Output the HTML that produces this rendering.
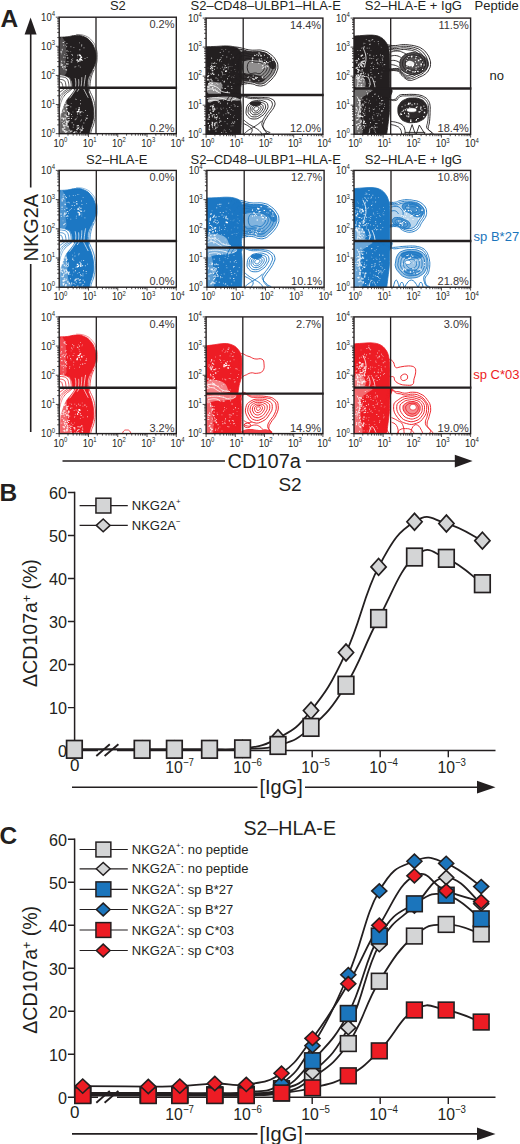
<!DOCTYPE html>
<html><head><meta charset="utf-8"><title>Figure</title>
<style>
html,body{margin:0;padding:0;background:#fff;}
svg{display:block;}
text{font-family:"Liberation Sans", Arial, Helvetica, sans-serif;}
</style></head><body>
<svg width="520" height="1144" viewBox="0 0 520 1144">
<rect width="520" height="1144" fill="#fff"/>
<g fill="#231f20">
<g id="panelA">
<clipPath id="cp00"><rect x="59.2" y="17.2" width="117.1" height="116.46"/></clipPath>
<clipPath id="cp01"><rect x="206.1" y="18.1" width="116.8" height="116.1"/></clipPath>
<clipPath id="cp02"><rect x="354" y="18.1" width="116.6" height="116.1"/></clipPath>
<clipPath id="cp10"><rect x="59.2" y="170.4" width="117.1" height="116.8"/></clipPath>
<clipPath id="cp11"><rect x="206.9" y="170.4" width="117.2" height="116.8"/></clipPath>
<clipPath id="cp12"><rect x="354" y="170.4" width="116.6" height="116.8"/></clipPath>
<clipPath id="cp20"><rect x="59.2" y="316.9" width="117.1" height="116.7"/></clipPath>
<clipPath id="cp21"><rect x="206.1" y="316.9" width="116.8" height="116.7"/></clipPath>
<clipPath id="cp22"><rect x="354" y="316.9" width="116.6" height="116.7"/></clipPath>
<g clip-path="url(#cp00)">
<path d="M59.2,37.2C61.2,37.1 62.95,37.25 67.2,36.8C71.45,36.35 71.95,35.4 76.2,35.4C80.45,35.4 80.58,35.23 84.2,36.8C87.83,38.38 88.05,38.6 90.7,41.7C93.35,44.8 93.45,45.33 94.8,49.2C96.15,53.08 96.1,53.33 96.1,57.2C96.1,61.08 95.83,61.33 94.8,64.7C93.78,68.08 93.4,67.83 92,70.7C90.6,73.58 90.25,73.58 89.2,76.2C88.15,78.83 88.25,78.33 87.8,81.2C87.35,84.08 87.5,86.08 87.4,87.7L72.8,87.7L71.8,81.2L69.7,77.4L64.2,75.4L59.2,74.6Z" fill="#231f20" stroke="#231f20" stroke-width="0.8" stroke-linejoin="round"/>
<path d="M59.7,76.8C60.83,76.9 62.33,76.6 64.2,77.2C66.08,77.8 66.1,77.7 67.2,79.2C68.3,80.7 68.15,81.08 68.6,83.2C69.05,85.33 68.9,86.58 69,87.7" fill="none" stroke="#231f20" stroke-width="0.75"/><path d="M59.7,79.4C60.58,79.55 61.78,79.25 63.2,80C64.62,80.75 64.7,80.48 65.4,82.4C66.1,84.33 65.85,86.38 66,87.7" fill="none" stroke="#231f20" stroke-width="0.75"/><path d="M59.7,82.2C60.23,82.35 60.98,81.42 61.8,82.8C62.62,84.17 62.7,86.47 63,87.7" fill="none" stroke="#231f20" stroke-width="0.75"/><path d="M67.2,76.6C67.85,77.15 68.85,77.15 69.8,78.8C70.75,80.45 70.65,80.98 71,83.2C71.35,85.42 71.15,86.58 71.2,87.7" fill="none" stroke="#231f20" stroke-width="0.75"/><path d="M92.6,70.4C91.95,72.1 90.95,74 90,77.2C89.05,80.4 89.15,80.58 88.8,83.2C88.45,85.83 88.65,86.58 88.6,87.7" fill="none" stroke="#231f20" stroke-width="0.75"/><path d="M93.8,70.2C93.1,72.2 92,73.83 91,78.2C90,82.58 90.1,85.33 89.8,87.7" fill="none" stroke="#231f20" stroke-width="0.75"/>
<path d="M75.2,78.2C75.35,79.2 75.7,80.03 75.8,82.2C75.9,84.38 75.65,85.73 75.6,86.9" fill="none" stroke="#fff" stroke-width="0.7"/><path d="M78.6,79.2C78.65,80.2 78.85,81.28 78.8,83.2C78.75,85.12 78.5,85.98 78.4,86.9" fill="none" stroke="#fff" stroke-width="0.7"/><path d="M81.8,77.2C81.75,78.45 81.8,79.78 81.6,82.2C81.4,84.62 81.15,85.73 81,86.9" fill="none" stroke="#fff" stroke-width="0.7"/><path d="M85.6,75.2C85.35,76.7 85,78.28 84.6,81.2C84.2,84.12 84.15,85.48 84,86.9" fill="none" stroke="#fff" stroke-width="0.7"/>
<path d="M60.4,134.66C60.48,131.67 60.32,124.69 60.8,119.7C61.28,114.71 61.72,113.38 62.8,109.7C63.88,106.02 64.6,104.18 66.2,101.3C67.8,98.42 69.2,97.42 70.8,95.3C72.4,93.18 73.32,92.22 74.2,90.7C75.08,89.18 72.6,88.3 75.2,87.7C77.8,87.1 84.48,86.7 87.2,87.7C89.92,88.7 88,90.5 88.8,92.7C89.6,94.9 90.32,95.9 91.2,98.7C92.08,101.5 92.7,103.3 93.2,106.7C93.7,110.1 93.9,112.3 93.7,115.7C93.5,119.1 92.9,120.9 92.2,123.7C91.5,126.5 90.76,127.51 90.2,129.7C89.64,131.89 89.56,133.67 89.4,134.66Z" fill="#231f20" stroke="#231f20" stroke-width="0.8" stroke-linejoin="round"/>
<path d="M59.7,101.7C60.33,100.2 60.58,98.2 62.2,95.7C63.83,93.2 64.2,93.3 66.2,91.7C68.2,90.1 68.55,90.3 70.2,89.3C71.85,88.3 72.15,88.1 72.8,87.7" fill="none" stroke="#231f20" stroke-width="0.75"/><path d="M59.7,96.7C60.45,95.7 61.08,94.4 62.7,92.7C64.33,91 64.47,91.15 66.2,89.9C67.93,88.65 68.75,88.25 69.6,87.7" fill="none" stroke="#231f20" stroke-width="0.75"/><path d="M59.7,92.3C60.45,91.75 61.23,91.25 62.7,90.1C64.18,88.95 64.88,88.3 65.6,87.7" fill="none" stroke="#231f20" stroke-width="0.75"/><path d="M59.7,107.7C60.23,105.83 60.43,103.45 61.8,100.2C63.18,96.95 63.35,96.93 65.2,94.7C67.05,92.47 67.45,92.75 69.2,91.3C70.95,89.85 71.45,89.5 72.2,88.9" fill="none" stroke="#231f20" stroke-width="0.75"/><path d="M88.6,87.7C89.1,88.95 89.45,89.95 90.6,92.7C91.75,95.45 92.15,95.45 93.2,98.7C94.25,101.95 94.3,101.7 94.8,105.7C95.3,109.7 95.45,110.2 95.2,114.7C94.95,119.2 94.7,119.95 93.8,123.7C92.9,127.45 92.35,127.21 91.6,129.7C90.85,132.19 91,132.67 90.8,133.66" fill="none" stroke="#231f20" stroke-width="0.75"/><path d="M59.8,113.7C59.88,116.2 60.1,118.71 60.1,123.7C60.1,128.69 59.88,131.17 59.8,133.66" fill="none" stroke="#231f20" stroke-width="0.75"/>
<path d="M76.2,88.7C75.45,89.85 74.85,90.9 73.2,93.3C71.55,95.7 70.5,97.05 69.6,98.3" fill="none" stroke="#fff" stroke-width="0.7"/><path d="M79.2,88.7C78.7,89.45 77.7,90.95 77.2,91.7" fill="none" stroke="#fff" stroke-width="0.7"/><path d="M83.6,88.7C84.1,89.7 84.45,90.45 85.6,92.7C86.75,94.95 87.55,96.45 88.2,97.7" fill="none" stroke="#fff" stroke-width="0.7"/>
<path d="M76.2,34.4C78.45,34.75 81.2,34.15 85.2,35.8C89.2,37.45 89.45,37.8 92.2,41C94.95,44.2 94.9,44.55 96.2,48.6C97.5,52.65 97.45,52.95 97.4,57.2C97.35,61.45 97.05,62.1 96,65.6C94.95,69.1 93.9,69.8 93.2,71.2" fill="none" stroke="#231f20" stroke-width="0.5"/>
<path d="M60.1,96.7C60.72,89.27 61.88,94.7 63.2,95.7C64.52,96.7 65.9,98.1 66.7,101.7C67.5,105.3 66.9,108.9 67.2,113.7C67.5,118.5 67.4,121.87 68.2,125.7C69,129.53 72.82,131.43 71.2,132.86C69.58,134.29 62.32,140.09 60.1,132.86C57.88,125.63 59.48,104.13 60.1,96.7Z" fill="#fff" fill-opacity="0.32"/>
<path d="M60.1,40.2C60.92,33.6 62.98,38 64.2,40.2C65.42,42.4 65.92,46.6 66.2,51.2C66.48,55.8 65.6,58.8 65.6,63.2C65.6,67.6 67.3,71.2 66.2,73.2C65.1,75.2 61.32,79.8 60.1,73.2C58.88,66.6 59.28,46.8 60.1,40.2Z" fill="#fff" fill-opacity="0.22"/>
<path d="M71.94,60.41h0.89v0.54h-0.89zM66.54,53.17h0.53v0.8h-0.53zM82.52,57.51h0.54v0.55h-0.54zM63.68,61.43h0.57v0.63h-0.57zM65.39,44.72h0.85v0.74h-0.85zM76.97,54.72h1.02v0.67h-1.02zM76.95,59.25h0.69v0.99h-0.69zM78.38,65.57h0.88v0.72h-0.88zM71.09,54.09h0.54v0.62h-0.54zM70.6,46.31h0.69v0.85h-0.69zM67.39,57.58h0.98v0.92h-0.98zM74.57,66.56h0.82v1.03h-0.82zM73.3,47.22h1.09v0.57h-1.09zM64.35,61.62h0.59v0.79h-0.59zM84.51,58.19h0.96v0.84h-0.96zM79.36,49.28h0.92v0.86h-0.92zM66.5,50.32h1v1.07h-1zM63.75,57.18h0.54v0.92h-0.54zM66.4,43.27h0.99v0.67h-0.99zM66.19,63.27h0.51v0.78h-0.51zM76.39,59.67h0.54v0.96h-0.54zM78.65,60.62h0.73v1.02h-0.73zM81.82,60.08h0.83v1.03h-0.83zM79.3,42.56h0.67v0.75h-0.67zM66.48,66.14h1.07v0.59h-1.07zM77,61.66h0.64v0.79h-0.64zM68.55,51.12h0.5v0.75h-0.5zM67.54,63.47h1.07v0.91h-1.07zM64.03,54.05h0.91v0.53h-0.91zM83.47,47.38h1.02v0.98h-1.02zM67.8,61.13h0.56v0.88h-0.56zM77.32,56.68h0.63v0.6h-0.63zM72.6,58.1h0.5v0.59h-0.5zM80.5,60.58h0.52v1.02h-0.52zM70.42,51.4h0.65v0.71h-0.65zM71.2,59.16h1.01v1.1h-1.01zM65.36,57.41h0.55v0.56h-0.55zM70.52,61.65h1v0.6h-1zM86.74,57.32h0.82v0.59h-0.82zM72.14,54.54h0.82v1.09h-0.82zM81.29,45.73h0.66v0.72h-0.66zM79.89,66.63h0.82v0.97h-0.82zM71.25,61.42h0.99v1.09h-0.99zM81.22,44.44h0.99v0.94h-0.99zM75.56,65.88h0.71v0.52h-0.71zM80.97,56.58h0.66v0.92h-0.66z" fill="#fff" fill-opacity="0.85"/>
<path d="M80.37,56.44h1.65v1.69h-1.65zM80.21,56.49h1.08v1.08h-1.08zM79.09,58.99h1.4v1.62h-1.4zM79.67,54.75h1.42v1.54h-1.42zM80.52,58.93h1.63v1.53h-1.63zM78.7,54.3h1.04v1.53h-1.04zM77.55,60.46h1.68v1.22h-1.68zM76.64,59.57h1.48v1.04h-1.48zM79.41,58.37h1.62v1.55h-1.62z" fill="#fff" fill-opacity="1"/>
<path d="M65.69,69.48h1.38v1.13h-1.38zM62.13,67.37h0.7v0.61h-0.7zM66.55,54.71h1.02v1.35h-1.02zM60.63,63.61h1.26v0.77h-1.26zM63.68,66.4h0.79v1.07h-0.79zM63.56,68.19h0.7v1.33h-0.7zM62.22,66.35h1.07v1.32h-1.07zM60.67,64.99h1v1.03h-1zM63.21,56.86h0.95v0.75h-0.95zM66.92,57.58h0.74v0.98h-0.74zM63.28,44.67h0.86v1.01h-0.86zM60.7,52.06h0.68v1.05h-0.68zM63.72,66.15h1.22v1.01h-1.22zM60.79,51.59h1.33v0.95h-1.33zM61.75,49.35h1.01v1.15h-1.01zM61.19,60.86h0.98v1.35h-0.98zM62.64,42.09h1.35v0.81h-1.35zM60.45,51.17h1.27v0.71h-1.27zM65.43,65.02h0.66v0.79h-0.66zM66.34,63.37h1.23v1.32h-1.23zM65.42,69.07h1.13v0.71h-1.13zM66.32,45.97h0.78v1.36h-0.78zM61.68,64.28h1.39v1.27h-1.39zM64.95,66.68h1.01v0.87h-1.01zM64.38,66.24h1.18v0.62h-1.18zM61.45,53.44h0.61v0.87h-0.61zM61.87,48.65h0.65v1.39h-0.65zM64.55,40.93h0.68v0.81h-0.68zM66.78,60.89h0.82v0.7h-0.82zM60.67,64.82h1.26v0.81h-1.26z" fill="#fff" fill-opacity="0.8"/>
<path d="M83.43,122.53h0.84v0.92h-0.84zM79.43,113.49h0.91v0.76h-0.91zM86.77,117.66h0.88v0.98h-0.88zM86,118.21h0.54v1.02h-0.54zM71.06,114.03h0.83v1.06h-0.83zM76.76,116.7h0.82v0.64h-0.82zM80.62,115.27h0.53v0.62h-0.53zM74.89,118.85h0.96v0.67h-0.96zM72.56,111.7h0.71v0.51h-0.71zM77.2,113.43h0.94v0.83h-0.94zM80.01,120.66h1.06v0.56h-1.06zM80.23,103.35h0.8v1h-0.8zM71.07,117.9h0.91v1.09h-0.91zM71.68,122.37h0.92v0.88h-0.92zM71.84,116.35h0.53v0.58h-0.53zM85.75,116.88h0.65v0.6h-0.65zM85.9,118.2h1.02v0.9h-1.02zM76.12,118.45h0.68v0.78h-0.68zM81.23,119.51h0.66v1.08h-0.66zM85.22,109.93h0.65v1.08h-0.65zM74.8,119.48h0.5v0.73h-0.5zM69.5,113.27h0.62v0.8h-0.62zM82.85,111.92h0.55v0.74h-0.55zM78.79,112.24h0.68v0.64h-0.68zM70.33,106.48h0.95v0.89h-0.95zM75.01,98.87h0.73v0.7h-0.73zM81.43,111.18h0.93v0.89h-0.93zM86.88,115.18h1.04v0.88h-1.04zM76.2,99.15h0.58v0.81h-0.58zM67.15,111.35h0.98v1h-0.98zM68.22,105.03h0.91v0.92h-0.91zM77.44,114.15h0.58v0.72h-0.58zM85.15,119.54h0.84v0.88h-0.84zM70.83,103.47h0.79v0.5h-0.79zM80.01,100.13h0.8v0.82h-0.8zM75.67,108.67h0.94v0.65h-0.94z" fill="#fff" fill-opacity="0.85"/>
<path d="M79.8,111.54h1.41v1.04h-1.41zM78.55,107.15h1.25v1.17h-1.25zM76.73,111.09h1.44v1.33h-1.44zM78.28,109.92h1v1.08h-1zM78.64,108.72h1.3v0.91h-1.3zM79.85,111.39h1.37v1.38h-1.37zM78.12,108.97h1.26v1.23h-1.26zM77.89,110.96h1.53v1.04h-1.53z" fill="#fff" fill-opacity="1"/>
<path d="M68.73,115.71h0.72v1.11h-0.72zM66.46,104.34h1.1v0.94h-1.1zM65.72,131.82h0.89v1.22h-0.89zM66.61,126.14h1.56v0.82h-1.56zM65.98,108.03h1.5v1.33h-1.5zM65.16,131.81h1.14v0.72h-1.14zM67.64,117.94h1.11v0.97h-1.11zM66.26,124.5h0.98v1.46h-0.98zM68.34,117.84h1.46v0.81h-1.46zM67.87,112.05h1.51v0.96h-1.51zM62.87,124.46h1.6v1.23h-1.6zM62.94,125.23h0.95v0.74h-0.95zM67.78,125.87h0.96v1.54h-0.96zM64.71,125.43h1.16v0.87h-1.16zM61.83,128.18h1.5v1.43h-1.5zM61.97,107.19h1.55v1.19h-1.55zM64.52,114.42h1.36v1.11h-1.36zM64.76,105.66h0.96v0.74h-0.96zM66.04,115.32h1.12v1.01h-1.12zM63.63,130.02h1.58v0.93h-1.58zM63.42,110.87h1.2v1.05h-1.2zM65.54,122.94h0.89v1.52h-0.89zM62.73,117.83h1.52v1.6h-1.52zM63.21,119.43h0.87v0.78h-0.87zM64.01,121.49h0.92v0.93h-0.92zM61.12,111.71h1.37v1.07h-1.37zM62.09,123.29h1.04v1h-1.04zM66.75,120.7h1.57v0.81h-1.57zM61.37,117.45h1.48v0.89h-1.48zM64.42,125.11h1.06v1.1h-1.06zM68.41,113.76h1.49v0.72h-1.49zM68.17,120.24h1.51v1.13h-1.51zM64.65,117.6h1.05v1.53h-1.05zM66.48,105.36h1.58v0.92h-1.58zM65.98,121.43h1.17v1.31h-1.17zM68.03,113.12h1.28v1.39h-1.28zM61.69,120.65h0.74v1.4h-0.74zM65.14,132h1.28v0.97h-1.28zM66.16,123.12h1.27v1.33h-1.27zM65.55,120.28h1.17v1.22h-1.17zM63.19,122.29h1.24v0.71h-1.24zM63.79,127.35h1.56v1.28h-1.56zM66.86,110.8h0.91v0.92h-0.91zM68.12,114.62h0.98v0.72h-0.98zM61.25,117.83h1.08v0.93h-1.08zM62.7,105.17h0.9v0.73h-0.9zM63.27,125.98h1.31v0.88h-1.31zM65.75,105.36h1.15v0.88h-1.15zM67,116.12h1.44v0.91h-1.44zM65.35,130.57h0.97v1.56h-0.97zM62.88,117.87h0.9v1.08h-0.9zM62.62,105.11h0.83v1.05h-0.83zM65.66,132.11h0.83v0.75h-0.83zM67.15,121.17h1.51v1.5h-1.51zM64.25,102.81h1.54v1h-1.54zM66.3,131.04h1.37v0.73h-1.37zM63.38,109.77h1.04v1h-1.04zM64.81,118.4h0.95v1.02h-0.95zM66.12,116.24h1.57v0.89h-1.57zM62.34,128.36h1.44v1.09h-1.44z" fill="#fff" fill-opacity="0.85"/>
<path d="M81.06,129.6h0.9v1.34h-0.9zM75.74,131.2h1.32v0.62h-1.32zM64.04,130.82h1.21v0.63h-1.21zM76.13,128.9h1.34v0.81h-1.34zM73.01,124.39h0.87v0.82h-0.87zM82.29,127.73h0.81v1.17h-0.81zM70.64,130.82h0.6v1.2h-0.6zM81.47,126.86h1.35v0.62h-1.35zM74.04,131.75h1.37v1.36h-1.37zM68.65,130.13h0.94v0.99h-0.94zM77.82,127.82h1.24v1.19h-1.24zM77.86,125.11h1.09v0.86h-1.09zM70.15,131.11h1.23v0.66h-1.23zM76.58,132.35h0.8v0.65h-0.8zM81.92,129.37h0.86v1.38h-0.86zM82.07,125.67h0.81v0.67h-0.81zM80.16,130.47h1.17v0.96h-1.17zM73.97,131.55h1.1v1.14h-1.1zM73.06,124.52h1.13v0.7h-1.13zM76.72,126.61h1.05v0.9h-1.05zM72.8,126.66h0.8v0.8h-0.8zM79.64,132.13h1.06v0.86h-1.06zM63.7,131.38h1.01v0.79h-1.01zM76.68,125.27h1.39v0.68h-1.39zM62.48,129.3h1.27v1.33h-1.27zM79.5,129.27h0.7v0.75h-0.7zM82.23,128.08h1.34v0.9h-1.34zM78.56,126.41h0.81v1.22h-0.81zM76.88,128.17h1.08v1.1h-1.08zM74.67,131.34h0.71v0.76h-0.71zM72.91,132.14h1.12v0.76h-1.12zM80.05,128.84h1.14v0.75h-1.14zM71.14,130.54h1.24v1.04h-1.24zM76.72,129.21h0.92v1.04h-0.92z" fill="#fff" fill-opacity="0.85"/>
</g>
<g clip-path="url(#cp10)">
<path d="M59.2,190.4C61.2,190.3 62.95,190.45 67.2,190C71.45,189.55 71.95,188.6 76.2,188.6C80.45,188.6 80.58,188.43 84.2,190C87.83,191.57 88.05,191.8 90.7,194.9C93.35,198 93.45,198.53 94.8,202.4C96.15,206.28 96.1,206.53 96.1,210.4C96.1,214.28 95.83,214.53 94.8,217.9C93.78,221.28 93.4,221.03 92,223.9C90.6,226.78 90.25,226.78 89.2,229.4C88.15,232.03 88.25,231.5 87.8,234.4C87.35,237.3 87.5,239.35 87.4,241L72.8,241L71.8,234.4L69.7,230.6L64.2,228.6L59.2,227.8Z" fill="#1c77c3" stroke="#1c77c3" stroke-width="0.8" stroke-linejoin="round"/>
<path d="M59.7,230C60.83,230.1 62.33,229.8 64.2,230.4C66.08,231 66.1,230.9 67.2,232.4C68.3,233.9 68.15,234.25 68.6,236.4C69.05,238.55 68.9,239.85 69,241" fill="none" stroke="#1c77c3" stroke-width="0.75"/><path d="M59.7,232.6C60.58,232.75 61.78,232.45 63.2,233.2C64.62,233.95 64.7,233.65 65.4,235.6C66.1,237.55 65.85,239.65 66,241" fill="none" stroke="#1c77c3" stroke-width="0.75"/><path d="M59.7,235.4C60.23,235.55 60.98,234.6 61.8,236C62.62,237.4 62.7,239.75 63,241" fill="none" stroke="#1c77c3" stroke-width="0.75"/><path d="M67.2,229.8C67.85,230.35 68.85,230.35 69.8,232C70.75,233.65 70.65,234.15 71,236.4C71.35,238.65 71.15,239.85 71.2,241" fill="none" stroke="#1c77c3" stroke-width="0.75"/><path d="M92.6,223.6C91.95,225.3 90.95,227.2 90,230.4C89.05,233.6 89.15,233.75 88.8,236.4C88.45,239.05 88.65,239.85 88.6,241" fill="none" stroke="#1c77c3" stroke-width="0.75"/><path d="M93.8,223.4C93.1,225.4 92,227 91,231.4C90,235.8 90.1,238.6 89.8,241" fill="none" stroke="#1c77c3" stroke-width="0.75"/>
<path d="M75.2,231.4C75.35,232.4 75.7,233.2 75.8,235.4C75.9,237.6 75.65,239 75.6,240.2" fill="none" stroke="#fff" stroke-width="0.7"/><path d="M78.6,232.4C78.65,233.4 78.85,234.45 78.8,236.4C78.75,238.35 78.5,239.25 78.4,240.2" fill="none" stroke="#fff" stroke-width="0.7"/><path d="M81.8,230.4C81.75,231.65 81.8,232.95 81.6,235.4C81.4,237.85 81.15,239 81,240.2" fill="none" stroke="#fff" stroke-width="0.7"/><path d="M85.6,228.4C85.35,229.9 85,231.45 84.6,234.4C84.2,237.35 84.15,238.75 84,240.2" fill="none" stroke="#fff" stroke-width="0.7"/>
<path d="M60.4,288.2C60.48,285.16 60.32,278.04 60.8,273C61.28,267.96 61.72,266.68 62.8,263C63.88,259.32 64.6,257.48 66.2,254.6C67.8,251.72 69.2,250.72 70.8,248.6C72.4,246.48 73.32,245.52 74.2,244C75.08,242.48 72.6,241.6 75.2,241C77.8,240.4 84.48,240 87.2,241C89.92,242 88,243.8 88.8,246C89.6,248.2 90.32,249.2 91.2,252C92.08,254.8 92.7,256.6 93.2,260C93.7,263.4 93.9,265.6 93.7,269C93.5,272.4 92.9,274.2 92.2,277C91.5,279.8 90.76,280.76 90.2,283C89.64,285.24 89.56,287.16 89.4,288.2Z" fill="#1c77c3" stroke="#1c77c3" stroke-width="0.8" stroke-linejoin="round"/>
<path d="M59.7,255C60.33,253.5 60.58,251.5 62.2,249C63.83,246.5 64.2,246.6 66.2,245C68.2,243.4 68.55,243.6 70.2,242.6C71.85,241.6 72.15,241.4 72.8,241" fill="none" stroke="#1c77c3" stroke-width="0.75"/><path d="M59.7,250C60.45,249 61.08,247.7 62.7,246C64.33,244.3 64.47,244.45 66.2,243.2C67.93,241.95 68.75,241.55 69.6,241" fill="none" stroke="#1c77c3" stroke-width="0.75"/><path d="M59.7,245.6C60.45,245.05 61.23,244.55 62.7,243.4C64.18,242.25 64.88,241.6 65.6,241" fill="none" stroke="#1c77c3" stroke-width="0.75"/><path d="M59.7,261C60.23,259.12 60.43,256.75 61.8,253.5C63.18,250.25 63.35,250.22 65.2,248C67.05,245.78 67.45,246.05 69.2,244.6C70.95,243.15 71.45,242.8 72.2,242.2" fill="none" stroke="#1c77c3" stroke-width="0.75"/><path d="M88.6,241C89.1,242.25 89.45,243.25 90.6,246C91.75,248.75 92.15,248.75 93.2,252C94.25,255.25 94.3,255 94.8,259C95.3,263 95.45,263.5 95.2,268C94.95,272.5 94.7,273.25 93.8,277C92.9,280.75 92.35,280.45 91.6,283C90.85,285.55 91,286.15 90.8,287.2" fill="none" stroke="#1c77c3" stroke-width="0.75"/><path d="M59.8,267C59.88,269.5 60.1,271.95 60.1,277C60.1,282.05 59.88,284.65 59.8,287.2" fill="none" stroke="#1c77c3" stroke-width="0.75"/>
<path d="M76.2,242C75.45,243.15 74.85,244.2 73.2,246.6C71.55,249 70.5,250.35 69.6,251.6" fill="none" stroke="#fff" stroke-width="0.7"/><path d="M79.2,242C78.7,242.75 77.7,244.25 77.2,245" fill="none" stroke="#fff" stroke-width="0.7"/><path d="M83.6,242C84.1,243 84.45,243.75 85.6,246C86.75,248.25 87.55,249.75 88.2,251" fill="none" stroke="#fff" stroke-width="0.7"/>
<path d="M76.2,187.6C78.45,187.95 81.2,187.35 85.2,189C89.2,190.65 89.45,191 92.2,194.2C94.95,197.4 94.9,197.75 96.2,201.8C97.5,205.85 97.45,206.15 97.4,210.4C97.35,214.65 97.05,215.3 96,218.8C94.95,222.3 93.9,223 93.2,224.4" fill="none" stroke="#1c77c3" stroke-width="0.5"/>
<path d="M60.1,250C60.72,242.52 61.88,248 63.2,249C64.52,250 65.9,251.4 66.7,255C67.5,258.6 66.9,262.2 67.2,267C67.5,271.8 67.4,275.12 68.2,279C69,282.88 72.82,284.92 71.2,286.4C69.58,287.88 62.32,293.68 60.1,286.4C57.88,279.12 59.48,257.48 60.1,250Z" fill="#fff" fill-opacity="0.32"/>
<path d="M60.1,193.4C60.92,186.8 62.98,191.2 64.2,193.4C65.42,195.6 65.92,199.8 66.2,204.4C66.48,209 65.6,212 65.6,216.4C65.6,220.8 67.3,224.4 66.2,226.4C65.1,228.4 61.32,233 60.1,226.4C58.88,219.8 59.28,200 60.1,193.4Z" fill="#fff" fill-opacity="0.22"/>
<path d="M71.68,204.93h0.6v0.92h-0.6zM68.36,212.69h0.68v1.07h-0.68zM70.46,218.83h0.71v0.75h-0.71zM82.74,197.12h0.72v0.62h-0.72zM73.39,201.69h0.5v1.04h-0.5zM63.75,214.66h0.74v1.03h-0.74zM69.12,209.87h0.51v0.83h-0.51zM66.34,197.34h0.55v0.87h-0.55zM67.84,216.13h0.59v0.67h-0.59zM61.8,206.49h0.57v0.79h-0.57zM78.52,194.52h0.62v0.58h-0.62zM86.23,203.21h0.79v0.53h-0.79zM81.44,204.22h1.04v0.87h-1.04zM76.55,203.04h0.97v0.63h-0.97zM64.33,216.19h1v0.61h-1zM75.83,217.69h0.81v0.73h-0.81zM78.82,213.61h0.93v1.04h-0.93zM83.63,211.27h0.95v0.52h-0.95zM76.55,204.02h0.86v0.83h-0.86zM69.18,202.46h0.75v0.85h-0.75zM64.78,213.88h0.77v0.76h-0.77zM84.32,210.13h0.79v0.64h-0.79zM75.18,195.2h0.77v0.61h-0.77zM70.01,209.22h0.58v0.76h-0.58zM81.45,213.83h0.81v0.52h-0.81zM71.76,205.15h0.94v0.97h-0.94zM71.18,208.15h0.8v0.73h-0.8zM78.77,206.72h1.01v1.1h-1.01zM72.88,194.94h0.62v1.09h-0.62zM61.5,209.15h1.05v0.6h-1.05zM77.2,194.35h0.54v0.71h-0.54zM74.4,202.43h1.04v0.66h-1.04zM76.17,203.19h0.8v1.05h-0.8zM75.93,215.83h0.8v0.69h-0.8zM79.6,209.87h0.6v1.06h-0.6zM68.94,195.57h0.6v0.97h-0.6zM81.3,215.63h0.88v0.72h-0.88zM80.96,200.4h0.85v1.03h-0.85zM84.46,217.53h0.88v0.74h-0.88zM76.17,201.03h1.09v0.85h-1.09zM66.94,218.49h0.77v0.61h-0.77zM74.09,205.11h0.99v0.65h-0.99zM65.93,196.98h0.85v0.9h-0.85zM73.99,208.99h0.52v0.59h-0.52zM67.83,201.83h0.81v1.04h-0.81zM78.38,213.67h0.89v0.51h-0.89z" fill="#fff" fill-opacity="0.85"/>
<path d="M80.25,210.44h0.99v1.19h-0.99zM79.02,213.57h1.37v1.06h-1.37zM77.42,208.37h1.01v1.65h-1.01zM78.74,212.02h0.98v1.41h-0.98zM80.29,207.71h1.22v1.11h-1.22zM80.78,210.64h1.35v1.18h-1.35zM77.64,208.18h1.65v1.49h-1.65zM78.72,214.39h0.94v1.33h-0.94zM77.65,211.54h0.95v1.52h-0.95z" fill="#fff" fill-opacity="1"/>
<path d="M66.36,211.38h1.35v0.71h-1.35zM64.58,223h1.01v1.11h-1.01zM64.28,203.85h0.85v0.84h-0.85zM66.94,215.21h1.23v1.17h-1.23zM67.01,211.02h1.2v0.97h-1.2zM63.57,198.98h0.78v0.68h-0.78zM63.78,213.73h0.87v1.2h-0.87zM62.58,195.69h1.17v0.81h-1.17zM61.46,206.68h1.23v1.02h-1.23zM63.42,223.96h1.37v0.77h-1.37zM64.02,208.96h0.81v0.79h-0.81zM63.57,193.89h1.2v0.86h-1.2zM65.21,203.74h0.79v1.33h-0.79zM61.66,200.04h1.13v1.38h-1.13zM60.46,213.37h1.16v1.29h-1.16zM60.87,215.96h1.06v0.85h-1.06zM64.37,223.43h0.66v1.33h-0.66zM64.06,212.6h0.69v1.34h-0.69zM62.94,215.7h0.62v0.63h-0.62zM62.69,197.74h1.16v1.19h-1.16zM66.23,215.65h0.89v1.25h-0.89zM65.14,195.86h0.65v1.29h-0.65zM66.7,201.94h0.69v0.76h-0.69zM64.21,212.44h1.28v1.25h-1.28zM61.52,198.87h1.11v0.83h-1.11zM64.61,213.52h1.21v0.76h-1.21zM62.71,220.44h0.62v0.81h-0.62zM63.08,224.48h0.89v0.86h-0.89zM66.19,207.69h1.28v1.09h-1.28zM65.97,212.51h0.95v1.22h-0.95z" fill="#fff" fill-opacity="0.8"/>
<path d="M71.92,274.65h0.82v0.63h-0.82zM79.35,261.79h0.99v0.6h-0.99zM82.14,265.05h0.96v1.09h-0.96zM84.9,265.27h0.79v0.98h-0.79zM80.29,274.02h0.71v1h-0.71zM76.49,278.57h0.67v0.63h-0.67zM74.78,255.61h0.57v0.88h-0.57zM85.73,271.05h0.92v0.97h-0.92zM72.65,258.99h0.74v0.74h-0.74zM79.69,262.39h1.03v0.52h-1.03zM78.74,271.91h1.04v0.8h-1.04zM69.69,274.05h0.64v0.78h-0.64zM67.83,262.61h0.95v0.89h-0.95zM73.55,271.52h0.59v1.01h-0.59zM72.23,254.73h0.6v0.76h-0.6zM78.43,254.46h0.58v0.78h-0.58zM81.23,260.49h0.61v0.68h-0.61zM74.27,252.69h0.59v0.59h-0.59zM77.3,273h0.81v0.6h-0.81zM74.95,270.37h1.09v0.94h-1.09zM85.86,273.2h0.56v0.73h-0.56zM86.96,263.73h0.94v0.76h-0.94zM80.11,275.55h0.56v0.62h-0.56zM75.65,266.66h0.74v0.97h-0.74zM74.49,255.71h0.88v0.78h-0.88zM82.57,273.46h0.74v0.94h-0.74zM83.24,259.98h0.84v0.95h-0.84zM72.57,268.18h0.93v1.03h-0.93zM78.59,253.42h1.01v0.91h-1.01zM72.53,257.67h0.69v0.88h-0.69zM83.02,270.23h0.97v0.93h-0.97zM73.42,259.91h0.75v0.77h-0.75zM72.12,258.8h0.91v1.06h-0.91zM80.83,275.34h0.97v0.73h-0.97zM66.36,265.88h0.52v0.83h-0.52zM82.37,275.49h1.06v0.81h-1.06z" fill="#fff" fill-opacity="0.85"/>
<path d="M80.16,265.62h1.28v1.4h-1.28zM76.79,263.78h1.48v1.27h-1.48zM76.72,265.87h1.05v1.38h-1.05zM77.06,265.97h0.99v1.59h-0.99zM78.35,264.68h1.09v1.18h-1.09zM80.25,264.19h1.19v1.39h-1.19zM77.96,265.49h1.06v1.42h-1.06zM80.32,263.04h1.05v1.46h-1.05z" fill="#fff" fill-opacity="1"/>
<path d="M63.19,275.34h0.82v1.4h-0.82zM65.92,259.88h1.12v1.21h-1.12zM65.32,285.56h1.02v1.27h-1.02zM66.29,258.69h1.12v0.96h-1.12zM63.28,269.42h1.45v1.02h-1.45zM65.98,264.74h1.04v0.93h-1.04zM63.08,273.9h0.7v1.35h-0.7zM64.29,278.28h0.97v1.13h-0.97zM61.68,276.2h1.29v1.03h-1.29zM68.2,265h0.75v1.45h-0.75zM67.79,263.59h0.83v1.45h-0.83zM64.36,269.64h0.71v1.56h-0.71zM63.53,264.77h0.79v0.83h-0.79zM65.08,284.15h1.01v0.84h-1.01zM67.78,263.44h0.85v1.5h-0.85zM61.82,262.65h1.3v1.5h-1.3zM65.61,257.65h0.88v1.32h-0.88zM61.15,268.52h1.09v1.49h-1.09zM62.67,268.38h0.91v0.83h-0.91zM63.69,271.16h1.12v0.83h-1.12zM61.74,271.57h1.19v1.48h-1.19zM68.55,271.57h1.12v1.21h-1.12zM62.75,259.15h1.04v1.08h-1.04zM65.82,269.99h1.27v1.27h-1.27zM67.93,273.09h1.31v1.54h-1.31zM62.68,284h1.16v1.14h-1.16zM65.32,269.34h1.35v1.26h-1.35zM62.64,282.82h1.03v1.13h-1.03zM61.06,268.9h0.89v1.09h-0.89zM61.94,276.23h1.44v0.96h-1.44zM65.95,262.58h1.15v0.94h-1.15zM60.56,270.4h1.29v1.41h-1.29zM63.55,278.38h0.97v1.23h-0.97zM62.24,261.05h0.74v1.35h-0.74zM67.03,263.71h0.74v0.97h-0.74zM66.53,271.26h1.53v1.25h-1.53zM62.66,259.84h1.52v1.25h-1.52zM62.23,263.05h1.33v1.24h-1.33zM63.89,264.73h1.3v1.11h-1.3zM64.81,266.24h0.86v0.73h-0.86zM65.32,256.83h1.29v1.03h-1.29zM66.34,259.06h1.21v0.93h-1.21zM63.82,280.23h0.99v1.09h-0.99zM62.15,259.73h0.75v1.21h-0.75zM66.1,272.27h1.43v1.22h-1.43zM67.15,266.1h0.71v1.05h-0.71zM61.29,263.07h1.58v1.13h-1.58zM63.56,273.51h1.28v0.89h-1.28zM65,272.52h0.7v1.32h-0.7zM67.68,281.21h0.78v1.48h-0.78zM65.09,272.45h1.35v0.92h-1.35zM64.51,264.54h0.75v1.4h-0.75zM63.82,257.49h1.36v0.78h-1.36zM62.26,261.87h1.11v1.54h-1.11zM64.6,285.73h1.35v0.71h-1.35zM68.07,272.12h1.44v0.77h-1.44zM63.36,282.88h0.85v1.47h-0.85zM63.68,271.31h1.03v1.22h-1.03zM61.5,275.63h0.83v1.42h-0.83zM62.5,280.12h1.27v1.08h-1.27z" fill="#fff" fill-opacity="0.85"/>
<path d="M65.19,284.82h1.36v1.23h-1.36zM67.27,281.21h0.65v1.38h-0.65zM70.04,278.28h0.87v1.08h-0.87zM84.03,281.62h1.08v0.85h-1.08zM63.01,284.04h0.9v1.15h-0.9zM64.09,279.66h1.25v0.83h-1.25zM79.35,282.22h0.94v1.07h-0.94zM77.75,278.32h0.63v1.27h-0.63zM77.43,278.32h1.06v0.82h-1.06zM79.6,278.95h1.15v1.33h-1.15zM71.2,283.28h1.04v1.24h-1.04zM76.39,285.91h1.35v0.79h-1.35zM65.47,279.89h0.97v0.77h-0.97zM72.89,286.1h1.23v0.97h-1.23zM82.38,284.32h1.22v0.79h-1.22zM63.23,280.16h1.31v1.02h-1.31zM64.09,282.71h0.75v0.75h-0.75zM77.44,285.62h0.89v1.05h-0.89zM66.14,284.06h0.72v0.64h-0.72zM80.54,282.15h0.68v1.11h-0.68zM74.3,280.47h1.08v0.88h-1.08zM71.49,282.12h0.63v1.39h-0.63zM78.78,279.86h1.05v0.81h-1.05zM74.63,279.31h1.36v1.21h-1.36zM78.14,278.19h0.8v0.63h-0.8zM74.75,284.02h0.67v0.64h-0.67zM62.72,280.72h0.97v1.36h-0.97zM75.77,281.59h1.08v0.92h-1.08zM81.77,285.22h0.81v1.05h-0.81zM65.76,278.8h1.14v0.91h-1.14zM68.65,282.77h1.37v1.39h-1.37zM73.62,283.07h0.8v0.88h-0.8zM82.55,279.74h1.27v0.64h-1.27zM75.49,278.51h1.12v1.39h-1.12z" fill="#fff" fill-opacity="0.85"/>
</g>
<g clip-path="url(#cp20)">
<path d="M59.2,336.9C61.2,336.8 62.95,336.95 67.2,336.5C71.45,336.05 71.95,335.1 76.2,335.1C80.45,335.1 80.58,334.93 84.2,336.5C87.83,338.07 88.05,338.3 90.7,341.4C93.35,344.5 93.45,345.02 94.8,348.9C96.15,352.77 96.1,353.02 96.1,356.9C96.1,360.77 95.83,361.02 94.8,364.4C93.78,367.77 93.4,367.52 92,370.4C90.6,373.27 90.25,373.27 89.2,375.9C88.15,378.52 88.25,377.95 87.8,380.9C87.35,383.85 87.5,386 87.4,387.7L72.8,387.7L71.8,380.9L69.7,377.1L64.2,375.1L59.2,374.3Z" fill="#ed1c24" stroke="#ed1c24" stroke-width="0.8" stroke-linejoin="round"/>
<path d="M59.7,376.5C60.83,376.6 62.33,376.3 64.2,376.9C66.08,377.5 66.1,377.4 67.2,378.9C68.3,380.4 68.15,380.7 68.6,382.9C69.05,385.1 68.9,386.5 69,387.7" fill="none" stroke="#ed1c24" stroke-width="0.75"/><path d="M59.7,379.1C60.58,379.25 61.78,378.95 63.2,379.7C64.62,380.45 64.7,380.1 65.4,382.1C66.1,384.1 65.85,386.3 66,387.7" fill="none" stroke="#ed1c24" stroke-width="0.75"/><path d="M59.7,381.9C60.23,382.05 60.98,381.05 61.8,382.5C62.62,383.95 62.7,386.4 63,387.7" fill="none" stroke="#ed1c24" stroke-width="0.75"/><path d="M67.2,376.3C67.85,376.85 68.85,376.85 69.8,378.5C70.75,380.15 70.65,380.6 71,382.9C71.35,385.2 71.15,386.5 71.2,387.7" fill="none" stroke="#ed1c24" stroke-width="0.75"/><path d="M92.6,370.1C91.95,371.8 90.95,373.7 90,376.9C89.05,380.1 89.15,380.2 88.8,382.9C88.45,385.6 88.65,386.5 88.6,387.7" fill="none" stroke="#ed1c24" stroke-width="0.75"/><path d="M93.8,369.9C93.1,371.9 92,373.45 91,377.9C90,382.35 90.1,385.25 89.8,387.7" fill="none" stroke="#ed1c24" stroke-width="0.75"/>
<path d="M75.2,377.9C75.35,378.9 75.7,379.65 75.8,381.9C75.9,384.15 75.65,385.65 75.6,386.9" fill="none" stroke="#fff" stroke-width="0.7"/><path d="M78.6,378.9C78.65,379.9 78.85,380.9 78.8,382.9C78.75,384.9 78.5,385.9 78.4,386.9" fill="none" stroke="#fff" stroke-width="0.7"/><path d="M81.8,376.9C81.75,378.15 81.8,379.4 81.6,381.9C81.4,384.4 81.15,385.65 81,386.9" fill="none" stroke="#fff" stroke-width="0.7"/><path d="M85.6,374.9C85.35,376.4 85,377.9 84.6,380.9C84.2,383.9 84.15,385.4 84,386.9" fill="none" stroke="#fff" stroke-width="0.7"/>
<path d="M60.4,434.6C60.48,431.62 60.32,424.68 60.8,419.7C61.28,414.72 61.72,413.38 62.8,409.7C63.88,406.02 64.6,404.18 66.2,401.3C67.8,398.42 69.2,397.42 70.8,395.3C72.4,393.18 73.32,392.22 74.2,390.7C75.08,389.18 72.6,388.3 75.2,387.7C77.8,387.1 84.48,386.7 87.2,387.7C89.92,388.7 88,390.5 88.8,392.7C89.6,394.9 90.32,395.9 91.2,398.7C92.08,401.5 92.7,403.3 93.2,406.7C93.7,410.1 93.9,412.3 93.7,415.7C93.5,419.1 92.9,420.9 92.2,423.7C91.5,426.5 90.76,427.52 90.2,429.7C89.64,431.88 89.56,433.62 89.4,434.6Z" fill="#ed1c24" stroke="#ed1c24" stroke-width="0.8" stroke-linejoin="round"/>
<path d="M59.7,401.7C60.33,400.2 60.58,398.2 62.2,395.7C63.83,393.2 64.2,393.3 66.2,391.7C68.2,390.1 68.55,390.3 70.2,389.3C71.85,388.3 72.15,388.1 72.8,387.7" fill="none" stroke="#ed1c24" stroke-width="0.75"/><path d="M59.7,396.7C60.45,395.7 61.08,394.4 62.7,392.7C64.33,391 64.47,391.15 66.2,389.9C67.93,388.65 68.75,388.25 69.6,387.7" fill="none" stroke="#ed1c24" stroke-width="0.75"/><path d="M59.7,392.3C60.45,391.75 61.23,391.25 62.7,390.1C64.18,388.95 64.88,388.3 65.6,387.7" fill="none" stroke="#ed1c24" stroke-width="0.75"/><path d="M59.7,407.7C60.23,405.82 60.43,403.45 61.8,400.2C63.18,396.95 63.35,396.93 65.2,394.7C67.05,392.47 67.45,392.75 69.2,391.3C70.95,389.85 71.45,389.5 72.2,388.9" fill="none" stroke="#ed1c24" stroke-width="0.75"/><path d="M88.6,387.7C89.1,388.95 89.45,389.95 90.6,392.7C91.75,395.45 92.15,395.45 93.2,398.7C94.25,401.95 94.3,401.7 94.8,405.7C95.3,409.7 95.45,410.2 95.2,414.7C94.95,419.2 94.7,419.95 93.8,423.7C92.9,427.45 92.35,427.22 91.6,429.7C90.85,432.18 91,432.62 90.8,433.6" fill="none" stroke="#ed1c24" stroke-width="0.75"/><path d="M59.8,413.7C59.88,416.2 60.1,418.72 60.1,423.7C60.1,428.68 59.88,431.12 59.8,433.6" fill="none" stroke="#ed1c24" stroke-width="0.75"/>
<path d="M76.2,388.7C75.45,389.85 74.85,390.9 73.2,393.3C71.55,395.7 70.5,397.05 69.6,398.3" fill="none" stroke="#fff" stroke-width="0.7"/><path d="M79.2,388.7C78.7,389.45 77.7,390.95 77.2,391.7" fill="none" stroke="#fff" stroke-width="0.7"/><path d="M83.6,388.7C84.1,389.7 84.45,390.45 85.6,392.7C86.75,394.95 87.55,396.45 88.2,397.7" fill="none" stroke="#fff" stroke-width="0.7"/>
<path d="M76.2,334.1C78.45,334.45 81.2,333.85 85.2,335.5C89.2,337.15 89.45,337.5 92.2,340.7C94.95,343.9 94.9,344.25 96.2,348.3C97.5,352.35 97.45,352.65 97.4,356.9C97.35,361.15 97.05,361.8 96,365.3C94.95,368.8 93.9,369.5 93.2,370.9" fill="none" stroke="#ed1c24" stroke-width="0.5"/>
<path d="M60.1,396.7C60.72,389.28 61.88,394.7 63.2,395.7C64.52,396.7 65.9,398.1 66.7,401.7C67.5,405.3 66.9,408.9 67.2,413.7C67.5,418.5 67.4,421.88 68.2,425.7C69,429.52 72.82,431.38 71.2,432.8C69.58,434.22 62.32,440.02 60.1,432.8C57.88,425.58 59.48,404.12 60.1,396.7Z" fill="#fff" fill-opacity="0.32"/>
<path d="M60.1,339.9C60.92,333.3 62.98,337.7 64.2,339.9C65.42,342.1 65.92,346.3 66.2,350.9C66.48,355.5 65.6,358.5 65.6,362.9C65.6,367.3 67.3,370.9 66.2,372.9C65.1,374.9 61.32,379.5 60.1,372.9C58.88,366.3 59.28,346.5 60.1,339.9Z" fill="#fff" fill-opacity="0.22"/>
<path d="M78.85,356.86h0.95v1.06h-0.95zM71.05,347.55h0.85v0.95h-0.85zM80.03,360.15h0.65v0.57h-0.65zM68.9,355.62h0.64v0.59h-0.64zM73.56,353.39h0.93v0.62h-0.93zM86.4,358.14h0.63v1.06h-0.63zM82.41,344.4h0.58v0.77h-0.58zM84.47,363.17h1.01v0.88h-1.01zM66.96,357.48h0.99v0.79h-0.99zM70.8,350.81h0.63v0.53h-0.63zM72.01,344.03h0.59v1.02h-0.59zM73.34,364.47h0.59v0.66h-0.59zM78.21,347.56h0.6v0.79h-0.6zM69.08,367.87h0.57v1.09h-0.57zM85.72,359.86h0.9v0.63h-0.9zM67.31,356.03h0.65v0.62h-0.65zM65.69,366.15h1.1v1.06h-1.1zM79.92,359.54h1.04v0.53h-1.04zM73.16,346.86h1.09v0.51h-1.09zM76.86,346.7h0.58v0.5h-0.58zM78.86,345.44h0.61v0.76h-0.61zM79.37,351.22h0.84v0.58h-0.84zM79.05,366.82h0.93v0.62h-0.93zM77.58,357.02h0.87v0.8h-0.87zM73.32,361.63h0.87v0.92h-0.87zM77.95,344.29h0.62v0.54h-0.62zM73.3,345.37h0.93v0.53h-0.93zM77,346.84h1.01v1.02h-1.01zM72.59,354.98h1.05v0.79h-1.05zM78.85,349.33h0.61v1h-0.61zM70.67,359.4h0.72v0.86h-0.72zM83.57,355.22h0.77v0.81h-0.77zM82.17,363.62h0.99v1.02h-0.99zM69.47,366.31h0.73v0.95h-0.73zM85.46,360.16h1.07v0.8h-1.07zM64.76,353.99h0.82v0.51h-0.82zM80.22,353.46h0.61v0.56h-0.61zM74.17,368.46h0.52v0.56h-0.52zM72.39,348.61h0.51v0.86h-0.51zM65.86,349.89h0.92v0.56h-0.92zM81.71,345.61h0.53v0.57h-0.53zM65.01,355.33h0.67v0.57h-0.67zM70.21,358h0.86v1.02h-0.86zM80.12,363.97h0.95v0.6h-0.95zM79.99,342h0.73v0.75h-0.73zM79.24,345.71h0.74v1.06h-0.74z" fill="#fff" fill-opacity="0.85"/>
<path d="M78.95,354.49h1.09v1.17h-1.09zM76.33,358.54h1.54v1.63h-1.54zM79.65,353.35h0.94v1.31h-0.94zM81.13,355.84h1.1v1.24h-1.1zM77.65,355.02h1.32v0.96h-1.32zM77.01,358.12h0.92v1.01h-0.92zM80.95,356.2h1.65v1.41h-1.65zM79.59,353.22h1.61v0.93h-1.61zM77.86,355.22h1.44v1.12h-1.44z" fill="#fff" fill-opacity="1"/>
<path d="M60.36,352.61h1.1v0.8h-1.1zM61.35,355.48h1.36v0.83h-1.36zM62.71,369.76h0.7v1.08h-0.7zM66.18,353.58h0.81v0.97h-0.81zM62.34,355.52h0.7v0.71h-0.7zM63.08,367.34h0.83v0.79h-0.83zM65.97,363.49h1.27v1.09h-1.27zM61.07,351.05h0.76v1.17h-0.76zM61.12,359.96h1.09v0.98h-1.09zM63.04,364.67h0.78v1.01h-0.78zM61.65,365.62h0.61v0.88h-0.61zM64.84,350.56h1.05v0.99h-1.05zM62.92,373.39h0.84v1.22h-0.84zM64.21,360.59h1.3v0.95h-1.3zM65.77,360.92h0.95v1.19h-0.95zM65.02,362.01h1.37v1.19h-1.37zM64.88,365.05h0.88v1.14h-0.88zM61.23,346.44h1.26v1.01h-1.26zM63.48,342.28h1.21v0.98h-1.21zM64.36,342.93h1.33v0.7h-1.33zM63.86,356.09h1.21v1.07h-1.21zM60.17,357.12h1.06v0.93h-1.06zM64.41,341.37h1.09v0.9h-1.09zM61.37,360.3h1.18v0.83h-1.18zM61.63,364.93h0.91v0.86h-0.91zM64.47,341.65h1v0.96h-1zM64.5,365.48h0.72v1.06h-0.72zM62.77,354.43h1.34v0.86h-1.34zM65.52,343.94h1.37v0.76h-1.37zM60.63,364.13h0.61v0.64h-0.61z" fill="#fff" fill-opacity="0.8"/>
<path d="M70.08,407.78h1.05v0.96h-1.05zM66.53,408.35h0.81v0.81h-0.81zM74.48,403.68h0.71v0.86h-0.71zM70.84,422.67h0.91v0.82h-0.91zM82.67,416.69h0.74v0.84h-0.74zM67.98,405.81h1.08v0.79h-1.08zM69.11,415.76h1.1v0.71h-1.1zM67.44,409.32h0.6v0.69h-0.6zM87.11,409.98h0.81v0.57h-0.81zM84.4,404.54h0.99v1.09h-0.99zM82.65,405.83h0.59v0.67h-0.59zM69.4,410.98h0.61v0.61h-0.61zM71.36,403.77h0.71v1.1h-0.71zM75.72,409.52h0.75v0.97h-0.75zM74.01,422.6h0.5v0.68h-0.5zM81.81,402.73h0.9v0.62h-0.9zM69.02,411.84h0.66v0.89h-0.66zM66.43,408.95h0.84v0.75h-0.84zM80.35,415.53h0.96v0.56h-0.96zM80.87,415.1h0.81v0.99h-0.81zM69.71,403.5h0.54v0.51h-0.54zM78.01,403.81h0.93v0.71h-0.93zM79.95,418.02h0.56v1.04h-0.56zM71.55,407.61h0.77v0.73h-0.77zM86.97,416.15h0.85v1.08h-0.85zM69.15,415.78h0.65v0.53h-0.65zM86.42,406.25h0.69v1.04h-0.69zM79.64,404.64h0.86v1.08h-0.86zM66.48,412.08h0.65v0.73h-0.65zM76.18,405.24h0.69v1.03h-0.69zM67.45,412.92h0.65v0.6h-0.65zM74.21,416.4h1.08v0.67h-1.08zM73.75,409.91h0.82v0.73h-0.82zM74.89,413.75h0.57v1h-0.57zM73.97,417.27h0.61v0.67h-0.61zM77.37,414.31h0.9v0.7h-0.9z" fill="#fff" fill-opacity="0.85"/>
<path d="M79.82,413.21h0.96v1.09h-0.96zM79.14,409.59h1.21v1.49h-1.21zM79.02,409.35h1.15v1.41h-1.15zM77.02,413.16h1.05v1.57h-1.05zM77.56,410.65h1.22v0.99h-1.22zM78.37,408.93h1.53v1.31h-1.53zM77.9,412.02h1.33v1.05h-1.33zM79.28,409.79h1.26v1.28h-1.26z" fill="#fff" fill-opacity="1"/>
<path d="M64.23,430.77h1.05v1.29h-1.05zM62.57,414.25h1.05v0.78h-1.05zM66.41,430.11h0.99v1.3h-0.99zM67.14,424.81h1.03v1.15h-1.03zM64.39,421.38h0.98v0.9h-0.98zM67.2,426.74h0.95v1.06h-0.95zM67.81,410.55h1.49v1.48h-1.49zM66.19,423.52h0.73v1.31h-0.73zM63.41,410.09h1.07v1.29h-1.07zM64.04,410.6h1.46v1.02h-1.46zM63.47,413.07h0.8v1.52h-0.8zM64.35,405.1h0.74v0.74h-0.74zM65.68,423.38h0.97v1.04h-0.97zM66.97,419.74h1.27v0.86h-1.27zM66.39,408.12h1.34v0.93h-1.34zM61.51,422.63h1.01v0.7h-1.01zM66.57,406.29h0.96v0.74h-0.96zM66.69,408.42h0.74v0.92h-0.74zM67.56,426.28h0.89v1.52h-0.89zM64.7,413.3h1.33v1.05h-1.33zM64.64,404.05h0.95v0.78h-0.95zM67.28,414.47h1.54v1.32h-1.54zM64.43,404.07h1.27v1.11h-1.27zM68.01,421.89h1.09v1.16h-1.09zM66.05,415.36h1.39v0.74h-1.39zM63.6,404.82h0.94v1.19h-0.94zM67.99,415.41h1.19v0.92h-1.19zM67.04,420.97h1.07v0.88h-1.07zM64.12,422.85h1.34v1.3h-1.34zM64.86,425.05h1.16v1.1h-1.16zM66.99,414.21h0.97v1.5h-0.97zM66.68,426.46h1v1.43h-1zM61.2,413.79h0.85v1.3h-0.85zM62.38,411.78h1.39v1.45h-1.39zM66.4,423.02h1.02v0.89h-1.02zM66.77,420.64h0.88v1.33h-0.88zM63.36,419.32h0.99v1.12h-0.99zM63.58,422.36h0.76v0.71h-0.76zM68.33,417.06h0.78v1.35h-0.78zM67.83,416.3h0.8v1.14h-0.8zM63.02,420.32h1.19v0.71h-1.19zM67.65,411.87h1.26v1.54h-1.26zM63.49,411.54h0.92v0.82h-0.92zM68.34,419.98h1.46v0.97h-1.46zM66.02,428.72h1.46v1.53h-1.46zM66.52,429.28h1.45v1.37h-1.45zM63.86,423.41h1.44v0.99h-1.44zM62.59,425.89h1.03v1.45h-1.03zM64.76,420.74h1.21v1.27h-1.21zM66.2,406.29h1.51v1.55h-1.51zM61.73,418.07h0.84v0.97h-0.84zM63.66,415.63h1.32v0.85h-1.32zM60.82,422.86h0.78v0.74h-0.78zM63,420.13h1.35v0.7h-1.35zM66.8,406.03h1.41v1.08h-1.41zM63.99,429.64h1.16v1.08h-1.16zM63.23,426.13h1.3v1.44h-1.3zM66.1,414.25h0.97v1.1h-0.97zM62.42,414.27h0.88v0.78h-0.88zM63.43,426.81h1.57v1.52h-1.57z" fill="#fff" fill-opacity="0.85"/>
<path d="M81.06,425.28h1.37v1.1h-1.37zM74.3,427.58h1.14v1.09h-1.14zM70.56,431.85h1.36v0.98h-1.36zM69.25,426.63h0.87v1.31h-0.87zM78.34,428.94h1.14v0.96h-1.14zM81.59,430.47h0.9v1.06h-0.9zM65.64,430.24h1.05v0.92h-1.05zM77.04,429.86h1.31v1.04h-1.31zM81.68,431.31h0.8v0.68h-0.8zM67.29,428.17h0.99v1.04h-0.99zM74.53,431.97h0.69v1.01h-0.69zM70.31,427.93h0.93v0.66h-0.93zM62.84,430.15h1.04v1.17h-1.04zM73.38,427.08h1.39v1.18h-1.39zM81.96,431.05h0.91v0.74h-0.91zM81.92,427.76h1.22v0.71h-1.22zM73.67,427.53h0.79v0.9h-0.79zM82.41,428.93h0.77v0.84h-0.77zM71.13,425.77h1.31v1.1h-1.31zM79.45,426.17h1.33v1.3h-1.33zM78.3,431.98h0.87v1.21h-0.87zM68.59,424.89h0.7v0.9h-0.7zM72.26,424.23h1.18v0.63h-1.18zM70.19,427.74h1.04v1.24h-1.04zM81.96,431.42h1.14v0.8h-1.14zM76,431.42h1.27v1.07h-1.27zM74.51,429.03h0.69v1.24h-0.69zM76.73,431.68h0.83v1.15h-0.83zM69.86,429.76h1.3v1.03h-1.3zM69.2,424.84h1.36v0.61h-1.36zM70.64,430.06h1v1.3h-1zM73.9,427.79h0.75v1.25h-0.75zM69.98,426.05h0.98v0.73h-0.98zM77.44,426.27h1.3v1.09h-1.3z" fill="#fff" fill-opacity="0.85"/>
<path d="M122.2,434.6C122.58,433.7 122.58,432.15 123.7,431C124.83,429.85 125.2,430 126.7,430C128.2,430 128.57,429.85 129.7,431C130.82,432.15 130.82,433.7 131.2,434.6" fill="none" stroke="#ed1c24" stroke-width="0.8"/>
</g>
<g clip-path="url(#cp01)">
<path d="M206.1,46.7C208.1,46.64 212.1,46.56 216.1,46.4C220.1,46.24 222.5,45.8 226.1,45.9C229.7,46 231.5,46.14 234.1,46.9C236.7,47.66 237.62,47.94 239.1,49.7C240.58,51.46 240.94,52.3 241.5,55.7C242.06,59.1 241.9,61.64 241.9,66.7C241.9,71.76 241.74,76.54 241.5,81C241.26,85.46 240.82,86.2 240.7,89C240.58,91.8 240.86,93.8 240.9,95L206.1,95Z" fill="#231f20" stroke="#231f20" stroke-width="0.8" stroke-linejoin="round"/>
<path d="M206.1,95C210.97,95 233.42,94.25 238.6,95C243.78,95.75 240.19,98.2 240.6,100C241,101.8 241.2,104.15 241.3,107C241.41,109.85 241.36,114.77 241.3,119C241.24,123.23 240.96,132.77 240.9,135.2L206.1,135.2Z" fill="#231f20" stroke="#231f20" stroke-width="0.8" stroke-linejoin="round"/>
<path d="M231.26,76.68h0.63v1.04h-0.63zM220.27,68.39h0.6v0.72h-0.6zM211.19,74.24h0.73v0.71h-0.73zM235.27,71.48h0.7v0.51h-0.7zM207.72,76.4h0.53v0.59h-0.53zM219.12,60.68h0.66v0.8h-0.66zM222.19,87.51h0.82v1.07h-0.82zM226.05,70.65h0.84v0.96h-0.84zM232.89,56.84h0.88v0.88h-0.88zM217.57,79.77h0.98v1.02h-0.98zM235.34,63.97h0.68v0.96h-0.68zM222.35,55.08h0.88v0.71h-0.88zM213.42,66.43h0.54v0.7h-0.54zM216.04,90.58h0.79v0.72h-0.79zM223.42,81.57h0.71v0.58h-0.71zM238.02,71.79h0.77v0.77h-0.77zM215.11,65.75h0.6v0.54h-0.6zM220.27,82.51h0.94v0.83h-0.94zM231.72,65.9h1.05v0.85h-1.05zM229.03,75.36h0.85v1.09h-0.85zM214.33,86.1h0.76v1.02h-0.76zM233.24,77.22h1.04v0.67h-1.04zM222.98,74.21h0.6v0.66h-0.6zM220.99,60.92h0.74v0.62h-0.74zM211.23,58.45h0.89v0.62h-0.89zM221.51,49.22h0.86v0.55h-0.86zM228.56,51.55h0.7v0.58h-0.7zM227.54,85.87h1.03v0.88h-1.03zM229.62,66.1h0.7v0.95h-0.7zM217.06,59.5h0.91v0.7h-0.91zM232.73,75.89h0.53v0.88h-0.53zM217.4,84.28h0.86v0.65h-0.86zM221.28,71.44h1.06v0.84h-1.06zM226.88,70.44h0.87v0.93h-0.87zM220.77,76.8h0.59v0.59h-0.59zM223.62,64.25h0.99v0.75h-0.99zM211.19,66.76h0.83v0.89h-0.83zM215.71,63.26h0.94v0.65h-0.94zM219.75,52.06h0.97v0.69h-0.97zM225.34,49.17h0.77v0.67h-0.77zM207.75,67.71h0.58v0.51h-0.58zM210.3,73.57h0.96v0.72h-0.96zM230.73,70.15h0.95v0.55h-0.95zM228.87,72.27h0.54v0.8h-0.54zM216.68,67.64h1.06v0.72h-1.06zM227.08,78.37h0.94v1.05h-0.94zM224.53,74.06h0.97v0.65h-0.97zM234.33,69.12h0.88v0.71h-0.88zM226.49,56.58h0.69v1.04h-0.69zM233.78,82.74h0.54v0.89h-0.54zM210.97,82.76h0.54v0.84h-0.54zM210.15,82.24h1.07v0.88h-1.07zM224.4,81.82h0.66v0.76h-0.66zM223.94,80.77h0.96v0.89h-0.96zM218.32,91.92h0.63v0.84h-0.63zM231.32,87.99h1.02v0.66h-1.02zM223.24,50.76h0.67v0.7h-0.67zM208.06,72.75h0.6v0.91h-0.6zM214.29,62.27h0.85v1.03h-0.85zM226.86,91.01h0.72v0.97h-0.72zM227.56,63.69h1.02v1.1h-1.02zM222.36,74.16h0.57v1.08h-0.57zM238.35,72.1h0.59v0.94h-0.59zM228.48,76.08h0.91v0.55h-0.91zM214.92,88.81h0.93v1.03h-0.93zM225.98,70.34h0.64v0.98h-0.64zM221.94,66.85h0.8v0.64h-0.8zM218.4,73.88h0.51v1.09h-0.51zM217.02,89.83h0.57v0.79h-0.57zM229.99,81.77h0.61v0.91h-0.61zM231.32,86.1h0.8v0.57h-0.8zM216.27,83.26h1.05v0.71h-1.05zM226.52,92.12h1.03v0.94h-1.03zM222.13,80.08h0.66v0.54h-0.66zM234.09,75.09h0.74v0.83h-0.74zM222.03,72.58h0.91v0.89h-0.91zM211.7,66.37h0.91v1.09h-0.91zM232.63,57.5h0.74v0.69h-0.74zM209.31,81.48h0.73v0.73h-0.73zM217.99,75.34h1.1v0.5h-1.1zM211.1,57.49h0.65v0.87h-0.65zM217.48,78.44h0.62v0.57h-0.62zM230.92,54.5h1.05v0.53h-1.05zM219.97,59h0.89v0.83h-0.89zM216.78,90.85h0.5v0.95h-0.5zM230.02,58.26h0.86v1.1h-0.86zM224.34,88.34h0.95v0.73h-0.95zM220.74,57.35h0.82v0.87h-0.82zM219.09,59.57h0.88v0.83h-0.88zM225.19,87.94h0.66v1.05h-0.66z" fill="#fff" fill-opacity="0.85"/>
<path d="M207.33,79.14h1.17v1.13h-1.17zM211.41,82.84h1.53v1.18h-1.53zM207.87,75.09h1.43v0.91h-1.43zM213.01,89.78h1.11v1.28h-1.11zM213.09,63.35h1.48v0.74h-1.48zM208.09,86.85h1.44v0.81h-1.44zM212.38,83.52h0.79v1.02h-0.79zM212.17,65.83h1.11v0.78h-1.11zM207.54,86.69h1.33v1.1h-1.33zM207.12,78.81h1.38v0.83h-1.38zM209.94,67.99h1.17v0.91h-1.17zM209.29,83.68h1.04v0.72h-1.04zM212.13,88.47h0.75v0.86h-0.75zM210.63,68.56h0.99v0.92h-0.99zM211.79,72.64h1.27v1.47h-1.27zM211.98,86.88h1.41v1.26h-1.41zM210.45,79.29h1.1v1.03h-1.1zM210.53,68.32h1.07v1.28h-1.07zM212.1,67.96h1.05v1.22h-1.05zM212.85,73.63h1.57v1.34h-1.57zM208.55,86.32h1v0.76h-1zM211.21,66.91h1.17v1.15h-1.17zM214.29,68.68h0.72v1.23h-0.72zM208.13,79.41h1.46v1.07h-1.46zM206.91,79.37h1.1v1.14h-1.1zM207.02,75.76h1.3v1.37h-1.3zM210.36,78.73h1.31v1.2h-1.31zM211.58,62.78h0.81v0.9h-0.81zM214.7,83.65h0.79v0.78h-0.79zM211.17,64.72h0.75v1.31h-0.75zM210.34,65.96h0.75v1.32h-0.75zM208.11,82.94h1.6v1.44h-1.6zM212.29,72.41h1v1.17h-1zM215.57,77.46h0.95v0.94h-0.95zM210.22,84.37h1.47v1.2h-1.47zM208.19,76.13h0.75v0.97h-0.75zM213.8,66.11h1.47v0.93h-1.47zM211.41,80.37h1.18v1.04h-1.18zM208.03,79.37h1.23v1.03h-1.23zM211.74,70h1.53v1.2h-1.53z" fill="#fff" fill-opacity="0.85"/>
<path d="M226.98,68.32h1.33v1.23h-1.33zM224.24,66.91h1.12v1.54h-1.12zM225.03,70.55h1.54v1.37h-1.54zM223.19,68.65h1.26v1.6h-1.26zM227.2,68.52h1.41v0.94h-1.41zM226.05,66.99h1.38v1.04h-1.38zM227.32,66.47h1.54v1.3h-1.54zM224.62,65.15h1.14v1.07h-1.14z" fill="#fff" fill-opacity="1"/>
<path d="M226.32,108.56h1.05v0.62h-1.05zM227.08,118h0.97v1.07h-0.97zM211.93,122.31h0.65v1.04h-0.65zM220.63,107.87h0.53v0.92h-0.53zM237.23,119.01h0.68v0.64h-0.68zM215.24,109.42h0.84v0.59h-0.84zM230.85,109.03h1v0.59h-1zM227.94,97.06h0.73v0.52h-0.73zM213.76,124.79h0.63v0.83h-0.63zM232.17,121.63h0.94v0.76h-0.94zM220.76,108.93h1v0.57h-1zM237.25,106h1.06v0.82h-1.06zM220.71,125.21h0.95v0.8h-0.95zM227.51,112.18h0.79v1.02h-0.79zM213.49,106.72h0.55v0.58h-0.55zM221.09,132.02h1.01v0.64h-1.01zM225.66,113.07h0.86v1.08h-0.86zM214.42,129.59h0.89v0.53h-0.89zM217.75,125.41h0.65v0.95h-0.65zM229.24,129.49h0.68v0.54h-0.68zM218.49,112.51h0.83v0.97h-0.83zM214.13,107.46h0.52v0.81h-0.52zM233.64,123.18h0.58v0.85h-0.58zM217.2,123.69h0.9v0.6h-0.9zM230.61,130.4h0.7v1.01h-0.7zM230.86,105.4h0.59v0.56h-0.59zM227.07,110.22h0.8v0.82h-0.8zM231.19,123.17h0.6v0.82h-0.6zM213.42,114.12h0.62v0.74h-0.62zM224.74,120.95h0.64v1.02h-0.64zM208,114.4h0.51v1.07h-0.51zM208.91,115.8h0.84v0.91h-0.84zM224.9,130.57h0.59v0.66h-0.59zM232.95,116.85h0.81v0.68h-0.81zM226.69,111.17h0.85v0.64h-0.85zM211.4,105.32h0.93v0.54h-0.93zM223.43,128.99h1.09v0.52h-1.09zM213.3,104.13h0.99v0.71h-0.99zM227.14,102.86h1.05v0.51h-1.05zM232.66,110.23h0.74v0.55h-0.74zM223.54,130.52h0.91v0.59h-0.91zM219.75,120.38h0.62v0.63h-0.62zM215.39,130.64h1.1v0.97h-1.1zM211.91,116.27h0.97v1.04h-0.97zM223.22,99.76h0.62v0.88h-0.62zM231.13,101h0.56v0.93h-0.56zM219.34,120.68h1.08v0.9h-1.08zM222.94,107.77h1v1.06h-1zM234.51,105.56h1v0.98h-1zM214.2,108h1v0.97h-1zM229.12,107.22h1.08v0.82h-1.08zM228.23,112.49h1.08v0.97h-1.08zM222.92,131.63h0.64v0.62h-0.64zM215.59,116.97h0.8v1.04h-0.8zM217.77,100.2h0.74v0.97h-0.74zM226.68,99.8h1.07v1h-1.07zM219.17,117.65h0.89v1h-0.89zM216.51,126.73h1v0.98h-1zM234.28,114.97h0.51v0.57h-0.51zM227.06,103.48h0.86v0.77h-0.86zM219.32,121.99h0.71v1.01h-0.71zM216.77,107.75h0.55v0.66h-0.55zM219.89,102.81h0.9v0.98h-0.9zM232.7,125.17h0.52v0.99h-0.52zM226.45,123.47h1.07v0.72h-1.07zM225.54,131.92h0.87v1.04h-0.87zM214.19,122.7h1.07v0.8h-1.07zM230.05,114.02h1v0.6h-1zM222.8,114.54h0.61v1.07h-0.61zM209.29,119.31h0.65v0.71h-0.65zM232.68,122.79h1.02v0.81h-1.02zM212.08,127.14h1.04v0.9h-1.04zM234.33,121.34h0.77v1.07h-0.77zM214.69,126.14h0.88v0.73h-0.88zM210.07,112.47h1.04v0.8h-1.04zM212.74,128.48h0.53v1h-0.53zM218.26,101.91h0.77v0.95h-0.77zM233.69,104.56h0.95v0.52h-0.95zM220.4,120.73h1.07v1.03h-1.07zM230.65,125.84h0.85v0.53h-0.85z" fill="#fff" fill-opacity="0.85"/>
<path d="M208.73,126.51h1.28v0.95h-1.28zM212.31,110.75h1.19v1.08h-1.19zM216.09,116.99h1.42v1.31h-1.42zM208.51,128.38h1.34v1.32h-1.34zM211.75,124.39h1.22v1.44h-1.22zM212.9,110.32h0.83v1.16h-0.83zM213.54,114.51h1.36v0.85h-1.36zM211.66,121.72h0.97v1.04h-0.97zM216.9,115.65h0.87v0.98h-0.87zM214.18,116.35h0.99v1.09h-0.99zM214.08,123.29h1.05v1.05h-1.05zM214.62,116.89h0.88v1.52h-0.88zM207.75,122.71h1.27v1.4h-1.27zM211.33,123.83h1.38v1.12h-1.38zM208.28,114.29h1.38v0.95h-1.38zM208.98,129.22h1.18v0.96h-1.18zM210.36,113.17h1.39v0.74h-1.39zM213.84,108.86h1.02v1.55h-1.02zM211.86,125.77h0.76v1.19h-0.76zM212.2,106.58h1.07v1.43h-1.07zM214.22,123.81h1.28v1.57h-1.28zM209.33,109.54h1.4v1.06h-1.4zM216.11,113.99h1.01v1.05h-1.01zM213.11,110.49h0.87v1.48h-0.87zM208.56,116.51h1.3v1.51h-1.3zM214.04,124.92h0.76v1.07h-0.76zM207.49,118.42h1.3v1.22h-1.3zM208.99,124.89h0.95v1.46h-0.95zM213.2,105.62h0.84v1.3h-0.84zM212.19,108.27h1.51v1.51h-1.51zM211.9,105.38h1.28v1.49h-1.28zM214.95,127.6h1.33v1.25h-1.33zM211.9,122.34h1.24v1.44h-1.24zM211.77,125.27h0.9v0.78h-0.9zM209.89,105.71h1.42v1.02h-1.42zM211.68,114.87h1.45v0.99h-1.45zM216.07,118.85h0.82v0.95h-0.82zM215.21,122.14h1.2v1.43h-1.2zM216.51,121.87h0.8v0.9h-0.8zM210.1,112.41h1v1.21h-1z" fill="#fff" fill-opacity="0.85"/>
<path d="M208.3,83.5C209.66,81.14 212.34,81.9 215.1,82C217.86,82.1 220.9,82.4 222.1,84C223.3,85.6 221.62,88.04 221.1,90C220.58,91.96 222.06,93.04 219.5,93.8C216.94,94.56 210.54,95.86 208.3,93.8C206.06,91.74 206.94,85.86 208.3,83.5Z" fill="#fff" fill-opacity="0.5"/>
<path d="M208.5,99.2C209.9,98.12 212.58,97.72 216.1,97.2C219.62,96.68 222.3,96.52 226.1,96.6C229.9,96.68 232.2,96.92 235.1,97.6C238,98.28 240.6,99.4 240.6,100C240.6,100.6 238,100.68 235.1,100.6C232.2,100.52 229.9,99.64 226.1,99.6C222.3,99.56 219.5,99.8 216.1,100.4C212.7,101 210.62,102.84 209.1,102.6C207.58,102.36 207.1,100.28 208.5,99.2Z" fill="#fff" fill-opacity="0.6"/>
<path d="M206.7,87C208.05,86.62 209.25,85.25 212.1,85.5C214.95,85.75 215.6,86.5 218.1,88C220.6,89.5 219.1,90.25 222.1,91.5C225.1,92.75 228.1,92.62 230.1,93" fill="none" stroke="#fff" stroke-width="0.8"/><path d="M206.7,90C208.05,89.75 209.5,88.62 212.1,89C214.7,89.38 214.85,90.3 217.1,91.5C219.35,92.7 220.1,93.23 221.1,93.8" fill="none" stroke="#fff" stroke-width="0.8"/><path d="M206.7,98.5C208.55,98.28 210.25,97.62 214.1,97.6C217.95,97.57 218.1,97.68 222.1,98.4C226.1,99.12 226.6,100.6 230.1,100.5C233.6,100.4 234.6,98.62 236.1,98" fill="none" stroke="#fff" stroke-width="0.8"/><path d="M208.1,101C209.85,100.8 212.1,99.95 215.1,100.2C218.1,100.45 218.85,101.55 220.1,102" fill="none" stroke="#fff" stroke-width="0.8"/>
<path d="M228.2,50.6C234.2,42.75 243.57,50.23 252.2,50.2C260.83,50.17 258.2,49.55 262.7,50.5C267.2,51.45 266.92,51.62 270.2,54C273.48,56.38 273.87,57 275.8,60C277.73,63 277.7,63 277.9,66C278.1,69 277.78,69.12 276.6,72C275.42,74.88 275.18,75 273.2,77.5C271.22,80 271.08,80.02 268.7,82C266.32,83.98 266.58,84.5 263.7,85.4C260.82,86.3 260.58,86.05 257.2,85.6C253.82,85.15 257.45,84.6 250.2,83.6C242.95,82.6 233.7,89.85 228.2,81.6C222.7,73.35 222.2,58.45 228.2,50.6Z" fill="none" stroke="#231f20" stroke-width="0.95"/>
<path d="M231.1,52.24C236.5,45.17 244.94,51.9 252.7,51.88C260.46,51.86 258.1,51.29 262.15,52.15C266.2,53.01 265.95,53.16 268.9,55.3C271.85,57.44 272.21,58 273.94,60.7C275.67,63.4 275.65,63.4 275.83,66.1C276.01,68.8 275.72,68.91 274.66,71.5C273.6,74.09 273.38,74.2 271.6,76.45C269.82,78.7 269.69,78.72 267.55,80.5C265.41,82.28 265.64,82.75 263.05,83.56C260.46,84.37 260.24,84.15 257.2,83.74C254.16,83.33 257.43,82.84 250.9,81.94C244.37,81.04 236.05,87.57 231.1,80.14C226.15,72.71 225.7,59.31 231.1,52.24Z" fill="#231f20" fill-opacity="0.5"/>
<path d="M231.1,52.24C236.5,45.17 244.94,51.9 252.7,51.88C260.46,51.86 258.1,51.29 262.15,52.15C266.2,53.01 265.95,53.16 268.9,55.3C271.85,57.44 272.21,58 273.94,60.7C275.67,63.4 275.65,63.4 275.83,66.1C276.01,68.8 275.72,68.91 274.66,71.5C273.6,74.09 273.38,74.2 271.6,76.45C269.82,78.7 269.69,78.72 267.55,80.5C265.41,82.28 265.64,82.75 263.05,83.56C260.46,84.37 260.24,84.15 257.2,83.74C254.16,83.33 257.43,82.84 250.9,81.94C244.37,81.04 236.05,87.57 231.1,80.14C226.15,72.71 225.7,59.31 231.1,52.24Z" fill="none" stroke="#231f20" stroke-width="0.95"/>
<path d="M241.2,52C243.95,49.75 246.95,51.6 252.2,51.6C257.45,51.6 257.95,51.05 262.2,52C266.45,52.95 266.3,53.3 269.2,55.4C272.1,57.5 272.15,57.75 273.8,60.4C275.45,63.05 276.2,63.85 275.8,66C275.4,68.15 274.6,69.63 272.2,69C269.8,68.37 269.7,65.65 266.2,63.5C262.7,61.35 262.2,61.28 258.2,60.4C254.2,59.52 254.45,59.95 250.2,60C245.95,60.05 243.45,62.6 241.2,60.6C238.95,58.6 238.45,54.25 241.2,52Z" fill="#231f20" fill-opacity="0.9"/>
<path d="M241.2,73.6C243.45,72.2 245.95,73.5 250.2,74C254.45,74.5 254.7,74.7 258.2,75.6C261.7,76.5 263.07,76.1 264.2,77.6C265.33,79.1 264.7,80.35 262.7,81.6C260.7,82.85 259.58,82.75 256.2,82.6C252.82,82.45 252.95,81.75 249.2,81C245.45,80.25 243.2,81.45 241.2,79.6C239.2,77.75 238.95,75 241.2,73.6Z" fill="#231f20" fill-opacity="0.85"/>
<path d="M236,55.12C240.44,49.31 247.38,54.85 253.76,54.83C260.14,54.81 258.2,54.35 261.53,55.05C264.86,55.75 264.66,55.88 267.08,57.64C269.5,59.4 269.8,59.86 271.22,62.08C272.65,64.3 272.63,64.3 272.78,66.52C272.93,68.74 272.69,68.83 271.82,70.96C270.95,73.09 270.76,73.18 269.3,75.03C267.84,76.88 267.73,76.9 265.97,78.36C264.21,79.82 264.4,80.21 262.27,80.88C260.14,81.54 259.96,81.36 257.46,81.02C254.96,80.69 257.65,80.28 252.28,79.54C246.91,78.8 240.07,84.17 236,78.06C231.93,71.96 231.56,60.93 236,55.12Z" fill="none" stroke="#231f20" stroke-width="0.9"/>
<path d="M240.2,57.56C243.8,52.85 249.42,57.34 254.6,57.32C259.78,57.3 258.2,56.93 260.9,57.5C263.6,58.07 263.43,58.17 265.4,59.6C267.37,61.03 267.6,61.4 268.76,63.2C269.92,65 269.9,65 270.02,66.8C270.14,68.6 269.95,68.67 269.24,70.4C268.53,72.13 268.39,72.2 267.2,73.7C266.01,75.2 265.93,75.21 264.5,76.4C263.07,77.59 263.23,77.9 261.5,78.44C259.77,78.98 259.63,78.83 257.6,78.56C255.57,78.29 257.75,77.96 253.4,77.36C249.05,76.76 243.5,81.11 240.2,76.16C236.9,71.21 236.6,62.27 240.2,57.56Z" fill="none" stroke="#231f20" stroke-width="0.9"/>
<path d="M244.4,60C247.16,56.38 251.47,59.82 255.44,59.81C259.41,59.8 258.2,59.51 260.27,59.95C262.34,60.39 262.21,60.47 263.72,61.56C265.23,62.65 265.41,62.94 266.3,64.32C267.18,65.7 267.17,65.7 267.26,67.08C267.35,68.46 267.2,68.52 266.66,69.84C266.12,71.16 266.01,71.22 265.1,72.37C264.19,73.52 264.12,73.53 263.03,74.44C261.94,75.35 262.05,75.59 260.73,76C259.41,76.42 259.29,76.3 257.74,76.1C256.19,75.89 257.86,75.64 254.52,75.18C251.18,74.72 246.93,78.05 244.4,74.26C241.87,70.46 241.64,63.61 244.4,60Z" fill="none" stroke="#231f20" stroke-width="0.9"/>
<path d="M248.6,62.43C250.52,59.92 253.52,62.31 256.28,62.3C259.04,62.3 258.2,62.1 259.64,62.4C261.08,62.7 260.99,62.76 262.04,63.52C263.09,64.28 263.22,64.48 263.83,65.44C264.45,66.4 264.44,66.4 264.5,67.36C264.57,68.32 264.46,68.36 264.09,69.28C263.71,70.2 263.63,70.24 263,71.04C262.37,71.84 262.32,71.85 261.56,72.48C260.8,73.11 260.88,73.28 259.96,73.57C259.04,73.86 258.96,73.78 257.88,73.63C256.8,73.49 257.96,73.31 255.64,72.99C253.32,72.67 250.36,74.99 248.6,72.35C246.84,69.71 246.68,64.94 248.6,62.43Z" fill="none" stroke="#231f20" stroke-width="0.9"/>
<path d="M263.34,66.98h0.79v1.36h-0.79zM264.37,54.53h0.63v1.3h-0.63zM269.59,61.01h0.98v0.66h-0.98zM254.21,55.04h1.13v0.96h-1.13zM252.02,59.53h0.8v1.38h-0.8zM271.96,59.81h1.47v0.9h-1.47zM264.39,59.82h1.03v0.72h-1.03zM251.7,61.89h1.24v1.01h-1.24zM258.35,62.92h0.96v0.85h-0.96zM264.74,66.45h1.06v0.99h-1.06zM264.45,66.35h0.78v0.84h-0.78zM251.86,57.52h1.48v1.27h-1.48zM272.11,57.55h1.25v1.25h-1.25zM266.22,61.39h0.61v1.38h-0.61zM259.53,53.75h0.84v0.92h-0.84zM266.13,65.45h1.49v0.88h-1.49zM266.03,60.92h0.92v1.41h-0.92zM263.92,54.92h0.69v0.7h-0.69zM267.21,65.81h1.02v1.49h-1.02zM270.29,56.24h1.03v1.34h-1.03zM263.94,61.9h1.11v1.06h-1.11zM262.72,63.88h0.62v1.42h-0.62zM258.31,52.46h1.48v0.99h-1.48zM260.38,55.07h1.33v1.36h-1.33zM262.11,60.68h0.79v1.13h-0.79zM260.37,60.53h1.35v1.31h-1.35zM258.77,60.38h1.4v1.08h-1.4zM267.36,61.96h1.16v1.4h-1.16zM251.65,60.62h0.79v0.82h-0.79zM267.36,57.24h0.69v1.13h-0.69zM264.96,62.55h1.01v1.13h-1.01zM254.59,54.92h1v0.66h-1zM260.76,58.17h1.02v0.96h-1.02zM256.48,54.02h0.82v1.18h-0.82zM258.26,54.87h0.73v1.42h-0.73zM258.76,58.83h0.81v1.49h-0.81zM262.2,64.97h1.31v1.34h-1.31zM254.31,54.86h0.63v0.68h-0.63zM271.83,58.93h0.63v0.64h-0.63zM261.89,67.7h0.8v1.2h-0.8z" fill="#fff" fill-opacity="1"/>
<path d="M261.71,76.85h1.24v0.78h-1.24zM255.89,78.38h1.13v0.67h-1.13zM262.68,77.52h0.73v1.16h-0.73zM258.55,80.08h0.67v1.15h-0.67zM261.83,75.92h0.6v1.2h-0.6zM247.54,76.94h0.95v1.03h-0.95zM248.53,76.3h0.65v0.64h-0.65zM250.54,77.48h0.88v0.61h-0.88zM255.16,77.47h1.18v1.17h-1.18zM252.16,78.31h1.06v0.74h-1.06zM252.5,78.49h1.28v0.98h-1.28zM253.54,78.83h1.11v1.19h-1.11zM256.86,77.12h0.86v0.81h-0.86zM255.47,76.7h1.02v1.28h-1.02zM255.29,77.72h0.65v0.68h-0.65zM252.74,75.54h0.96v0.92h-0.96zM249.32,79.46h1.05v1.24h-1.05z" fill="#fff" fill-opacity="1"/>
<path d="M228.2,97.8C234.2,87.9 243.2,97.45 252.2,97.4C261.2,97.35 259.45,97.25 264.2,97.6C268.95,97.95 268.55,97.6 271.2,98.8C273.85,100 274.15,100.22 274.8,102.4C275.45,104.58 274.85,105.1 273.8,107.5C272.75,109.9 272.35,109.52 270.6,112C268.85,114.48 268.5,114.65 266.8,117.4C265.1,120.15 264.65,120.35 263.8,123C262.95,125.65 262.7,125.5 263.4,128C264.1,130.5 265.4,130.75 266.6,133C267.8,135.25 277.8,136 268.2,137C258.6,138 238.2,146.8 228.2,137C218.2,127.2 222.2,107.7 228.2,97.8Z" fill="none" stroke="#231f20" stroke-width="0.95"/>
<path d="M231.2,99.02C236.48,90.31 244.4,98.72 252.32,98.67C260.24,98.63 258.7,98.54 262.88,98.85C267.06,99.16 266.71,98.85 269.04,99.9C271.37,100.96 271.64,101.16 272.21,103.07C272.78,104.99 272.25,105.45 271.33,107.56C270.4,109.67 270.05,109.34 268.51,111.52C266.97,113.7 266.66,113.85 265.17,116.27C263.67,118.69 263.28,118.87 262.53,121.2C261.78,123.53 261.56,123.4 262.18,125.6C262.79,127.8 263.94,128.02 264.99,130C266.05,131.98 274.85,132.64 266.4,133.52C257.95,134.4 240,142.14 231.2,133.52C222.4,124.9 225.92,107.74 231.2,99.02Z" fill="none" stroke="#231f20" stroke-width="0.9"/>
<path d="M246.2,110C246.55,106.8 246.7,105.95 249.2,103.6C251.7,101.25 252.55,101.2 256.2,100.6C259.85,100 260.9,100.1 263.8,101.2C266.7,102.3 267.2,102.55 267.8,105C268.4,107.45 267.85,108.15 266.2,111C264.55,113.85 264.2,114.4 261.2,116.4C258.2,118.4 257.55,119 254.2,119C250.85,119 249.8,118.65 247.8,116.4C245.8,114.15 245.85,113.2 246.2,110Z" fill="none" stroke="#231f20" stroke-width="0.9"/>
<path d="M248.2,109.72C248.48,107.16 248.6,106.48 250.6,104.6C252.6,102.72 253.28,102.68 256.2,102.2C259.12,101.72 259.96,101.8 262.28,102.68C264.6,103.56 265,103.76 265.48,105.72C265.96,107.68 265.52,108.24 264.2,110.52C262.88,112.8 262.6,113.24 260.2,114.84C257.8,116.44 257.28,116.92 254.6,116.92C251.92,116.92 251.08,116.64 249.48,114.84C247.88,113.04 247.92,112.28 248.2,109.72Z" fill="none" stroke="#231f20" stroke-width="0.9"/>
<path d="M250.2,109.44C250.41,107.52 250.5,107.01 252,105.6C253.5,104.19 254.01,104.16 256.2,103.8C258.39,103.44 259.02,103.5 260.76,104.16C262.5,104.82 262.8,104.97 263.16,106.44C263.52,107.91 263.19,108.33 262.2,110.04C261.21,111.75 261,112.08 259.2,113.28C257.4,114.48 257.01,114.84 255,114.84C252.99,114.84 252.36,114.63 251.16,113.28C249.96,111.93 249.99,111.36 250.2,109.44Z" fill="none" stroke="#231f20" stroke-width="0.9"/>
<path d="M252,109.19C252.15,107.84 252.21,107.49 253.26,106.5C254.31,105.51 254.67,105.49 256.2,105.24C257.73,104.99 258.17,105.03 259.39,105.49C260.61,105.95 260.82,106.06 261.07,107.09C261.32,108.12 261.09,108.41 260.4,109.61C259.71,110.81 259.56,111.04 258.3,111.88C257.04,112.72 256.77,112.97 255.36,112.97C253.95,112.97 253.51,112.82 252.67,111.88C251.83,110.93 251.85,110.53 252,109.19Z" fill="none" stroke="#231f20" stroke-width="0.9"/>
<path d="M253.8,108.94C253.88,108.17 253.92,107.96 254.52,107.4C255.12,106.84 255.32,106.82 256.2,106.68C257.08,106.54 257.33,106.56 258.02,106.82C258.72,107.09 258.84,107.15 258.98,107.74C259.13,108.32 259,108.49 258.6,109.18C258.2,109.86 258.12,109.99 257.4,110.47C256.68,110.95 256.52,111.1 255.72,111.1C254.92,111.1 254.66,111.01 254.18,110.47C253.7,109.93 253.72,109.7 253.8,108.94Z" fill="none" stroke="#231f20" stroke-width="0.9"/>
<path d="M250.2,102.6C251.2,101.5 253.45,101.25 256.2,101.2C258.95,101.15 260.7,101.3 261.2,102.4C261.7,103.5 260.45,104.8 258.2,105.6C255.95,106.4 254.2,106.35 252.2,105.6C250.2,104.85 249.2,103.7 250.2,102.6Z" fill="#231f20" fill-opacity="0.95"/>
<path d="M243.8,120C244.9,120.9 245.7,121.85 248.2,123.6C250.7,125.35 251.05,125.25 253.8,127C256.55,128.75 257.1,128.7 259.2,130.6C261.3,132.5 261.45,133.6 262.2,134.6" fill="none" stroke="#231f20" stroke-width="0.9"/><path d="M243.8,134C244.9,133.1 245.7,132.15 248.2,130.4C250.7,128.65 251.15,128.7 253.8,127C256.45,125.3 256.7,125.2 258.8,123.6C260.9,122 261.35,121.35 262.2,120.6" fill="none" stroke="#231f20" stroke-width="0.9"/><path d="M243.8,123.6C245.15,124.35 247.1,125 249.2,126.6C251.3,128.2 252.05,128 252.2,130C252.35,132 250.4,133.45 249.8,134.6" fill="none" stroke="#231f20" stroke-width="0.9"/>
</g>
<g clip-path="url(#cp02)">
<path d="M354,36.1C355.6,35.98 358.4,35.7 362,35.5C365.6,35.3 368.4,34.82 372,35.1C375.6,35.38 377.32,35.62 380,36.9C382.68,38.18 383.68,39.18 385.4,41.5C387.12,43.82 387.72,44.9 388.6,48.5C389.48,52.1 389.56,53.9 389.8,59.5C390.04,65.1 389.8,70.7 389.8,76.5C389.8,82.3 389.8,86.1 389.8,88.5L354,88.5Z" fill="#231f20" stroke="#231f20" stroke-width="0.8" stroke-linejoin="round"/>
<path d="M354,88.5C359.37,88.5 384.43,87 389.8,88.5C395.17,90 389.86,94.9 389.8,98.5C389.74,102.1 389.67,108.6 389.4,112.5C389.13,116.4 388.42,121.09 388,124.5C387.58,127.91 386.81,133.6 386.6,135.2L354,135.2Z" fill="#231f20" stroke="#231f20" stroke-width="0.8" stroke-linejoin="round"/>
<path d="M368.55,40.26h1.05v1h-1.05zM369.45,57.81h0.91v1.01h-0.91zM357.25,71.67h0.61v1.07h-0.61zM358.23,69.37h0.65v0.68h-0.65zM365.04,73.37h0.56v0.77h-0.56zM382.04,59.62h1.06v0.96h-1.06zM377.76,41.12h0.95v0.66h-0.95zM370.02,77.73h0.51v0.64h-0.51zM380.87,46.59h0.7v0.96h-0.7zM372.21,39.17h0.98v0.82h-0.98zM380.78,75.63h0.69v0.88h-0.69zM362.62,75.31h1.08v0.6h-1.08zM358.13,58.19h0.82v1.06h-0.82zM358.02,74.86h0.91v1.08h-0.91zM375.84,68.03h0.67v1.04h-0.67zM377.62,63.07h0.93v1.09h-0.93zM374.44,76.51h0.91v0.91h-0.91zM369.67,40.74h0.65v0.65h-0.65zM382.28,65.52h0.63v0.66h-0.63zM381.73,57.63h0.85v0.89h-0.85zM359.79,50.22h0.68v0.54h-0.68zM371.65,63.21h0.72v0.59h-0.72zM378,73.21h1.08v0.91h-1.08zM368.07,83.26h0.61v0.56h-0.61zM366.86,76.8h0.91v0.77h-0.91zM369.37,54.52h1.06v0.71h-1.06zM371.3,58.27h1v0.64h-1zM378.24,44.65h0.9v0.67h-0.9zM376.53,62.66h1.04v0.59h-1.04zM363.8,46.2h0.9v0.61h-0.9zM372.9,67.99h1.09v0.73h-1.09zM363.47,46.89h0.63v0.54h-0.63zM383.79,64.1h0.58v1.08h-0.58zM361.65,77.74h0.58v0.97h-0.58zM369.91,76.83h0.81v0.57h-0.81zM370.14,83.86h0.67v0.73h-0.67zM370.66,50.45h0.62v0.63h-0.62zM363.23,71.85h0.88v0.78h-0.88zM372.3,57.98h0.9v1h-0.9zM370.25,66.18h0.76v0.57h-0.76zM357.75,67.15h0.56v0.57h-0.56zM363.8,63.31h0.64v0.76h-0.64zM372.88,66.32h0.72v0.78h-0.72zM380.3,54.92h0.54v0.63h-0.54zM369.59,43.63h1.02v1.08h-1.02zM373.12,55.67h1.07v0.81h-1.07zM370.4,72.1h1.02v0.63h-1.02zM376.7,68.29h1.05v0.78h-1.05zM369.52,55.36h0.77v0.69h-0.77zM373.38,81.17h0.72v0.57h-0.72zM380.36,60.31h0.61v0.51h-0.61zM363.84,47.59h0.51v0.78h-0.51zM369.34,44.08h0.64v0.8h-0.64zM360.43,49.89h0.59v0.98h-0.59zM382.16,54.93h1.01v0.72h-1.01zM375.24,56.01h0.64v0.86h-0.64zM373.5,57.93h0.63v0.52h-0.63zM364.79,65.43h0.61v0.95h-0.61zM357.41,50.13h0.74v0.91h-0.74zM384.56,63.89h0.64v0.79h-0.64zM355.43,60.25h0.8v1.1h-0.8zM364.95,54.14h1v0.62h-1zM380.14,61.96h0.64v1.08h-0.64zM365.83,76.07h0.71v0.9h-0.71zM379.08,64.15h0.6v1h-0.6zM381.69,62.02h0.65v0.77h-0.65zM358.29,54.17h0.58v0.64h-0.58zM380.68,78.49h0.59v0.58h-0.59zM358.67,59.4h1.03v0.53h-1.03zM370.6,71.98h0.85v0.77h-0.85zM358.11,74.5h0.9v1.02h-0.9zM377.5,58.6h1.07v0.74h-1.07zM383.6,69.46h0.56v0.51h-0.56zM368.01,74.76h1.08v1.02h-1.08zM360.43,70.58h1.01v0.98h-1.01zM363.87,47.59h0.57v0.65h-0.57zM363.73,46.28h0.98v1.04h-0.98zM376.4,59.48h0.55v1.04h-0.55zM364.22,57.54h0.92v0.65h-0.92zM370.77,76.77h0.81v0.91h-0.81zM381.56,71.39h0.87v0.78h-0.87zM363.69,42.66h0.51v0.79h-0.51zM364.47,43.45h0.89v0.61h-0.89zM382.85,56.4h0.64v0.76h-0.64zM376.59,59.08h0.75v1.08h-0.75zM375.85,55.06h0.94v0.72h-0.94zM363.2,43.65h0.58v0.63h-0.58zM371.69,74.33h0.52v0.58h-0.52zM361.91,70.84h0.55v0.85h-0.55zM380.66,55.41h0.71v0.92h-0.71zM364.2,65.94h0.79v0.51h-0.79zM367.3,53.22h0.72v1.08h-0.72zM371.44,39.73h0.89v0.88h-0.89zM365.88,38.88h0.62v0.96h-0.62zM367.62,73.76h0.99v0.86h-0.99zM378.22,43.43h0.85v0.62h-0.85zM380.92,63.69h0.94v0.66h-0.94zM370.94,62.72h0.6v0.92h-0.6zM377.19,62.29h0.66v0.93h-0.66zM372.08,61.73h0.57v1.06h-0.57zM375.68,60.23h0.7v0.81h-0.7zM365.87,76.32h0.79v0.66h-0.79zM374.09,64.4h0.6v0.55h-0.6zM361.09,47.63h0.66v0.98h-0.66zM368.83,47.81h0.8v0.61h-0.8zM380.13,54.08h0.53v0.59h-0.53zM366.72,47.77h0.93v0.64h-0.93zM373.92,41.02h0.56v0.85h-0.56zM374.55,81.23h0.98v0.97h-0.98zM370.54,69.43h0.9v0.84h-0.9z" fill="#fff" fill-opacity="0.85"/>
<path d="M361.42,75.53h1.28v0.81h-1.28zM358.37,63.96h0.96v1.12h-0.96zM355.84,67.1h0.73v1.42h-0.73zM360.49,78.75h1.34v1.39h-1.34zM356.43,59.66h0.9v1.01h-0.9zM358.67,62.82h0.86v0.93h-0.86zM360.61,55.13h1.42v1.66h-1.42zM360.77,61.17h1.02v1.42h-1.02zM363.67,74.41h0.79v0.75h-0.79zM358.06,69.45h1.63v1.58h-1.63zM357.84,71.75h0.82v1.21h-0.82zM357.02,68.67h1.42v1.23h-1.42zM360.26,64.69h0.77v1.09h-0.77zM357.5,70.86h1.37v0.92h-1.37zM358.56,80.36h1.41v1.47h-1.41zM357.69,77.96h1.63v1.63h-1.63zM358.81,66.37h1.16v1.34h-1.16zM359.83,73.14h1.68v1.61h-1.68zM362.35,78.16h1.32v1h-1.32zM363.94,75.97h1.47v1.14h-1.47zM362.69,75.31h0.79v1.66h-0.79zM362.55,72.8h1.47v0.84h-1.47zM361.04,72.72h0.86v1.23h-0.86zM361.03,64.12h0.87v1.46h-0.87zM357.4,74.31h0.82v0.94h-0.82zM361.68,69h0.96v1.44h-0.96zM363.7,60.13h1.17v1.66h-1.17zM357.87,64.61h1.17v1.42h-1.17zM359.82,64.09h0.89v1.66h-0.89zM363.53,79.27h1.04v0.95h-1.04zM359.89,81.3h1.69v0.85h-1.69zM361.73,62.59h0.87v1.44h-0.87zM358.82,75.99h1.12v1.52h-1.12zM362.47,60.52h0.71v1.46h-0.71zM356.28,60.29h1.65v1.03h-1.65zM362.62,57.84h0.97v1.07h-0.97zM357.9,76.95h1.08v0.81h-1.08zM360.68,85.57h1.11v1.34h-1.11zM363.3,60.67h0.94v1.62h-0.94zM361.66,54.52h1.43v1.45h-1.43zM360.97,62.34h1.36v1.08h-1.36zM360.98,64.9h1.24v1.04h-1.24zM361.26,61.24h1.54v1.55h-1.54zM361.35,65.76h1.64v1.44h-1.64zM358.21,58.05h0.75v1.57h-0.75zM356.78,66.71h1.04v1.48h-1.04zM360.94,54.93h0.91v1.04h-0.91zM360.01,75.23h1.03v0.73h-1.03zM360.69,62.47h0.77v0.77h-0.77zM359.88,62.66h1.16v1.1h-1.16zM361.58,54.75h1.01v1.33h-1.01zM362.71,63.05h1.6v1.43h-1.6zM358.24,84.29h1.27v0.81h-1.27zM356.12,62.15h1.22v1.18h-1.22zM355.94,77.76h1.37v0.91h-1.37zM358.04,77.57h1.66v1.4h-1.66zM363.38,81.15h0.73v1.29h-0.73zM356.14,75.76h1.13v0.79h-1.13zM355.52,67.78h1.49v1.06h-1.49zM360.75,84.03h1.5v0.92h-1.5z" fill="#fff" fill-opacity="0.85"/>
<path d="M381.09,96.76h0.76v0.73h-0.76zM366.39,90.95h0.62v0.68h-0.62zM363.88,127.79h0.61v0.83h-0.61zM357.74,111.32h0.59v1.07h-0.59zM381.24,111.35h0.98v0.61h-0.98zM379.41,102.67h0.96v1.02h-0.96zM360.69,127.39h0.62v0.51h-0.62zM355.78,111.04h1.04v1.07h-1.04zM355.55,109.92h0.84v0.59h-0.84zM360.86,96.98h0.75v0.86h-0.75zM369.55,122.81h0.75v0.81h-0.75zM365.53,112.66h0.5v0.7h-0.5zM367.32,92.86h0.64v0.65h-0.64zM363.75,110.39h0.86v1.04h-0.86zM373.41,127.31h0.93v0.95h-0.93zM367.02,93.45h0.66v1h-0.66zM373.06,109.08h1.07v0.77h-1.07zM373.39,114.33h0.98v0.91h-0.98zM376.38,122.89h0.88v1.1h-0.88zM363.24,127.75h0.65v0.62h-0.65zM375.08,123.22h0.87v0.68h-0.87zM373.69,120.04h0.55v0.62h-0.55zM365.72,125.56h0.61v0.79h-0.61zM356.25,119.31h0.79v1.07h-0.79zM363.43,113.09h0.86v0.59h-0.86zM371.97,116.52h0.92v1.08h-0.92zM362.67,118.77h0.76v0.71h-0.76zM366.58,98.61h0.59v1.02h-0.59zM368.92,110.58h1.01v0.94h-1.01zM362.73,125.09h1.05v0.74h-1.05zM362.53,116.26h0.83v0.9h-0.83zM368.63,90.15h0.59v0.72h-0.59zM377.95,95.74h0.85v0.91h-0.85zM362.18,129.28h0.83v0.74h-0.83zM372.1,118.11h1.04v0.98h-1.04zM378.41,113.43h0.79v0.8h-0.79zM360.72,126.99h0.71v0.82h-0.71zM380.83,103.85h0.79v0.7h-0.79zM361.12,122.46h0.97v0.66h-0.97zM363.59,121.24h0.72v1.05h-0.72zM362.36,108.57h0.7v0.99h-0.7zM376.66,126.69h0.51v0.62h-0.51zM382.53,118.51h0.59v0.64h-0.59zM377.21,115.32h0.94v0.93h-0.94zM382.34,99.99h0.83v1.05h-0.83zM382.2,122.57h0.76v0.62h-0.76zM369.83,91.11h0.73v0.56h-0.73zM379.09,97.76h0.86v1.09h-0.86zM373.45,112.58h0.57v0.51h-0.57zM366.91,94.6h0.57v0.6h-0.57zM374.92,126.82h0.9v1.08h-0.9zM360.49,127.95h0.76v0.73h-0.76zM369.85,121.89h1.08v1.1h-1.08zM368.28,102.56h0.61v0.59h-0.61zM362.36,126.46h0.54v0.82h-0.54zM368.84,107.72h0.76v0.97h-0.76zM361.04,104.63h1.03v0.86h-1.03zM365.09,123.1h1.07v1.02h-1.07zM379.66,103.01h0.59v0.61h-0.59zM360.74,123.5h0.5v0.98h-0.5zM372.41,96.07h0.5v0.98h-0.5zM359.47,120.54h0.84v0.94h-0.84zM357.65,122.96h1.07v1.06h-1.07zM363.68,103.21h0.73v0.66h-0.73zM380.98,100.3h0.97v0.99h-0.97zM382.42,110.3h0.69v0.95h-0.69zM369.1,128.38h0.6v1.01h-0.6zM362.15,112.16h1.05v0.55h-1.05zM381.82,103.28h0.59v0.96h-0.59zM357.2,102.1h0.85v0.76h-0.85zM374.05,108.73h0.97v0.56h-0.97zM369.16,118.61h1.02v0.77h-1.02zM368.88,100.4h0.94v0.89h-0.94zM378.62,120.19h0.93v0.63h-0.93zM365.53,101.85h0.72v1.05h-0.72zM384.04,103.71h0.76v0.84h-0.76zM374.69,93.59h0.77v1.02h-0.77zM358.1,123.73h0.78v0.57h-0.78zM369.97,103.03h0.91v0.53h-0.91zM381,110.17h0.94v0.58h-0.94zM363.99,101.19h0.65v0.99h-0.65zM380.14,114.48h0.55v1.01h-0.55zM372.18,108.83h0.78v0.78h-0.78zM367.5,93.05h0.71v1.06h-0.71zM372.19,118.77h0.99v0.57h-0.99zM374.16,125.57h0.7v0.6h-0.7zM379.34,104.94h0.97v0.65h-0.97zM376.02,105.99h1.04v0.87h-1.04zM382.96,107.88h0.88v0.82h-0.88zM376.11,99.84h0.56v1.05h-0.56zM374.24,94.4h0.95v0.64h-0.95zM356.75,115.88h1.08v1.05h-1.08zM376.61,126.64h0.83v0.74h-0.83zM372.74,118.38h0.78v0.8h-0.78zM368.98,124.52h0.83v0.96h-0.83zM364.89,106.66h1.03v0.72h-1.03zM384.39,105.94h0.58v0.85h-0.58zM379.11,108.54h0.83v0.69h-0.83zM376.67,113.12h0.57v0.67h-0.57zM362.27,99.44h1.07v0.91h-1.07z" fill="#fff" fill-opacity="0.85"/>
<path d="M356.84,128.59h1.33v1.24h-1.33zM362.66,104.24h1.06v1.3h-1.06zM358.47,132.05h0.94v1.67h-0.94zM360.46,116.05h1.25v0.91h-1.25zM358.28,115.06h1.54v1.37h-1.54zM358.07,99.61h1.69v1.38h-1.69zM359.95,114.62h0.75v1.13h-0.75zM362.74,113.42h1.27v0.71h-1.27zM355.9,123.91h1.29v1.52h-1.29zM362.24,116.01h0.88v1.53h-0.88zM363.88,125.62h0.97v1.58h-0.97zM357.17,114.36h1.67v1.11h-1.67zM359.58,110.97h1.53v1.68h-1.53zM363.32,125.22h0.97v0.85h-0.97zM357.32,126.29h1.65v1.69h-1.65zM363.94,114.78h1.35v0.86h-1.35zM359.44,102.25h1.06v1.6h-1.06zM359.94,122.07h0.86v0.85h-0.86zM356.2,106.92h0.86v1.2h-0.86zM356.66,109.33h1.11v1.24h-1.11zM361.2,115.76h1.12v0.94h-1.12zM360.11,106.58h1.52v0.94h-1.52zM362.89,122.13h1.09v1.04h-1.09zM360.22,106.97h1.37v1.53h-1.37zM356.61,119.06h1.62v1.3h-1.62zM360.55,119.62h0.78v1.03h-0.78zM363.42,122.97h1.12v1.01h-1.12zM355.18,114.03h0.94v0.85h-0.94zM359.03,124.91h1.61v1.41h-1.61zM358.16,118.49h0.75v0.82h-0.75zM362.31,103.59h0.86v1.33h-0.86zM363.32,119.91h1.04v0.8h-1.04zM359.8,100.25h1.21v0.87h-1.21zM358.41,105.07h1.36v0.79h-1.36zM360.24,114.74h0.92v1.1h-0.92zM360.47,120.36h1.39v1.69h-1.39zM358.69,123.28h1.37v0.92h-1.37zM356.63,124h1.13v0.86h-1.13zM363.33,120.98h1.69v1.62h-1.69zM362.87,122.78h1.19v0.89h-1.19zM358.3,104.34h1.51v0.99h-1.51zM364.13,108.85h1.17v0.84h-1.17zM358.23,116h1.39v1.4h-1.39zM355.64,107.03h0.75v1.42h-0.75zM360.53,109.66h1.02v0.75h-1.02zM356.31,107.79h1.05v1.4h-1.05zM357.18,126.54h0.98v1.68h-0.98zM359.72,115.76h0.79v1.43h-0.79zM362.63,104.65h0.86v1.57h-0.86zM359.65,109.42h1.08v1.37h-1.08z" fill="#fff" fill-opacity="0.85"/>
<path d="M355,76.5C356.2,74.06 358.92,74.1 361,75.1C363.08,76.1 364.8,79.06 365.4,81.5C366,83.94 366.08,86.14 364,87.3C361.92,88.46 356.8,89.46 355,87.3C353.2,85.14 353.8,78.94 355,76.5Z" fill="#fff" fill-opacity="0.4"/>
<path d="M355,89.7C358.4,81 369.7,88.74 372,89.7C374.3,90.66 368.62,92.34 366.5,94.5C364.38,96.66 362.58,95.7 361.4,100.5C360.22,105.3 360.4,111.96 360.6,118.5C360.8,125.04 363.52,130.26 362.4,133.2C361.28,136.14 356.48,141.9 355,133.2C353.52,124.5 351.6,98.4 355,89.7Z" fill="#fff" fill-opacity="0.35"/>
<path d="M356,74.5C356.5,76 357.75,77.25 358,80.5C358.25,83.75 357.25,85.75 357,87.5" fill="none" stroke="#fff" stroke-width="0.8"/><path d="M368,76.5C368.5,78 369.75,79.75 370,82.5C370.25,85.25 369.25,86.25 369,87.5" fill="none" stroke="#fff" stroke-width="0.8"/><path d="M372,77.5C372.5,78.75 373.25,80 374,82.5C374.75,85 374.75,86.25 375,87.5" fill="none" stroke="#fff" stroke-width="0.8"/><path d="M363,47.5C363.75,50 365.75,52.5 366,57.5C366.25,62.5 364.5,65 364,67.5" fill="none" stroke="#fff" stroke-width="0.8"/><path d="M369,133.2C369.75,131.7 370.25,127.2 372,127.2C373.75,127.2 375,131.7 376,133.2" fill="none" stroke="#fff" stroke-width="0.8"/><path d="M357,96.5C357.75,98.5 359.75,100 360,104.5C360.25,109 358.5,112 358,114.5" fill="none" stroke="#fff" stroke-width="0.8"/>
<path d="M376.3,47.2C381.05,41.45 388.95,46.23 395.3,45.6C401.65,44.97 398.2,44.85 401.7,44.7C405.2,44.55 405.55,44.57 409.3,45C413.05,45.43 413.45,45.4 416.7,46.4C419.95,47.4 419.8,47.25 422.3,49C424.8,50.75 424.85,50.9 426.7,53.4C428.55,55.9 428.75,56.2 429.7,59C430.65,61.8 430.7,61.95 430.5,64.6C430.3,67.25 430.2,67.25 428.9,69.6C427.6,71.95 427.7,72.1 425.3,74C422.9,75.9 422.15,75.8 419.3,77.2C416.45,78.6 416.4,78.8 413.9,79.6C411.4,80.4 411.55,80.75 409.3,80.4C407.05,80.05 407,79.7 404.9,78.2C402.8,76.7 403.05,76.25 400.9,74.4C398.75,72.55 402.45,72.25 396.3,70.8C390.15,69.35 381.3,74.5 376.3,68.6C371.3,62.7 371.55,52.95 376.3,47.2Z" fill="none" stroke="#231f20" stroke-width="0.95"/>
<path d="M378.68,48.59C383,43.35 390.19,47.7 395.97,47.13C401.74,46.56 398.6,46.45 401.79,46.31C404.98,46.17 405.29,46.2 408.71,46.58C412.12,46.97 412.48,46.95 415.44,47.86C418.4,48.77 418.26,48.63 420.54,50.22C422.81,51.82 422.86,51.95 424.54,54.23C426.22,56.5 426.41,56.78 427.27,59.32C428.13,61.87 428.18,62.01 428,64.42C427.82,66.83 427.73,66.83 426.54,68.97C425.36,71.11 425.45,71.24 423.27,72.97C421.08,74.7 420.4,74.61 417.81,75.89C415.21,77.16 415.17,77.34 412.89,78.07C410.62,78.8 410.75,79.12 408.71,78.8C406.66,78.48 406.61,78.16 404.7,76.8C402.79,75.43 403.02,75.02 401.06,73.34C399.11,71.65 402.47,71.38 396.88,70.06C391.28,68.74 383.23,73.43 378.68,68.06C374.13,62.69 374.35,53.82 378.68,48.59Z" fill="none" stroke="#231f20" stroke-width="0.95"/>
<path d="M381.05,49.97C384.95,45.26 391.42,49.17 396.63,48.66C401.84,48.15 399.01,48.05 401.88,47.92C404.75,47.8 405.04,47.82 408.11,48.17C411.19,48.52 411.51,48.5 414.18,49.32C416.85,50.14 416.72,50.01 418.77,51.45C420.82,52.88 420.86,53.01 422.38,55.06C423.9,57.11 424.06,57.35 424.84,59.65C425.62,61.94 425.66,62.07 425.5,64.24C425.33,66.41 425.25,66.41 424.18,68.34C423.12,70.27 423.2,70.39 421.23,71.95C419.26,73.51 418.65,73.42 416.31,74.57C413.97,75.72 413.93,75.88 411.88,76.54C409.83,77.2 409.96,77.48 408.11,77.2C406.27,76.91 406.23,76.62 404.5,75.39C402.78,74.16 402.99,73.79 401.22,72.28C399.46,70.76 402.5,70.51 397.45,69.32C392.41,68.13 385.15,72.36 381.05,67.52C376.95,62.68 377.16,54.69 381.05,49.97Z" fill="none" stroke="#231f20" stroke-width="0.95"/>
<path d="M383.43,51.36C386.9,47.16 392.66,50.65 397.3,50.19C401.93,49.73 399.41,49.64 401.97,49.53C404.53,49.42 404.78,49.44 407.52,49.75C410.26,50.06 410.55,50.04 412.92,50.77C415.29,51.5 415.18,51.39 417.01,52.67C418.83,53.95 418.87,54.06 420.22,55.88C421.57,57.71 421.72,57.93 422.41,59.97C423.1,62.02 423.14,62.13 422.99,64.06C422.85,65.99 422.78,65.99 421.83,67.71C420.88,69.43 420.95,69.53 419.2,70.92C417.45,72.31 416.9,72.24 414.82,73.26C412.74,74.28 412.7,74.43 410.88,75.01C409.05,75.59 409.16,75.85 407.52,75.59C405.88,75.34 405.84,75.08 404.31,73.99C402.77,72.89 402.96,72.56 401.39,71.21C399.82,69.86 402.52,69.64 398.03,68.59C393.54,67.53 387.08,71.29 383.43,66.98C379.78,62.67 379.96,55.56 383.43,51.36Z" fill="none" stroke="#231f20" stroke-width="0.95"/>
<path d="M399.9,63C400.15,60.1 400.2,59.4 402.3,57C404.4,54.6 404.8,54.4 408.3,53.4C411.8,52.4 412.55,52.35 416.3,53C420.05,53.65 420.45,53.85 423.3,56C426.15,58.15 426.7,58.7 427.7,61.6C428.7,64.5 428.65,65 427.3,67.6C425.95,70.2 425.55,70.3 422.3,72C419.05,73.7 418.3,74.15 414.3,74.4C410.3,74.65 409.55,74.45 406.3,73C403.05,71.55 402.9,71.1 401.3,68.6C399.7,66.1 399.65,65.9 399.9,63Z" fill="#231f20" fill-opacity="0.78"/>
<path d="M399.9,63C400.15,60.1 400.2,59.4 402.3,57C404.4,54.6 404.8,54.4 408.3,53.4C411.8,52.4 412.55,52.35 416.3,53C420.05,53.65 420.45,53.85 423.3,56C426.15,58.15 426.7,58.7 427.7,61.6C428.7,64.5 428.65,65 427.3,67.6C425.95,70.2 425.55,70.3 422.3,72C419.05,73.7 418.3,74.15 414.3,74.4C410.3,74.65 409.55,74.45 406.3,73C403.05,71.55 402.9,71.1 401.3,68.6C399.7,66.1 399.65,65.9 399.9,63Z" fill="none" stroke="#231f20" stroke-width="0.9"/>
<path d="M402.66,63.12C402.86,60.8 402.9,60.24 404.58,58.32C406.26,56.4 406.58,56.24 409.38,55.44C412.18,54.64 412.78,54.6 415.78,55.12C418.78,55.64 419.1,55.8 421.38,57.52C423.66,59.24 424.1,59.68 424.9,62C425.7,64.32 425.66,64.72 424.58,66.8C423.5,68.88 423.18,68.96 420.58,70.32C417.98,71.68 417.38,72.04 414.18,72.24C410.98,72.44 410.38,72.28 407.78,71.12C405.18,69.96 405.06,69.6 403.78,67.6C402.5,65.6 402.46,65.44 402.66,63.12Z" fill="none" stroke="#231f20" stroke-width="0.9"/>
<path d="M405.42,63.24C405.57,61.5 405.6,61.08 406.86,59.64C408.12,58.2 408.36,58.08 410.46,57.48C412.56,56.88 413.01,56.85 415.26,57.24C417.51,57.63 417.75,57.75 419.46,59.04C421.17,60.33 421.5,60.66 422.1,62.4C422.7,64.14 422.67,64.44 421.86,66C421.05,67.56 420.81,67.62 418.86,68.64C416.91,69.66 416.46,69.93 414.06,70.08C411.66,70.23 411.21,70.11 409.26,69.24C407.31,68.37 407.22,68.1 406.26,66.6C405.3,65.1 405.27,64.98 405.42,63.24Z" fill="none" stroke="#231f20" stroke-width="0.9"/>
<path d="M416.17,63.64h0.95v1.47h-0.95zM420.47,63.49h1.51v1.39h-1.51zM419.79,58.71h1.57v1.24h-1.57zM422.25,61.54h0.8v1.12h-0.8zM406.77,64.13h0.97v1.11h-0.97zM408.88,61.49h0.88v1.1h-0.88zM405.94,63.47h1.26v0.79h-1.26zM407.52,62.71h1.37v1.3h-1.37zM415.37,57.6h0.85v1.53h-0.85zM406.37,63.25h0.89v1h-0.89zM410.91,56.17h1.08v1.33h-1.08zM415.56,69.16h0.96v0.91h-0.96zM407.08,69.31h1.33v0.81h-1.33zM414.78,71.09h1.25v1.28h-1.25zM407.1,58.28h0.87v0.66h-0.87zM412.32,64.77h1.56v1.12h-1.56zM408.03,56.27h1.4v0.83h-1.4zM411.65,65.99h1.4v1.34h-1.4zM406.43,64h0.87v1.09h-0.87zM411.02,55.78h1.45v1.47h-1.45zM406.47,65.65h0.91v1.57h-0.91zM415.64,66.68h0.88v1.52h-0.88zM417.86,59.69h1.45v1.49h-1.45zM408.98,65.25h1.37v0.97h-1.37zM422.04,69.1h1.04v1h-1.04zM408.69,61.18h0.62v0.99h-0.62zM412.78,64.22h0.97v1.36h-0.97zM408.77,69.68h1.22v0.79h-1.22zM423.47,64.49h1.21v0.89h-1.21zM417.12,71.08h1.51v0.83h-1.51zM405.9,60.29h0.92v0.64h-0.92zM409.31,69.67h1.2v1.11h-1.2zM417.68,66.33h0.91v1.02h-0.91zM406.26,69.72h0.72v1.59h-0.72zM414.37,71.45h0.84v1.19h-0.84zM412.02,64.75h1.4v1.41h-1.4zM412.43,71.03h1.08v1.59h-1.08zM420.67,65.36h0.83v1.22h-0.83zM415.62,55.92h1.15v0.99h-1.15zM414.89,60.98h0.86v1.35h-0.86z" fill="#fff" fill-opacity="1"/>
<path d="M405.9,63.6C406.15,62.45 406.7,61.55 408.3,61C409.9,60.45 410.8,60.65 412.3,61.4C413.8,62.15 414.55,62.85 414.3,64C414.05,65.15 413.05,65.6 411.3,66C409.55,66.4 408.65,66.2 407.3,65.6C405.95,65 405.65,64.75 405.9,63.6Z" fill="#fff" fill-opacity="0.9"/>
<path d="M390.9,52C392.5,51.75 394.2,50.85 397.3,51C400.4,51.15 400.8,51.6 403.3,52.6C405.8,53.6 406.3,54.4 407.3,55" fill="none" stroke="#231f20" stroke-width="0.9"/><path d="M390.9,56C392.25,55.9 393.7,55.2 396.3,55.6C398.9,56 400.05,57.1 401.3,57.6" fill="none" stroke="#231f20" stroke-width="0.9"/><path d="M390.9,60.6C392,60.6 393.05,60.1 395.3,60.6C397.55,61.1 398.75,62.1 399.9,62.6" fill="none" stroke="#231f20" stroke-width="0.9"/><path d="M390.9,64.6C392,64.8 393.2,64.65 395.3,65.4C397.4,66.15 397.3,66.05 399.3,67.6C401.3,69.15 402.3,70.6 403.3,71.6" fill="none" stroke="#231f20" stroke-width="0.9"/>
<path d="M376.3,101C380.55,91.65 388.1,100.55 393.3,99.6C398.5,98.65 395.35,98.38 397.1,97.2C398.85,96.02 398,95.58 400.3,94.9C402.6,94.22 403.1,94.63 406.3,94.5C409.5,94.37 409.85,94.27 413.1,94.4C416.35,94.53 416.4,94.32 419.3,95C422.2,95.68 422.45,95.7 424.7,97.1C426.95,98.5 426.97,98.57 428.3,100.6C429.63,102.63 429.55,102.6 430,105.2C430.45,107.8 430.13,108.1 430.1,111C430.07,113.9 430.1,113.8 429.9,116.8C429.7,119.8 429.75,120.1 429.3,123C428.85,125.9 428.45,124.9 428.1,128.4C427.75,131.9 440.85,134.85 427.9,137C414.95,139.15 389.2,146 376.3,137C363.4,128 372.05,110.35 376.3,101Z" fill="none" stroke="#231f20" stroke-width="0.95"/>
<path d="M378.89,101.88C382.8,93.28 389.75,101.47 394.53,100.59C399.32,99.72 396.42,99.47 398.03,98.38C399.64,97.3 398.86,96.89 400.97,96.27C403.09,95.65 403.55,96.02 406.49,95.9C409.44,95.78 409.76,95.69 412.75,95.81C415.74,95.92 415.78,95.74 418.45,96.36C421.12,96.98 421.35,97 423.42,98.29C425.49,99.58 425.51,99.65 426.73,101.51C427.95,103.38 427.88,103.35 428.3,105.74C428.71,108.14 428.41,108.41 428.39,111.08C428.36,113.75 428.39,113.66 428.2,116.42C428.02,119.18 428.07,119.45 427.65,122.12C427.24,124.79 426.87,123.87 426.55,127.09C426.23,130.31 438.28,133.02 426.36,135C414.45,136.98 390.76,143.28 378.89,135C367.02,126.72 374.98,110.48 378.89,101.88Z" fill="none" stroke="#231f20" stroke-width="0.9"/>
<path d="M397.9,110C397.9,106.65 398.05,106.25 399.9,103.6C401.75,100.95 402.2,100.8 405.3,99.4C408.4,98 408.65,98.1 412.3,98C415.95,97.9 416.65,97.75 419.9,99C423.15,100.25 423.45,100.35 425.3,103C427.15,105.65 427.15,106.35 427.3,109.6C427.45,112.85 427.5,113.25 425.9,116C424.3,118.75 424.05,118.95 420.9,120.6C417.75,122.25 417.2,122.35 413.3,122.6C409.4,122.85 408.65,123 405.3,121.6C401.95,120.2 401.75,119.9 399.9,117C398.05,114.1 397.9,113.35 397.9,110Z" fill="#231f20" fill-opacity="0.95"/>
<path d="M397.9,110C397.9,106.65 398.05,106.25 399.9,103.6C401.75,100.95 402.2,100.8 405.3,99.4C408.4,98 408.65,98.1 412.3,98C415.95,97.9 416.65,97.75 419.9,99C423.15,100.25 423.45,100.35 425.3,103C427.15,105.65 427.15,106.35 427.3,109.6C427.45,112.85 427.5,113.25 425.9,116C424.3,118.75 424.05,118.95 420.9,120.6C417.75,122.25 417.2,122.35 413.3,122.6C409.4,122.85 408.65,123 405.3,121.6C401.95,120.2 401.75,119.9 399.9,117C398.05,114.1 397.9,113.35 397.9,110Z" fill="none" stroke="#231f20" stroke-width="0.9"/>
<path d="M400.06,110.03C400.06,107.18 400.19,106.84 401.76,104.59C403.33,102.34 403.71,102.21 406.35,101.02C408.99,99.83 409.2,99.92 412.3,99.83C415.4,99.74 416,99.62 418.76,100.68C421.52,101.74 421.78,101.83 423.35,104.08C424.92,106.33 424.92,106.93 425.05,109.69C425.18,112.45 425.22,112.79 423.86,115.13C422.5,117.47 422.29,117.64 419.61,119.04C416.93,120.44 416.47,120.53 413.15,120.74C409.83,120.95 409.2,121.08 406.35,119.89C403.5,118.7 403.33,118.45 401.76,115.98C400.19,113.51 400.06,112.88 400.06,110.03Z" fill="none" stroke="#231f20" stroke-width="0.9"/>
<path d="M402.22,110.06C402.22,107.71 402.32,107.44 403.62,105.58C404.92,103.72 405.23,103.62 407.4,102.64C409.57,101.66 409.74,101.73 412.3,101.66C414.86,101.59 415.34,101.48 417.62,102.36C419.9,103.24 420.1,103.3 421.4,105.16C422.7,107.02 422.69,107.5 422.8,109.78C422.91,112.06 422.94,112.33 421.82,114.26C420.7,116.19 420.53,116.32 418.32,117.48C416.11,118.64 415.73,118.7 413,118.88C410.27,119.06 409.75,119.16 407.4,118.18C405.05,117.2 404.92,116.99 403.62,114.96C402.32,112.93 402.22,112.41 402.22,110.06Z" fill="none" stroke="#231f20" stroke-width="0.9"/>
<path d="M399.78,114.21h0.69v1.06h-0.69zM412.45,110.7h0.69v0.69h-0.69zM406.27,115.51h1.11v0.89h-1.11zM409.42,102.65h1.58v0.77h-1.58zM402.84,109.69h0.97v1.46h-0.97zM415.48,120.17h0.96v0.94h-0.96zM404.69,104.75h0.88v0.68h-0.88zM420.18,108.34h0.71v1.26h-0.71zM404.73,108.94h0.93v1.45h-0.93zM407.69,116.23h1.56v0.96h-1.56zM407.86,112.76h1.26v1.26h-1.26zM404.18,112.52h0.83v1.39h-0.83zM400.43,112.86h0.97v1.33h-0.97zM418.52,111.13h1.56v1.28h-1.56zM408.02,103.27h1.07v0.8h-1.07zM417.34,118.02h1.29v0.86h-1.29zM409.24,107h1.21v0.77h-1.21zM404.75,109.83h1.15v0.73h-1.15zM401.76,111.1h0.73v0.91h-0.73zM407.97,102.87h1.22v1.38h-1.22zM406.57,107.95h1.04v1.43h-1.04zM401.6,106.32h0.96v1.05h-0.96zM424.32,108.32h1.25v0.71h-1.25zM410.42,108.9h1.53v1.57h-1.53zM411.34,104.56h1.45v0.78h-1.45zM416.88,103.19h0.62v1.49h-0.62zM400.86,113.89h1.29v1.13h-1.29zM416.25,106.43h1.5v0.94h-1.5zM420.03,111.24h0.67v0.67h-0.67zM408.96,107.51h0.76v0.89h-0.76zM409.97,120.58h1.51v1.47h-1.51zM421.24,109.73h1.4v0.88h-1.4zM423.18,105.79h1.33v0.83h-1.33zM423.2,115.95h1.15v1.21h-1.15zM415.61,107.02h1.3v1.06h-1.3zM414.35,102.96h0.8v1.56h-0.8zM410.03,119.51h1.43v0.85h-1.43zM409.42,103.69h0.82v0.82h-0.82zM420.15,108.3h1.11v1.1h-1.11zM423.86,111.79h1.35v1.48h-1.35zM408.45,114.14h0.95v1.33h-0.95zM407.6,104.33h1.12v0.75h-1.12zM420.38,106.5h1.11v1.39h-1.11zM415.99,119.05h0.95v1.41h-0.95z" fill="#fff" fill-opacity="1"/>
<ellipse cx="411.7" cy="110" rx="5.2" ry="2.3" fill="#fff" stroke="#231f20" stroke-width="0.6"/>
<path d="M391.1,121.4C392.65,121.7 394.5,121.7 397.3,122.6C400.1,123.5 400.45,123.4 402.3,125C404.15,126.6 404,126.75 404.7,129C405.4,131.25 405,132.75 405.1,134" fill="none" stroke="#231f20" stroke-width="0.9"/><path d="M391.1,124.6C392.4,124.95 394,124.9 396.3,126C398.6,127.1 398.95,127 400.3,129C401.65,131 401.35,132.75 401.7,134" fill="none" stroke="#231f20" stroke-width="0.9"/><path d="M408.9,134L412.1,124.6L415.3,134" fill="none" stroke="#231f20" stroke-width="0.9"/><path d="M416.3,134L419.3,125L424.9,134" fill="none" stroke="#231f20" stroke-width="0.9"/><path d="M404.9,132.4H425.3" fill="none" stroke="#231f20" stroke-width="0.9"/>
</g>
<g clip-path="url(#cp11)">
<path d="M206.9,198C208.9,197.94 212.9,197.86 216.9,197.7C220.9,197.54 223.3,197.1 226.9,197.2C230.5,197.3 232.3,197.44 234.9,198.2C237.5,198.96 238.42,199.24 239.9,201C241.38,202.76 241.74,203.6 242.3,207C242.86,210.4 242.7,212.68 242.7,218C242.7,223.32 242.54,228.88 242.3,233.6C242.06,238.32 241.62,238.8 241.5,241.6C241.38,244.4 241.66,246.4 241.7,247.6L206.9,247.6Z" fill="#1c77c3" stroke="#1c77c3" stroke-width="0.8" stroke-linejoin="round"/>
<path d="M206.9,247.6C211.78,247.6 234.22,246.85 239.4,247.6C244.58,248.35 241,250.8 241.4,252.6C241.81,254.4 242,256.75 242.1,259.6C242.21,262.45 242.16,267.31 242.1,271.6C242.04,275.89 241.76,285.71 241.7,288.2L206.9,288.2Z" fill="#1c77c3" stroke="#1c77c3" stroke-width="0.8" stroke-linejoin="round"/>
<path d="M230.87,229.49h0.88v0.79h-0.88zM215.19,234.92h0.63v0.76h-0.63zM238.2,223.04h0.65v1h-0.65zM212.15,217.11h0.88v0.58h-0.88zM225.37,210.66h1.02v0.97h-1.02zM217.6,204.28h0.76v0.9h-0.76zM230.55,219.9h0.56v0.75h-0.56zM217.73,222.27h0.63v1.02h-0.63zM219.19,228.49h0.61v0.85h-0.61zM227.96,237.41h0.82v0.76h-0.82zM209.27,222.31h0.51v1.06h-0.51zM224.88,227.04h0.96v0.84h-0.96zM216.65,220.29h0.97v0.68h-0.97zM222.8,212.02h0.84v0.89h-0.84zM216.23,234.2h0.54v0.89h-0.54zM221.64,214.47h0.83v0.94h-0.83zM235.7,235.19h1.02v0.53h-1.02zM223.95,229.41h0.65v0.55h-0.65zM215.91,223.56h0.68v0.78h-0.68zM214.07,237.42h0.93v0.57h-0.93zM224.14,224.84h0.7v0.56h-0.7zM219.29,203.76h1.1v0.63h-1.1zM237.45,227.33h0.75v1.06h-0.75zM216.92,230.77h0.54v1.07h-0.54zM213.31,221.65h0.76v0.96h-0.76zM229.27,209.05h0.61v0.74h-0.61zM231.83,213.61h0.9v0.84h-0.9zM212.13,226.96h0.65v0.83h-0.65zM226.88,217.96h0.72v1.03h-0.72zM225.73,222.44h0.88v0.88h-0.88zM229.96,209.77h0.58v0.68h-0.58zM220.73,203.87h0.62v0.89h-0.62zM216.72,207.39h0.51v0.76h-0.51zM218.29,238.5h0.7v0.58h-0.7zM219.79,212.08h0.97v0.68h-0.97zM210.11,216.98h0.57v0.94h-0.57zM237.98,231.96h0.52v0.93h-0.52zM219.3,229.9h0.74v0.8h-0.74zM219.08,226.86h0.81v0.68h-0.81zM233.59,219.92h0.76v0.64h-0.76zM232.8,220.28h0.89v1h-0.89zM213.01,235.12h0.67v0.57h-0.67zM234.25,226.8h1.02v0.62h-1.02zM210.89,230.07h0.67v0.59h-0.67zM213.54,221.01h1.06v1.04h-1.06zM224.8,239.83h0.75v0.52h-0.75zM209.52,230.27h0.68v0.85h-0.68zM222.91,217.25h1.05v0.57h-1.05zM219.59,241.09h0.51v0.73h-0.51zM231.6,234.01h0.51v0.59h-0.51zM224.69,229.21h0.55v0.62h-0.55zM218.02,221.87h0.99v0.75h-0.99zM223.81,233.99h1v0.53h-1zM223.65,215.69h1.07v0.74h-1.07zM211.74,210.6h0.56v0.54h-0.56zM219.64,206.41h0.93v0.67h-0.93zM216.99,222.99h0.76v0.67h-0.76zM216.39,216.41h0.66v0.89h-0.66zM236.2,233.25h0.8v0.64h-0.8zM232.46,233.55h0.8v0.93h-0.8zM216.69,233.22h1.04v0.66h-1.04zM238.91,220.24h1.09v1.07h-1.09zM223.25,243.35h0.87v0.62h-0.87zM236.77,222.51h0.99v0.83h-0.99zM236.95,232.95h0.61v0.66h-0.61zM218.65,216.1h0.78v0.93h-0.78zM234.61,233.31h0.56v0.79h-0.56zM216.07,207.55h0.53v0.61h-0.53zM233.59,219.27h0.75v0.72h-0.75zM219.33,204.29h0.89v0.74h-0.89zM213.49,215.87h0.61v1.07h-0.61zM237.67,218.4h1.1v0.78h-1.1zM228.07,213.32h0.95v0.93h-0.95zM237.43,214.97h1.03v0.66h-1.03zM226.47,207.51h0.69v0.72h-0.69zM228.34,202.85h1.01v0.9h-1.01zM226.93,230.69h0.84v0.63h-0.84zM221.25,229.05h0.59v0.93h-0.59zM226.33,243.51h0.7v1.01h-0.7zM221.21,233.95h0.74v0.51h-0.74zM214.84,228.34h0.51v1.02h-0.51z" fill="#fff" fill-opacity="0.85"/>
<path d="M211.83,229.05h1.56v0.91h-1.56zM211.89,231.42h0.79v1.34h-0.79zM209.12,222.92h0.92v0.96h-0.92zM214.6,226.88h1.59v1.5h-1.59zM214.84,239.71h0.72v1.34h-0.72zM213.27,215.76h1.19v1.43h-1.19zM213.77,238.98h0.94v1.06h-0.94zM213.27,241.99h1.22v1.4h-1.22zM209.49,219.42h1.53v1.43h-1.53zM209.55,224.89h1.54v1.03h-1.54zM213.98,234.6h1.34v1.54h-1.34zM209.67,217.96h1.54v1.4h-1.54zM209.02,232.64h1.38v0.99h-1.38zM214.63,237.22h1.43v0.92h-1.43zM210.18,214.29h0.81v0.82h-0.81zM209.3,229.23h1.55v1.6h-1.55zM208.12,233.81h1.27v0.86h-1.27zM213.75,227.56h0.77v1.11h-0.77zM215,230.1h1.07v1.56h-1.07zM208.35,236.8h1.4v1.23h-1.4zM212.09,238.05h1.14v1.06h-1.14zM209.95,219.34h0.99v1.25h-0.99zM213.92,228.64h1v0.71h-1zM212.78,231h1.08v1.45h-1.08zM210.47,213.17h1.45v1.23h-1.45zM211.46,227.89h1.05v0.94h-1.05zM211.06,225.84h1.19v1.04h-1.19zM209.04,229.34h0.79v1.36h-0.79zM212.98,216.45h0.8v1.24h-0.8zM214.98,216.71h1.38v0.74h-1.38zM214.55,219.33h0.95v1.53h-0.95zM213.86,214.69h0.92v1.22h-0.92zM210.13,235.1h1.39v1.25h-1.39zM210.27,239.58h1.54v1.21h-1.54zM214.8,222.26h1.59v0.73h-1.59zM208.66,231.91h1.35v1.57h-1.35z" fill="#fff" fill-opacity="0.85"/>
<path d="M225.12,217.31h1.41v1.33h-1.41zM225.69,215.73h0.91v1.16h-0.91zM226.85,218.4h1.53v0.92h-1.53zM225.01,216.49h1.09v1.2h-1.09zM226.72,221.91h1.32v1.38h-1.32zM225.49,221.38h1.66v1.52h-1.66zM227.63,218.48h1.31v1.21h-1.31zM225.08,221.58h1.04v1.35h-1.04z" fill="#fff" fill-opacity="1"/>
<path d="M226.23,249.42h0.51v0.66h-0.51zM208.43,268.19h0.6v1h-0.6zM214.44,275.78h1.06v0.54h-1.06zM220.87,273.91h0.58v0.68h-0.58zM220.19,253.76h0.57v0.98h-0.57zM217.85,267.07h0.99v0.99h-0.99zM227.11,285.23h0.99v0.64h-0.99zM238.8,267.51h1v0.56h-1zM225.35,250.96h0.88v1h-0.88zM233.02,266.37h1v1.05h-1zM218.76,281.72h0.91v1.01h-0.91zM216.23,263.37h0.65v0.83h-0.65zM233.69,280.5h1.03v0.65h-1.03zM219.63,252.81h0.57v0.97h-0.57zM224.81,257.05h0.56v0.67h-0.56zM225.38,254.67h0.99v0.6h-0.99zM231.31,274.29h1.03v0.6h-1.03zM236.33,274.66h0.55v0.9h-0.55zM230.78,272.08h0.9v1.02h-0.9zM214.87,274.21h0.52v0.7h-0.52zM224.61,284.08h0.93v0.97h-0.93zM210.78,264.29h0.58v0.73h-0.58zM221.63,277.03h0.94v0.63h-0.94zM220.02,276.29h1.02v0.88h-1.02zM214.11,268.81h1.05v1.06h-1.05zM212.45,271.8h1.02v0.65h-1.02zM223.62,273.43h0.8v0.96h-0.8zM229.73,277.69h1.09v0.79h-1.09zM213.06,279h1.04v0.73h-1.04zM233.01,277.91h0.94v1.05h-0.94zM219.15,258.59h0.81v0.67h-0.81zM213.58,271.68h1.05v1.04h-1.05zM233.8,261.6h1.08v0.58h-1.08zM235.16,260.24h1.02v0.75h-1.02zM226.43,267.23h1.01v0.99h-1.01zM213.65,279.56h0.63v0.95h-0.63zM213.84,269.77h0.62v0.98h-0.62zM223.33,261.83h1.09v0.63h-1.09zM216.6,275.95h0.85v1.03h-0.85zM235.88,262.35h0.72v0.56h-0.72zM234.36,273.07h0.85v0.77h-0.85zM234.13,266.07h0.71v0.75h-0.71zM231.22,283.46h0.85v0.83h-0.85zM216.75,271.62h0.69v0.8h-0.69zM208.96,273.56h0.84v0.62h-0.84zM229.92,269.88h0.71v0.97h-0.71zM229.87,261.54h0.97v0.76h-0.97zM212.54,264.2h0.53v0.54h-0.53zM217.32,253.84h0.73v1.05h-0.73zM227.64,258.05h0.54v0.83h-0.54zM219.61,260.06h0.53v0.79h-0.53zM237.32,270.84h0.88v0.67h-0.88zM216.62,270.44h0.61v0.61h-0.61zM228.22,255.8h0.93v0.71h-0.93zM228.22,253.8h0.89v0.74h-0.89zM217.43,264.29h1.08v0.9h-1.08zM211.38,264.36h0.56v0.7h-0.56zM225.68,284.54h0.51v0.77h-0.51zM233.5,255.18h0.93v0.68h-0.93zM225.39,283.08h0.68v0.93h-0.68zM215.7,280.67h0.84v0.99h-0.84zM233.7,266.36h1.09v0.51h-1.09zM225.88,265.14h0.83v0.73h-0.83zM225.02,256.93h0.62v0.97h-0.62zM210.68,262.32h0.79v0.52h-0.79zM224.89,258.7h0.78v0.5h-0.78zM223.16,282.71h0.96v0.88h-0.96zM211.07,273.02h0.9v0.62h-0.9zM211.83,264.22h0.94v0.62h-0.94zM220.41,277.62h0.56v0.71h-0.56zM222.34,253.23h0.6v0.94h-0.6zM234.2,278.31h0.59v0.56h-0.59z" fill="#fff" fill-opacity="0.85"/>
<path d="M212.86,282.02h0.94v1.5h-0.94zM215.36,268.42h1.37v1.33h-1.37zM210.56,268.6h1.55v1.56h-1.55zM215.76,272.1h0.99v0.88h-0.99zM208.61,277.35h0.72v1.45h-0.72zM212.69,273.01h1.51v0.95h-1.51zM213.3,276.31h1.03v0.81h-1.03zM213.97,278.09h1.22v1.1h-1.22zM211.67,281.5h1.4v1.35h-1.4zM210.24,283.2h1.41v1.21h-1.41zM210.06,272.7h0.82v1.5h-0.82zM211.68,268.47h1.53v1.5h-1.53zM216.99,274h0.91v1.18h-0.91zM214.39,263.84h1.15v1.3h-1.15zM214.3,282.35h1.08v1.58h-1.08zM214.51,282.93h0.74v0.95h-0.74zM214.33,275.25h1.18v0.86h-1.18zM213.33,266.99h1.26v1.47h-1.26zM214.53,276.33h1.39v1.12h-1.39zM215.55,267.84h1.06v1.56h-1.06zM210.17,283.49h1.5v0.88h-1.5zM208.25,267.33h0.81v1.46h-0.81zM213.56,258.74h1.24v0.79h-1.24zM214.45,270.18h1.41v1.35h-1.41zM211.2,282.56h1.07v1.38h-1.07zM217.55,275.25h1.05v1.42h-1.05zM208.47,273.77h0.97v1.19h-0.97zM216.35,273.03h0.77v1.47h-0.77zM211.46,262.74h1.58v1.55h-1.58zM214.28,270.26h1.33v1.35h-1.33zM212.41,270.25h1.53v1.09h-1.53zM209.17,263.89h0.95v0.73h-0.95zM215.21,267.84h0.74v0.82h-0.74zM217.2,270.99h0.89v0.83h-0.89zM216.16,264.17h1.22v0.82h-1.22zM208.74,278.86h0.7v1.08h-0.7z" fill="#fff" fill-opacity="0.85"/>
<path d="M208.1,235.6C209.66,233.14 212.54,233.8 215.9,234.1C219.26,234.4 222.4,235.4 224.9,237.1C227.4,238.8 227.8,240.74 228.4,242.6C229,244.46 231.96,245.64 227.9,246.4C223.84,247.16 212.06,248.56 208.1,246.4C204.14,244.24 206.54,238.06 208.1,235.6Z" fill="#fff" fill-opacity="0.45"/>
<path d="M208.1,248.8C213.46,247.14 229.74,248.12 234.9,248.8C240.06,249.48 236.1,251.04 233.9,252.2C231.7,253.36 227.9,253.96 223.9,254.6C219.9,255.24 217.06,254.9 213.9,255.4C210.74,255.9 209.26,258.42 208.1,257.1C206.94,255.78 202.74,250.46 208.1,248.8Z" fill="#fff" fill-opacity="0.42"/>
<path d="M207.9,256.6C208.7,250.88 210.82,255 211.9,257.6C212.98,260.2 212.9,263.88 213.3,269.6C213.7,275.32 214.98,282.88 213.9,286.2C212.82,289.52 209.1,292.12 207.9,286.2C206.7,280.28 207.1,262.32 207.9,256.6Z" fill="#fff" fill-opacity="0.3"/>
<path d="M207.5,239.6C208.85,239.22 210.05,237.85 212.9,238.1C215.75,238.35 216.4,239.1 218.9,240.6C221.4,242.1 219.9,242.85 222.9,244.1C225.9,245.35 228.9,245.22 230.9,245.6" fill="none" stroke="#fff" stroke-width="0.8"/><path d="M207.5,242.6C208.85,242.35 210.3,241.22 212.9,241.6C215.5,241.97 215.65,242.9 217.9,244.1C220.15,245.3 220.9,245.82 221.9,246.4" fill="none" stroke="#fff" stroke-width="0.8"/><path d="M207.5,251.1C209.35,250.88 211.05,250.22 214.9,250.2C218.75,250.17 218.9,250.28 222.9,251C226.9,251.72 227.4,253.2 230.9,253.1C234.4,253 235.4,251.22 236.9,250.6" fill="none" stroke="#fff" stroke-width="0.8"/><path d="M208.9,253.6C210.65,253.4 212.9,252.55 215.9,252.8C218.9,253.05 219.65,254.15 220.9,254.6" fill="none" stroke="#fff" stroke-width="0.8"/>
<path d="M229.2,203.4C235.2,195.55 244.57,203.03 253.2,203C261.83,202.97 259.2,202.35 263.7,203.3C268.2,204.25 267.92,204.42 271.2,206.8C274.48,209.18 274.87,209.8 276.8,212.8C278.73,215.8 278.7,215.8 278.9,218.8C279.1,221.8 278.78,221.92 277.6,224.8C276.42,227.68 276.18,227.8 274.2,230.3C272.22,232.8 272.08,232.82 269.7,234.8C267.32,236.78 267.58,237.3 264.7,238.2C261.82,239.1 261.58,238.85 258.2,238.4C254.82,237.95 258.45,237.4 251.2,236.4C243.95,235.4 234.7,242.65 229.2,234.4C223.7,226.15 223.2,211.25 229.2,203.4Z" fill="none" stroke="#1c77c3" stroke-width="0.95"/>
<path d="M232.1,205.04C237.5,197.97 245.94,204.7 253.7,204.68C261.46,204.66 259.1,204.09 263.15,204.95C267.2,205.81 266.95,205.96 269.9,208.1C272.85,210.24 273.21,210.8 274.94,213.5C276.67,216.2 276.65,216.2 276.83,218.9C277.01,221.6 276.72,221.71 275.66,224.3C274.6,226.89 274.38,227 272.6,229.25C270.82,231.5 270.69,231.52 268.55,233.3C266.41,235.08 266.64,235.55 264.05,236.36C261.46,237.17 261.24,236.95 258.2,236.54C255.16,236.13 258.43,235.64 251.9,234.74C245.37,233.84 237.05,240.37 232.1,232.94C227.15,225.51 226.7,212.11 232.1,205.04Z" fill="#1c77c3" fill-opacity="0.55"/>
<path d="M232.1,205.04C237.5,197.97 245.94,204.7 253.7,204.68C261.46,204.66 259.1,204.09 263.15,204.95C267.2,205.81 266.95,205.96 269.9,208.1C272.85,210.24 273.21,210.8 274.94,213.5C276.67,216.2 276.65,216.2 276.83,218.9C277.01,221.6 276.72,221.71 275.66,224.3C274.6,226.89 274.38,227 272.6,229.25C270.82,231.5 270.69,231.52 268.55,233.3C266.41,235.08 266.64,235.55 264.05,236.36C261.46,237.17 261.24,236.95 258.2,236.54C255.16,236.13 258.43,235.64 251.9,234.74C245.37,233.84 237.05,240.37 232.1,232.94C227.15,225.51 226.7,212.11 232.1,205.04Z" fill="none" stroke="#1c77c3" stroke-width="0.95"/>
<path d="M242.2,204.8C244.95,202.55 247.95,204.4 253.2,204.4C258.45,204.4 258.95,203.85 263.2,204.8C267.45,205.75 267.3,206.1 270.2,208.2C273.1,210.3 273.15,210.55 274.8,213.2C276.45,215.85 277.2,216.65 276.8,218.8C276.4,220.95 275.6,222.43 273.2,221.8C270.8,221.17 270.7,218.45 267.2,216.3C263.7,214.15 263.2,214.08 259.2,213.2C255.2,212.32 255.45,212.75 251.2,212.8C246.95,212.85 244.45,215.4 242.2,213.4C239.95,211.4 239.45,207.05 242.2,204.8Z" fill="#1c77c3" fill-opacity="0.8"/>
<path d="M242.2,226.4C244.45,225 246.95,226.3 251.2,226.8C255.45,227.3 255.7,227.5 259.2,228.4C262.7,229.3 264.07,228.9 265.2,230.4C266.33,231.9 265.7,233.15 263.7,234.4C261.7,235.65 260.58,235.55 257.2,235.4C253.82,235.25 253.95,234.55 250.2,233.8C246.45,233.05 244.2,234.25 242.2,232.4C240.2,230.55 239.95,227.8 242.2,226.4Z" fill="#1c77c3" fill-opacity="0.3"/>
<path d="M237,207.92C241.44,202.11 248.38,207.65 254.76,207.63C261.14,207.61 259.2,207.15 262.53,207.85C265.86,208.55 265.66,208.68 268.08,210.44C270.5,212.2 270.8,212.66 272.22,214.88C273.65,217.1 273.63,217.1 273.78,219.32C273.93,221.54 273.69,221.63 272.82,223.76C271.95,225.89 271.76,225.98 270.3,227.83C268.84,229.68 268.73,229.7 266.97,231.16C265.21,232.62 265.4,233.01 263.27,233.68C261.14,234.34 260.96,234.16 258.46,233.82C255.96,233.49 258.65,233.08 253.28,232.34C247.91,231.6 241.07,236.97 237,230.86C232.93,224.76 232.56,213.73 237,207.92Z" fill="none" stroke="#1c77c3" stroke-width="0.9"/>
<path d="M241.2,210.36C244.8,205.65 250.42,210.14 255.6,210.12C260.78,210.1 259.2,209.73 261.9,210.3C264.6,210.87 264.43,210.97 266.4,212.4C268.37,213.83 268.6,214.2 269.76,216C270.92,217.8 270.9,217.8 271.02,219.6C271.14,221.4 270.95,221.47 270.24,223.2C269.53,224.93 269.39,225 268.2,226.5C267.01,228 266.93,228.01 265.5,229.2C264.07,230.39 264.23,230.7 262.5,231.24C260.77,231.78 260.63,231.63 258.6,231.36C256.57,231.09 258.75,230.76 254.4,230.16C250.05,229.56 244.5,233.91 241.2,228.96C237.9,224.01 237.6,215.07 241.2,210.36Z" fill="none" stroke="#1c77c3" stroke-width="0.9"/>
<path d="M245.4,212.8C248.16,209.18 252.47,212.62 256.44,212.61C260.41,212.6 259.2,212.31 261.27,212.75C263.34,213.19 263.21,213.27 264.72,214.36C266.23,215.45 266.41,215.74 267.3,217.12C268.18,218.5 268.17,218.5 268.26,219.88C268.35,221.26 268.2,221.32 267.66,222.64C267.12,223.96 267.01,224.02 266.1,225.17C265.19,226.32 265.12,226.33 264.03,227.24C262.94,228.15 263.05,228.39 261.73,228.8C260.41,229.22 260.29,229.1 258.74,228.9C257.19,228.69 258.86,228.44 255.52,227.98C252.18,227.52 247.93,230.85 245.4,227.06C242.87,223.26 242.64,216.41 245.4,212.8Z" fill="none" stroke="#1c77c3" stroke-width="0.9"/>
<path d="M249.6,215.23C251.52,212.72 254.52,215.11 257.28,215.1C260.04,215.1 259.2,214.9 260.64,215.2C262.08,215.5 261.99,215.56 263.04,216.32C264.09,217.08 264.22,217.28 264.83,218.24C265.45,219.2 265.44,219.2 265.5,220.16C265.57,221.12 265.46,221.16 265.09,222.08C264.71,223 264.63,223.04 264,223.84C263.37,224.64 263.32,224.65 262.56,225.28C261.8,225.91 261.88,226.08 260.96,226.37C260.04,226.66 259.96,226.58 258.88,226.43C257.8,226.29 258.96,226.11 256.64,225.79C254.32,225.47 251.36,227.79 249.6,225.15C247.84,222.51 247.68,217.74 249.6,215.23Z" fill="none" stroke="#1c77c3" stroke-width="0.9"/>
<path d="M273.42,215.6h0.69v1.46h-0.69zM267.77,207.05h0.64v1.23h-0.64zM253.8,213.05h0.73v1.06h-0.73zM263.6,210.05h1.39v0.98h-1.39zM261.61,216.69h1.01v1.18h-1.01zM251.95,209.59h1.06v1.06h-1.06zM267.75,212.54h0.61v0.9h-0.61zM260.57,215.4h0.98v0.63h-0.98zM269.54,210.14h1.39v1.23h-1.39zM260.88,205.89h0.87v1.26h-0.87zM264.64,218.53h1.14v1.3h-1.14zM265.68,216.88h1.34v1.32h-1.34zM266.29,212.42h0.79v0.7h-0.79zM260.5,205.99h1.18v1.3h-1.18zM253.25,212.2h1.43v1.18h-1.43zM257.07,207.7h1.04v1.28h-1.04zM258.33,211.53h0.98v0.98h-0.98zM254.01,215.27h0.93v0.95h-0.93zM255.65,214.96h1.47v0.68h-1.47zM272.34,213.52h0.96v1h-0.96zM256.11,210.16h0.82v0.61h-0.82zM270.36,207.28h0.86v1.02h-0.86zM260.9,214.53h1.4v1.35h-1.4zM262.54,216.83h1.23v1.32h-1.23zM254.87,213.74h0.81v1.32h-0.81zM269.47,207.2h0.7v1.13h-0.7zM272.3,212.17h1.01v0.73h-1.01zM271.73,215.34h0.66v1.33h-0.66zM258.03,208.05h1.4v1.44h-1.4zM259.38,211.11h1.13v0.98h-1.13zM262.23,220.51h1.26v0.71h-1.26zM263.13,217.44h1.12v0.89h-1.12zM252.15,215.47h0.76v1.25h-0.76zM256.54,219.6h1.46v0.89h-1.46zM259.06,211.15h0.97v1.16h-0.97zM257.66,209.23h0.63v0.71h-0.63z" fill="#fff" fill-opacity="1"/>
<path d="M252.74,230.28h0.81v1.03h-0.81zM261.44,229.37h0.78v1.01h-0.78zM254.92,233.77h0.71v0.78h-0.71zM248.25,232.02h0.72v0.73h-0.72zM259.02,231.96h0.83v0.88h-0.83zM256.55,228.64h0.93v0.88h-0.93zM257.5,227.61h0.9v1.24h-0.9zM256.16,234.16h0.97v1.08h-0.97zM252.75,232h0.69v1.22h-0.69zM251.42,232.99h0.92v0.97h-0.92zM257.21,232.18h0.84v1.08h-0.84zM255.78,230.76h1.1v0.9h-1.1zM260.36,231.53h0.75v1.18h-0.75zM251.31,230.2h0.77v0.8h-0.77zM255.2,232.77h1.15v1.15h-1.15z" fill="#fff" fill-opacity="1"/>
<path d="M229.2,250C235.2,239.4 244.45,249.45 253.2,249.4C261.95,249.35 259.7,249.07 264.2,249.8C268.7,250.53 268.55,250.42 271.2,252.3C273.85,254.18 274.2,254.67 274.8,257.3C275.4,259.93 274.75,259.92 273.6,262.8C272.45,265.68 272.15,265.8 270.2,268.8C268.25,271.8 267.5,272.05 265.8,274.8C264.1,277.55 263.55,277.55 263.4,279.8C263.25,282.05 263.9,281.9 265.2,283.8C266.5,285.7 267.6,285.4 268.6,287.4C269.6,289.4 279.05,290.7 269.2,291.8C259.35,292.9 239.2,302.25 229.2,291.8C219.2,281.35 223.2,260.6 229.2,250Z" fill="none" stroke="#1c77c3" stroke-width="0.95"/>
<path d="M232.2,251.3C237.48,241.97 245.62,250.81 253.32,250.77C261.02,250.72 259.04,250.48 263,251.12C266.96,251.76 266.83,251.67 269.16,253.32C271.49,254.97 271.8,255.41 272.33,257.72C272.86,260.03 272.28,260.03 271.27,262.56C270.26,265.09 270,265.2 268.28,267.84C266.56,270.48 265.9,270.7 264.41,273.12C262.91,275.54 262.43,275.54 262.3,277.52C262.16,279.5 262.74,279.37 263.88,281.04C265.02,282.71 265.99,282.45 266.87,284.21C267.75,285.97 276.07,287.11 267.4,288.08C258.73,289.05 241,297.28 232.2,288.08C223.4,278.88 226.92,260.62 232.2,251.3Z" fill="none" stroke="#1c77c3" stroke-width="0.9"/>
<path d="M247.2,262.8C247.55,259.6 247.7,258.75 250.2,256.4C252.7,254.05 253.55,254 257.2,253.4C260.85,252.8 261.9,252.9 264.8,254C267.7,255.1 268.2,255.35 268.8,257.8C269.4,260.25 268.85,260.95 267.2,263.8C265.55,266.65 265.2,267.2 262.2,269.2C259.2,271.2 258.55,271.8 255.2,271.8C251.85,271.8 250.8,271.45 248.8,269.2C246.8,266.95 246.85,266 247.2,262.8Z" fill="none" stroke="#1c77c3" stroke-width="0.9"/>
<path d="M249.2,262.52C249.48,259.96 249.6,259.28 251.6,257.4C253.6,255.52 254.28,255.48 257.2,255C260.12,254.52 260.96,254.6 263.28,255.48C265.6,256.36 266,256.56 266.48,258.52C266.96,260.48 266.52,261.04 265.2,263.32C263.88,265.6 263.6,266.04 261.2,267.64C258.8,269.24 258.28,269.72 255.6,269.72C252.92,269.72 252.08,269.44 250.48,267.64C248.88,265.84 248.92,265.08 249.2,262.52Z" fill="none" stroke="#1c77c3" stroke-width="0.9"/>
<path d="M251.2,262.24C251.41,260.32 251.5,259.81 253,258.4C254.5,256.99 255.01,256.96 257.2,256.6C259.39,256.24 260.02,256.3 261.76,256.96C263.5,257.62 263.8,257.77 264.16,259.24C264.52,260.71 264.19,261.13 263.2,262.84C262.21,264.55 262,264.88 260.2,266.08C258.4,267.28 258.01,267.64 256,267.64C253.99,267.64 253.36,267.43 252.16,266.08C250.96,264.73 250.99,264.16 251.2,262.24Z" fill="none" stroke="#1c77c3" stroke-width="0.9"/>
<path d="M253,261.99C253.15,260.64 253.21,260.29 254.26,259.3C255.31,258.31 255.67,258.29 257.2,258.04C258.73,257.79 259.17,257.83 260.39,258.29C261.61,258.75 261.82,258.86 262.07,259.89C262.32,260.92 262.09,261.21 261.4,262.41C260.71,263.61 260.56,263.84 259.3,264.68C258.04,265.52 257.77,265.77 256.36,265.77C254.95,265.77 254.51,265.62 253.67,264.68C252.83,263.73 252.85,263.33 253,261.99Z" fill="none" stroke="#1c77c3" stroke-width="0.9"/>
<path d="M254.8,261.74C254.88,260.97 254.92,260.76 255.52,260.2C256.12,259.64 256.32,259.62 257.2,259.48C258.08,259.34 258.33,259.36 259.02,259.62C259.72,259.89 259.84,259.95 259.98,260.54C260.13,261.12 260,261.29 259.6,261.98C259.2,262.66 259.12,262.79 258.4,263.27C257.68,263.75 257.52,263.9 256.72,263.9C255.92,263.9 255.66,263.81 255.18,263.27C254.7,262.73 254.72,262.5 254.8,261.74Z" fill="none" stroke="#1c77c3" stroke-width="0.9"/>
<path d="M251.2,255.4C252.2,254.3 254.45,254.05 257.2,254C259.95,253.95 261.7,254.1 262.2,255.2C262.7,256.3 261.45,257.6 259.2,258.4C256.95,259.2 255.2,259.15 253.2,258.4C251.2,257.65 250.2,256.5 251.2,255.4Z" fill="#1c77c3" fill-opacity="0.95"/>
<path d="M244.8,272.8C245.9,273.7 246.7,274.65 249.2,276.4C251.7,278.15 252.05,278.05 254.8,279.8C257.55,281.55 258.1,281.5 260.2,283.4C262.3,285.3 262.45,286.4 263.2,287.4" fill="none" stroke="#1c77c3" stroke-width="0.9"/><path d="M244.8,286.8C245.9,285.9 246.7,284.95 249.2,283.2C251.7,281.45 252.15,281.5 254.8,279.8C257.45,278.1 257.7,278 259.8,276.4C261.9,274.8 262.35,274.15 263.2,273.4" fill="none" stroke="#1c77c3" stroke-width="0.9"/><path d="M244.8,276.4C246.15,277.15 248.1,277.8 250.2,279.4C252.3,281 253.05,280.8 253.2,282.8C253.35,284.8 251.4,286.25 250.8,287.4" fill="none" stroke="#1c77c3" stroke-width="0.9"/>
</g>
<g clip-path="url(#cp12)">
<path d="M354,188.6C355.6,188.48 358.4,188.2 362,188C365.6,187.8 368.4,187.32 372,187.6C375.6,187.88 377.32,188.12 380,189.4C382.68,190.68 383.68,191.68 385.4,194C387.12,196.32 387.72,197.4 388.6,201C389.48,204.6 389.56,206.4 389.8,212C390.04,217.6 389.8,223.2 389.8,229C389.8,234.8 389.8,238.6 389.8,241L354,241Z" fill="#1c77c3" stroke="#1c77c3" stroke-width="0.8" stroke-linejoin="round"/>
<path d="M354,241C359.37,241 384.43,239.5 389.8,241C395.17,242.5 389.86,247.4 389.8,251C389.74,254.6 389.67,261.1 389.4,265C389.13,268.9 388.42,273.52 388,277C387.58,280.48 386.81,286.52 386.6,288.2L354,288.2Z" fill="#1c77c3" stroke="#1c77c3" stroke-width="0.8" stroke-linejoin="round"/>
<path d="M365.48,192.67h0.89v0.57h-0.89zM375.84,217.24h0.65v0.82h-0.65zM375.02,197.64h0.76v0.65h-0.76zM382.93,212.06h0.7v0.53h-0.7zM377.54,213.09h1.01v0.57h-1.01zM364.88,202.5h1.03v0.68h-1.03zM375.39,220.96h0.98v1.09h-0.98zM362.28,198.68h0.67v0.66h-0.67zM382.73,227.1h0.53v0.87h-0.53zM366.19,223.07h0.76v1.06h-0.76zM370.09,224.44h0.88v0.89h-0.88zM363.66,213.81h1.02v0.57h-1.02zM373.39,225.2h0.81v0.79h-0.81zM357.93,207.6h1.04v0.78h-1.04zM383.2,220.32h0.51v0.69h-0.51zM377.24,229.38h0.97v0.58h-0.97zM366.19,236.23h0.91v0.57h-0.91zM364.8,194.39h0.75v0.59h-0.75zM365.41,202.86h0.58v0.6h-0.58zM365.63,219.52h0.73v0.83h-0.73zM360.98,209.49h0.98v0.55h-0.98zM363.03,235.26h1.02v1.05h-1.02zM371.05,196.65h0.97v0.84h-0.97zM375.6,222.84h0.56v1.03h-0.56zM365.81,228.57h0.82v0.56h-0.82zM366.33,193.48h0.98v1.03h-0.98zM367.65,223.02h0.96v0.92h-0.96zM363.92,224.87h0.59v1h-0.59zM356.89,219.91h0.7v0.69h-0.7zM357.09,212.74h1.03v0.71h-1.03zM366.68,199.91h1.02v0.96h-1.02zM361.51,209.48h0.66v1.03h-0.66zM372.61,201.65h0.55v0.62h-0.55zM372.9,213.42h0.99v0.82h-0.99zM359.61,208.51h0.75v0.83h-0.75zM382.15,227.09h0.56v0.58h-0.56zM364.38,197.17h0.98v0.92h-0.98zM373.09,212.15h0.51v0.64h-0.51zM371.06,205.08h0.82v0.96h-0.82zM376.05,229.3h1.04v0.95h-1.04zM361.68,224.64h0.67v1.08h-0.67zM372.52,194.71h0.68v0.94h-0.68zM356.64,216.32h0.72v1.03h-0.72zM365.98,199.42h0.84v0.98h-0.84zM355.55,210.13h0.5v1.04h-0.5zM367.65,197.79h1.01v0.59h-1.01zM363.37,232.14h0.99v0.72h-0.99zM382.07,213.77h0.53v0.57h-0.53zM380.05,223.04h0.69v0.66h-0.69zM366.03,216.71h1.05v1h-1.05zM360.67,208.62h0.69v0.86h-0.69zM361.53,234.36h1.07v0.94h-1.07zM371.89,208.53h0.57v0.71h-0.57zM376.84,225.84h1.09v1h-1.09zM376.83,211.54h0.63v0.51h-0.63zM369.47,220.26h0.82v0.68h-0.82zM364.82,198.21h0.86v0.68h-0.86zM368.81,194.25h0.93v0.78h-0.93zM362.18,217.45h0.52v0.78h-0.52zM365.18,207.45h1.02v1.03h-1.02zM378.21,196.89h0.79v0.61h-0.79zM368.3,235.36h1.09v0.57h-1.09zM378.91,215.07h0.71v0.86h-0.71zM380.49,229.1h0.7v1.05h-0.7zM366.04,226.39h0.61v1.08h-0.61zM358.47,202.64h0.54v0.83h-0.54zM368.42,190.34h1.06v0.56h-1.06zM359.52,232h0.82v1.07h-0.82zM369.95,218.42h1.07v0.66h-1.07zM361.64,209.03h0.85v1.06h-0.85zM383.27,206.98h0.65v0.99h-0.65zM379.61,216.32h1.07v0.65h-1.07zM362.32,228.34h0.64v0.93h-0.64zM367.34,208.32h1.05v0.54h-1.05zM367.08,200.85h0.59v0.55h-0.59zM383.41,214.19h0.78v0.98h-0.78zM384.18,210.05h0.82v0.66h-0.82zM355.24,211.68h0.94v0.9h-0.94zM375.29,201.43h0.84v1.01h-0.84zM374.37,236.06h0.51v0.82h-0.51zM364.89,210.25h1.05v0.76h-1.05zM373.82,228.93h0.85v0.76h-0.85zM374.56,214.64h0.93v0.58h-0.93zM369.54,236.5h1.02v1.03h-1.02zM370.49,216.07h0.95v0.86h-0.95zM368.65,217.01h0.76v0.64h-0.76zM357.36,201.76h0.63v0.55h-0.63zM368.32,206.94h0.63v0.76h-0.63zM378.51,213.28h0.69v0.79h-0.69zM374.98,227.74h0.92v0.69h-0.92zM371.85,204.42h0.56v0.88h-0.56zM356.25,221.34h0.56v0.95h-0.56zM365.59,201.44h0.58v0.87h-0.58zM370.53,197.68h0.78v0.91h-0.78zM362.46,204.39h0.61v0.78h-0.61zM356.49,207.36h1.1v0.83h-1.1zM366.65,224.68h0.88v0.94h-0.88zM370.17,234.85h1.1v0.73h-1.1zM379.19,208.43h0.89v1.02h-0.89z" fill="#fff" fill-opacity="0.85"/>
<path d="M360.85,231.79h1.68v0.77h-1.68zM358.81,233.19h1.44v1.33h-1.44zM363.7,216.74h0.7v0.77h-0.7zM363.2,224.97h0.73v1.23h-0.73zM358.49,217.01h1.56v1.11h-1.56zM362.9,220.04h1.32v1.24h-1.32zM359.64,237.02h0.7v0.95h-0.7zM357.98,236.49h1.2v0.74h-1.2zM358.82,234.78h1.51v0.81h-1.51zM360.57,212.36h1.22v1.12h-1.22zM355.39,228.7h1.62v1.62h-1.62zM359.63,208.75h0.84v0.74h-0.84zM362,210.67h1.33v1.01h-1.33zM359.49,238.24h1.23v0.72h-1.23zM358.41,230.71h0.77v1.68h-0.77zM363.7,213.97h0.7v1.12h-0.7zM363.25,231.57h1.51v1.49h-1.51zM360.45,216.96h0.71v0.79h-0.71zM362.5,209.94h1.22v0.93h-1.22zM361.08,218.02h1.02v0.7h-1.02zM363.2,221.36h1.47v1.5h-1.47zM355.66,214.51h1.47v1.63h-1.47zM361.39,221.42h1.45v0.93h-1.45zM358.68,231.1h1.69v0.76h-1.69zM358.36,224.85h1.7v1.2h-1.7zM358.93,211.14h1.47v1.04h-1.47zM356.31,229.87h1.4v1.59h-1.4zM358.32,236.65h1.44v1.27h-1.44zM356.85,229.28h0.78v0.8h-0.78zM359.34,227.87h0.75v1.42h-0.75zM359.54,209.64h0.91v1.42h-0.91zM361.8,210.96h0.93v1.26h-0.93zM357.95,227.76h0.85v1.56h-0.85zM356.75,210.73h0.87v0.96h-0.87zM358.79,222.26h1v1.24h-1zM355.26,224.3h1.28v1.34h-1.28zM356.19,215.04h1.07v0.7h-1.07zM364.42,220.7h0.83v0.81h-0.83zM360.7,235.68h0.83v0.72h-0.83zM359.61,222.55h0.96v1.08h-0.96zM360.07,223.29h0.96v0.94h-0.96zM358.55,231.99h1.06v1.02h-1.06zM364.54,224.31h1.44v1.19h-1.44zM362.41,222.64h1.6v1.16h-1.6zM361.25,236.86h1.59v0.82h-1.59zM356.25,222.42h0.82v1.02h-0.82zM356.98,213.34h1.33v1.32h-1.33zM359.06,225.5h0.72v1.54h-0.72zM363.14,210.71h0.78v1.47h-0.78zM361.39,231.06h0.9v1.56h-0.9zM361.92,208.84h1.08v1.64h-1.08zM359.76,234.98h1.37v0.93h-1.37zM358.83,226.03h1.5v0.88h-1.5zM361.73,229.06h1.34v1.34h-1.34z" fill="#fff" fill-opacity="0.85"/>
<path d="M356.31,260.95h0.95v0.63h-0.95zM363.97,262.13h0.65v0.59h-0.65zM377.86,270.18h1.03v0.89h-1.03zM375.98,269.52h0.85v0.82h-0.85zM374.53,265.23h0.84v0.86h-0.84zM381.54,273.5h0.64v0.85h-0.64zM361.4,261.71h1.07v0.74h-1.07zM360.23,271.64h1v1.09h-1zM371.35,248h0.93v0.88h-0.93zM384.3,258.59h0.96v0.63h-0.96zM360.96,257.99h0.64v0.97h-0.64zM372.28,282.41h0.79v0.76h-0.79zM366.57,245.98h1.09v1.1h-1.09zM372.38,253.3h0.9v0.8h-0.9zM379.34,258.7h0.71v0.52h-0.71zM359.25,267.11h0.68v0.56h-0.68zM366.04,264.69h0.6v0.77h-0.6zM363.87,276.85h0.82v0.73h-0.82zM371.36,266.33h0.84v1.08h-0.84zM368.26,276.95h0.69v0.95h-0.69zM356.63,264.94h0.5v0.58h-0.5zM372.48,277.02h0.74v0.73h-0.74zM379.71,260.97h0.85v1.08h-0.85zM362.73,250.84h1v0.7h-1zM384.31,268.95h0.82v0.85h-0.82zM381.83,271.86h0.72v0.89h-0.72zM366.99,284.81h0.72v0.67h-0.72zM375.56,257.65h0.66v0.79h-0.66zM375.06,263.2h0.63v0.98h-0.63zM378.6,270.57h0.97v0.93h-0.97zM371.38,256.81h1.03v0.71h-1.03zM374.04,250.14h1.03v0.79h-1.03zM369.71,272.67h0.8v0.53h-0.8zM377.21,281.83h0.84v1.02h-0.84zM376.07,276.54h0.78v0.56h-0.78zM368.78,285.24h0.93v0.81h-0.93zM359.25,251.08h1.07v0.86h-1.07zM383.31,270.52h0.6v0.64h-0.6zM377,276.1h0.85v0.78h-0.85zM364.47,265.65h0.93v0.82h-0.93zM365.04,282.91h1.06v1.05h-1.06zM373.92,263.55h0.73v0.77h-0.73zM369.46,283.14h1.04v0.58h-1.04zM355.26,263.26h1.03v0.77h-1.03zM378.02,273.23h0.81v0.97h-0.81zM373.1,274.85h1.09v0.51h-1.09zM366.46,259.73h0.95v0.75h-0.95zM376.32,259.38h1.03v0.64h-1.03zM374.21,266.02h0.55v0.73h-0.55zM378.8,261.79h0.93v0.52h-0.93zM359.04,262.49h0.56v0.85h-0.56zM361.9,268.3h1v0.91h-1zM373.55,269.04h0.53v0.66h-0.53zM360.35,247.64h1.08v1.02h-1.08zM379.47,277.95h0.96v0.78h-0.96zM381.61,263.64h0.57v0.63h-0.57zM378.04,276.66h0.87v1.01h-0.87zM371.48,264.24h1.08v0.66h-1.08zM368.75,284.59h0.57v0.98h-0.57zM378.96,254.09h0.87v0.5h-0.87zM360.79,253.35h0.96v0.81h-0.96zM375.34,270.94h0.89v0.55h-0.89zM375.88,270.99h0.98v0.83h-0.98zM360.84,281.08h0.85v0.64h-0.85zM357.28,255.93h0.72v0.76h-0.72zM356.82,253.84h0.88v0.61h-0.88zM362.6,257.92h0.78v0.93h-0.78zM380.6,266.1h0.69v0.86h-0.69zM374.41,250.46h0.88v0.67h-0.88zM369.6,279.87h0.82v0.63h-0.82zM371,248.55h0.71v0.65h-0.71zM377.39,246.16h1.06v0.65h-1.06zM380.75,271.7h0.51v1.01h-0.51zM366.25,252.53h0.76v0.91h-0.76zM374.85,275.38h0.97v0.91h-0.97zM365.86,260.47h0.63v0.65h-0.63zM381.77,267.57h0.84v1.05h-0.84zM356.46,257h0.78v0.81h-0.78zM368,278.87h1.06v0.79h-1.06zM378.92,264.28h0.62v0.87h-0.62zM359.67,263.22h1.06v0.96h-1.06zM372.24,266.12h0.92v0.86h-0.92zM363.89,251.31h0.52v0.77h-0.52zM375.95,249.37h0.53v0.57h-0.53zM379.15,254.91h0.6v0.92h-0.6zM382.42,254.74h0.89v0.98h-0.89zM378.7,271.97h0.99v0.7h-0.99zM378.63,280.26h0.92v0.5h-0.92zM380.31,270.52h1.07v0.87h-1.07zM373.46,259.07h0.85v0.61h-0.85z" fill="#fff" fill-opacity="0.85"/>
<path d="M359.05,274.19h1.16v0.75h-1.16zM357.77,255.98h1.6v1.47h-1.6zM364.15,275.81h1.24v1.64h-1.24zM358.58,268.36h1.4v0.87h-1.4zM363.65,266.77h1.6v1.19h-1.6zM358.12,281.16h1.41v1.16h-1.41zM359.48,279.68h1.41v0.93h-1.41zM361.9,278.64h1.36v0.77h-1.36zM359.34,285.78h0.97v1.47h-0.97zM359.5,273.08h1.19v1.57h-1.19zM360.19,264.19h1.4v1.32h-1.4zM355.95,269.74h1.22v0.88h-1.22zM359.4,261.98h1.01v1.55h-1.01zM356.75,262.72h1.41v1.19h-1.41zM357.23,277.06h0.72v1.05h-0.72zM364.84,272.53h1.61v1.35h-1.61zM362.52,282.13h0.98v1.5h-0.98zM357.74,256.65h1.44v0.97h-1.44zM361.86,256.59h1.46v1.54h-1.46zM359.91,279.69h1.06v0.78h-1.06zM362.94,257.54h1.19v1.25h-1.19zM360.96,264.82h1.06v1.39h-1.06zM356.56,265.34h0.96v0.92h-0.96zM358.6,258.83h1.64v1.6h-1.64zM362.58,266.33h1.21v0.8h-1.21zM359.13,271.92h1.2v1.66h-1.2zM360.24,257.22h0.98v1.63h-0.98zM364.35,273.51h1.56v0.77h-1.56zM363.83,263.7h1.09v1.13h-1.09zM357.18,259.82h1.57v1.6h-1.57zM359.78,269.6h1.48v1.35h-1.48zM359.23,264.02h0.78v1.6h-0.78zM357.74,277.49h1.67v0.9h-1.67zM359.18,264.73h1.26v1.44h-1.26zM362.39,281.28h1.67v1.53h-1.67zM361.23,251.05h1.42v1.25h-1.42zM362.02,253.59h1.33v1.37h-1.33zM361.26,277.58h1.03v1.56h-1.03zM360.53,258.53h1.69v0.76h-1.69zM362.65,272.01h0.78v1.65h-0.78zM358.03,276.85h1.55v1.23h-1.55zM357.74,259.32h1.16v1.66h-1.16zM359.38,281.03h1.18v0.84h-1.18zM362.16,278.34h1.5v1.13h-1.5zM364.51,274.45h0.84v1.58h-0.84z" fill="#fff" fill-opacity="0.85"/>
<path d="M355,229C356.2,226.56 358.92,226.6 361,227.6C363.08,228.6 364.8,231.56 365.4,234C366,236.44 366.08,238.64 364,239.8C361.92,240.96 356.8,241.96 355,239.8C353.2,237.64 353.8,231.44 355,229Z" fill="#fff" fill-opacity="0.4"/>
<path d="M355,242.2C358.4,233.4 369.7,241.24 372,242.2C374.3,243.16 368.62,244.84 366.5,247C364.38,249.16 362.58,248.2 361.4,253C360.22,257.8 360.4,264.36 360.6,271C360.8,277.64 363.52,283.16 362.4,286.2C361.28,289.24 356.48,295 355,286.2C353.52,277.4 351.6,251 355,242.2Z" fill="#fff" fill-opacity="0.35"/>
<path d="M356,227C356.5,228.5 357.75,229.75 358,233C358.25,236.25 357.25,238.25 357,240" fill="none" stroke="#fff" stroke-width="0.8"/><path d="M368,229C368.5,230.5 369.75,232.25 370,235C370.25,237.75 369.25,238.75 369,240" fill="none" stroke="#fff" stroke-width="0.8"/><path d="M372,230C372.5,231.25 373.25,232.5 374,235C374.75,237.5 374.75,238.75 375,240" fill="none" stroke="#fff" stroke-width="0.8"/><path d="M363,200C363.75,202.5 365.75,205 366,210C366.25,215 364.5,217.5 364,220" fill="none" stroke="#fff" stroke-width="0.8"/><path d="M369,286.2C369.75,284.7 370.25,280.2 372,280.2C373.75,280.2 375,284.7 376,286.2" fill="none" stroke="#fff" stroke-width="0.8"/><path d="M357,249C357.75,251 359.75,252.5 360,257C360.25,261.5 358.5,264.5 358,267" fill="none" stroke="#fff" stroke-width="0.8"/>
<path d="M375.6,203.6C380.1,197.8 387.85,203.05 393.6,202.4C399.35,201.75 395.9,201.65 398.6,201C401.3,200.35 401.65,200.1 404.4,199.8C407.15,199.5 407.3,199.65 409.6,199.8C411.9,199.95 411.45,200 413.6,200.4C415.75,200.8 416.1,200.6 418.2,201.4C420.3,202.2 420.25,202.2 422,203.6C423.75,205 424.07,205.15 425.2,207C426.33,208.85 426.3,208.75 426.5,211C426.7,213.25 426.73,213.75 426,216C425.27,218.25 424.8,218.1 423.6,220C422.4,221.9 422.3,221.75 421.2,223.6C420.1,225.45 420.6,225.65 419.2,227.4C417.8,229.15 417.88,229.4 415.6,230.6C413.32,231.8 412.7,232 410.1,232.2C407.5,232.4 407.43,232.1 405.2,231.4C402.97,230.7 403.43,230.6 401.2,229.4C398.97,228.2 402.7,227.55 396.3,226.6C389.9,225.65 380.78,231.35 375.6,225.6C370.42,219.85 371.1,209.4 375.6,203.6Z" fill="none" stroke="#1c77c3" stroke-width="0.95"/>
<path d="M378.54,204.74C382.59,199.52 389.56,204.25 394.74,203.66C399.92,203.07 396.81,202.99 399.24,202.4C401.67,201.81 401.98,201.59 404.46,201.32C406.94,201.05 407.07,201.18 409.14,201.32C411.21,201.46 410.8,201.5 412.74,201.86C414.68,202.22 414.99,202.04 416.88,202.76C418.77,203.48 418.72,203.48 420.3,204.74C421.88,206 422.17,206.13 423.18,207.8C424.19,209.47 424.17,209.37 424.35,211.4C424.53,213.43 424.55,213.87 423.9,215.9C423.25,217.93 422.82,217.79 421.74,219.5C420.66,221.21 420.57,221.07 419.58,222.74C418.59,224.41 419.04,224.58 417.78,226.16C416.52,227.74 416.59,227.96 414.54,229.04C412.49,230.12 411.93,230.3 409.59,230.48C407.25,230.66 407.18,230.39 405.18,229.76C403.18,229.13 403.58,229.04 401.58,227.96C399.58,226.88 402.93,226.3 397.17,225.44C391.41,224.58 383.2,229.72 378.54,224.54C373.88,219.36 374.49,209.96 378.54,204.74Z" fill="none" stroke="#1c77c3" stroke-width="0.95"/>
<path d="M381.48,205.88C385.08,201.24 391.28,205.44 395.88,204.92C400.48,204.4 397.72,204.32 399.88,203.8C402.04,203.28 402.32,203.08 404.52,202.84C406.72,202.6 406.84,202.72 408.68,202.84C410.52,202.96 410.16,203 411.88,203.32C413.6,203.64 413.88,203.48 415.56,204.12C417.24,204.76 417.2,204.76 418.6,205.88C420,207 420.26,207.12 421.16,208.6C422.06,210.08 422.04,210 422.2,211.8C422.36,213.6 422.38,214 421.8,215.8C421.22,217.6 420.84,217.48 419.88,219C418.92,220.52 418.84,220.4 417.96,221.88C417.08,223.36 417.48,223.52 416.36,224.92C415.24,226.32 415.3,226.52 413.48,227.48C411.66,228.44 411.16,228.6 409.08,228.76C407,228.92 406.94,228.68 405.16,228.12C403.38,227.56 403.74,227.48 401.96,226.52C400.18,225.56 403.16,225.04 398.04,224.28C392.92,223.52 385.62,228.08 381.48,223.48C377.34,218.88 377.88,210.52 381.48,205.88Z" fill="none" stroke="#1c77c3" stroke-width="0.95"/>
<path d="M381.48,205.88C385.08,201.24 391.28,205.44 395.88,204.92C400.48,204.4 397.72,204.32 399.88,203.8C402.04,203.28 402.32,203.08 404.52,202.84C406.72,202.6 406.84,202.72 408.68,202.84C410.52,202.96 410.16,203 411.88,203.32C413.6,203.64 413.88,203.48 415.56,204.12C417.24,204.76 417.2,204.76 418.6,205.88C420,207 420.26,207.12 421.16,208.6C422.06,210.08 422.04,210 422.2,211.8C422.36,213.6 422.38,214 421.8,215.8C421.22,217.6 420.84,217.48 419.88,219C418.92,220.52 418.84,220.4 417.96,221.88C417.08,223.36 417.48,223.52 416.36,224.92C415.24,226.32 415.3,226.52 413.48,227.48C411.66,228.44 411.16,228.6 409.08,228.76C407,228.92 406.94,228.68 405.16,228.12C403.38,227.56 403.74,227.48 401.96,226.52C400.18,225.56 403.16,225.04 398.04,224.28C392.92,223.52 385.62,228.08 381.48,223.48C377.34,218.88 377.88,210.52 381.48,205.88Z" fill="#1c77c3" fill-opacity="0.3"/>
<path d="M402.6,205C403.7,203.15 405.35,203.1 408.6,202.6C411.85,202.1 412.45,202.15 415.6,203C418.75,203.85 419.1,204 421.2,206C423.3,208 423.9,208.6 424,211C424.1,213.4 423.7,214.2 421.6,215.6C419.5,217 418.6,217.25 415.6,216.6C412.6,215.95 412.45,214.65 409.6,213C406.75,211.35 405.95,212 404.2,210C402.45,208 401.5,206.85 402.6,205Z" fill="#1c77c3" fill-opacity="0.72"/>
<path d="M393.2,218.6C394.55,217.25 395.75,217.35 398.6,217.6C401.45,217.85 401.85,218.25 404.6,219.6C407.35,220.95 408.45,221 409.6,223C410.75,225 410.7,226.2 409.2,227.6C407.7,229 406.5,229 403.6,228.6C400.7,228.2 400.2,227.4 397.6,226C395,224.6 394.3,224.85 393.2,223C392.1,221.15 391.85,219.95 393.2,218.6Z" fill="#1c77c3" fill-opacity="0.6"/>
<path d="M402.6,205C403.7,203.15 405.35,203.1 408.6,202.6C411.85,202.1 412.45,202.15 415.6,203C418.75,203.85 419.1,204 421.2,206C423.3,208 423.9,208.6 424,211C424.1,213.4 423.7,214.2 421.6,215.6C419.5,217 418.6,217.25 415.6,216.6C412.6,215.95 412.45,214.65 409.6,213C406.75,211.35 405.95,212 404.2,210C402.45,208 401.5,206.85 402.6,205Z" fill="none" stroke="#1c77c3" stroke-width="0.9"/>
<path d="M393.2,218.6C394.55,217.25 395.75,217.35 398.6,217.6C401.45,217.85 401.85,218.25 404.6,219.6C407.35,220.95 408.45,221 409.6,223C410.75,225 410.7,226.2 409.2,227.6C407.7,229 406.5,229 403.6,228.6C400.7,228.2 400.2,227.4 397.6,226C395,224.6 394.3,224.85 393.2,223C392.1,221.15 391.85,219.95 393.2,218.6Z" fill="none" stroke="#1c77c3" stroke-width="0.9"/>
<path d="M405.84,206.38C406.61,205.08 407.76,205.05 410.04,204.7C412.32,204.35 412.73,204.38 414.94,204.98C417.15,205.58 417.39,205.68 418.86,207.08C420.33,208.48 420.75,208.9 420.82,210.58C420.89,212.26 420.61,212.82 419.14,213.8C417.67,214.78 417.04,214.96 414.94,214.5C412.84,214.04 412.74,213.14 410.74,211.98C408.74,210.82 408.19,211.28 406.96,209.88C405.73,208.48 405.07,207.68 405.84,206.38Z" fill="none" stroke="#1c77c3" stroke-width="0.9"/>
<path d="M395.66,219.92C396.61,218.97 397.44,219.04 399.44,219.22C401.44,219.4 401.71,219.67 403.64,220.62C405.57,221.57 406.33,221.6 407.14,223C407.95,224.4 407.91,225.24 406.86,226.22C405.81,227.2 404.97,227.2 402.94,226.92C400.91,226.64 400.56,226.08 398.74,225.1C396.92,224.12 396.43,224.3 395.66,223C394.89,221.7 394.71,220.87 395.66,219.92Z" fill="none" stroke="#1c77c3" stroke-width="0.9"/>
<path d="M409.08,207.76C409.52,207.02 410.18,207 411.48,206.8C412.78,206.6 413.02,206.62 414.28,206.96C415.54,207.3 415.68,207.36 416.52,208.16C417.36,208.96 417.6,209.2 417.64,210.16C417.68,211.12 417.52,211.44 416.68,212C415.84,212.56 415.48,212.66 414.28,212.4C413.08,212.14 413.02,211.62 411.88,210.96C410.74,210.3 410.42,210.56 409.72,209.76C409.02,208.96 408.64,208.5 409.08,207.76Z" fill="none" stroke="#1c77c3" stroke-width="0.9"/>
<path d="M398.12,221.24C398.66,220.7 399.14,220.74 400.28,220.84C401.42,220.94 401.58,221.1 402.68,221.64C403.78,222.18 404.22,222.2 404.68,223C405.14,223.8 405.12,224.28 404.52,224.84C403.92,225.4 403.44,225.4 402.28,225.24C401.12,225.08 400.92,224.76 399.88,224.2C398.84,223.64 398.56,223.74 398.12,223C397.68,222.26 397.58,221.78 398.12,221.24Z" fill="none" stroke="#1c77c3" stroke-width="0.9"/>
<path d="M391.2,207C392.55,206.85 394.25,206 396.6,206.4C398.95,206.8 398.95,206.95 400.6,208.6C402.25,210.25 402.95,210.9 403.2,213C403.45,215.1 402,216 401.6,217" fill="none" stroke="#1c77c3" stroke-width="0.9"/><path d="M391.2,211C392.3,211 393.75,210.25 395.6,211C397.45,211.75 397.85,213.25 398.6,214" fill="none" stroke="#1c77c3" stroke-width="0.9"/>
<path d="M419.29,214.03h0.73v0.83h-0.73zM400.81,215.7h0.99v0.98h-0.99zM402.92,215.74h0.85v1.46h-0.85zM411.6,215.05h1.09v0.92h-1.09zM409.57,210.24h1.21v0.93h-1.21zM415.9,209.82h0.99v0.89h-0.99zM403.78,211.01h1.2v0.97h-1.2zM408.32,207.31h1.01v1.1h-1.01zM408.09,204.87h0.99v0.68h-0.99zM413.5,214.23h0.77v0.77h-0.77zM406.32,207.53h1.42v0.81h-1.42zM410.14,215.85h0.73v1.21h-0.73zM404.7,209.87h1.33v1.21h-1.33zM401.57,215.04h1.19v1h-1.19zM416.08,214.96h1.45v0.94h-1.45zM407.71,209.95h1.3v1.38h-1.3zM404.89,215.93h1.06v0.83h-1.06zM411.07,215.13h1.22v1.06h-1.22zM421.33,209.6h1.39v1.45h-1.39zM410.99,210.8h0.72v1.48h-0.72zM416.61,206.97h1.16v0.99h-1.16zM405.92,213.56h1.09v0.85h-1.09zM418.07,217.82h1.12v1.39h-1.12zM407.51,218.58h0.85v1.35h-0.85zM412.46,219h1.1v0.89h-1.1zM417.34,215.03h1.07v1.34h-1.07z" fill="#fff" fill-opacity="1"/>
<path d="M401.87,224.65h0.84v1.24h-0.84zM401.62,226.16h0.63v0.67h-0.63zM399.72,220.28h0.69v0.98h-0.69zM405.08,222.09h1.05v0.94h-1.05zM399.54,222.97h1.31v1.06h-1.31zM398.86,224.75h0.75v1.35h-0.75zM403.33,220.93h1.08v1.04h-1.08zM401.39,223.69h1.19v0.73h-1.19zM400.16,222.79h0.62v0.73h-0.62zM397.88,220.43h1.39v1.13h-1.39zM400.2,222.94h1.37v0.99h-1.37zM401.9,222.36h1.27v0.98h-1.27z" fill="#fff" fill-opacity="1"/>
<path d="M375.6,248.4C380.1,237.5 387.27,247.85 393.6,247.4C399.93,246.95 397.65,246.9 400.9,246.6C404.15,246.3 403.72,246.35 406.6,246.2C409.48,246.05 409.65,245.9 412.4,246C415.15,246.1 415,246.02 417.6,246.6C420.2,247.18 420.65,247.1 422.8,248.3C424.95,249.5 424.85,249.62 426.2,251.4C427.55,253.18 427.4,253.25 428.2,255.4C429,257.55 429,257.7 429.4,260C429.8,262.3 429.85,262.2 429.8,264.6C429.75,267 429.65,267.3 429.2,269.6C428.75,271.9 428.9,271.95 428,273.8C427.1,275.65 426.35,275.3 425.6,277C424.85,278.7 424.85,278.5 425,280.6C425.15,282.7 425.8,282.8 426.2,285.4C426.6,288 439.25,289.6 426.6,291C413.95,292.4 388.35,301.65 375.6,291C362.85,280.35 371.1,259.3 375.6,248.4Z" fill="none" stroke="#1c77c3" stroke-width="0.95"/>
<path d="M378.27,249.73C382.41,239.7 389.01,249.22 394.83,248.81C400.65,248.39 398.56,248.35 401.55,248.07C404.54,247.8 404.15,247.84 406.79,247.7C409.44,247.57 409.6,247.43 412.13,247.52C414.66,247.61 414.52,247.54 416.91,248.07C419.3,248.6 419.72,248.53 421.7,249.64C423.67,250.74 423.58,250.85 424.82,252.49C426.07,254.12 425.93,254.19 426.66,256.17C427.4,258.15 427.4,258.28 427.77,260.4C428.14,262.52 428.18,262.42 428.14,264.63C428.09,266.84 428,267.12 427.58,269.23C427.17,271.35 427.31,271.39 426.48,273.1C425.65,274.8 424.96,274.48 424.27,276.04C423.58,277.6 423.58,277.42 423.72,279.35C423.86,281.28 424.46,281.38 424.82,283.77C425.19,286.16 436.83,287.63 425.19,288.92C413.55,290.21 390,298.72 378.27,288.92C366.54,279.12 374.13,259.76 378.27,249.73Z" fill="none" stroke="#1c77c3" stroke-width="0.95"/>
<path d="M395.6,262C396.1,259 395.85,257.75 397.6,255C399.35,252.25 399.1,252.35 402.6,251C406.1,249.65 407.35,249.6 411.6,249.6C415.85,249.6 416.2,249.5 419.6,251C423,252.5 423.35,252.7 425.2,255.6C427.05,258.5 426.9,259 427,262.6C427.1,266.2 427.2,266.75 425.6,270C424,273.25 423.85,273.6 420.6,275.6C417.35,277.6 416.6,277.65 412.6,278C408.6,278.35 408.1,278.5 404.6,277C401.1,275.5 400.85,274.5 398.6,272C396.35,269.5 396.35,269.5 395.6,267C394.85,264.5 395.1,265 395.6,262Z" fill="#1c77c3" fill-opacity="0.42"/>
<path d="M395.6,262C396.1,259 395.85,257.75 397.6,255C399.35,252.25 399.1,252.35 402.6,251C406.1,249.65 407.35,249.6 411.6,249.6C415.85,249.6 416.2,249.5 419.6,251C423,252.5 423.35,252.7 425.2,255.6C427.05,258.5 426.9,259 427,262.6C427.1,266.2 427.2,266.75 425.6,270C424,273.25 423.85,273.6 420.6,275.6C417.35,277.6 416.6,277.65 412.6,278C408.6,278.35 408.1,278.5 404.6,277C401.1,275.5 400.85,274.5 398.6,272C396.35,269.5 396.35,269.5 395.6,267C394.85,264.5 395.1,265 395.6,262Z" fill="none" stroke="#1c77c3" stroke-width="0.9"/>
<path d="M398.16,262.32C398.58,259.8 398.37,258.75 399.84,256.44C401.31,254.13 401.1,254.21 404.04,253.08C406.98,251.95 408.03,251.9 411.6,251.9C415.17,251.9 415.46,251.82 418.32,253.08C421.18,254.34 421.47,254.51 423.02,256.94C424.58,259.38 424.45,259.8 424.54,262.82C424.62,265.85 424.7,266.31 423.36,269.04C422.02,271.77 421.89,272.06 419.16,273.74C416.43,275.42 415.8,275.47 412.44,275.76C409.08,276.05 408.66,276.18 405.72,274.92C402.78,273.66 402.57,272.82 400.68,270.72C398.79,268.62 398.79,268.62 398.16,266.52C397.53,264.42 397.74,264.84 398.16,262.32Z" fill="none" stroke="#1c77c3" stroke-width="0.9"/>
<path d="M400.72,262.64C401.06,260.6 400.89,259.75 402.08,257.88C403.27,256.01 403.1,256.08 405.48,255.16C407.86,254.24 408.71,254.21 411.6,254.21C414.49,254.21 414.73,254.14 417.04,255.16C419.35,256.18 419.59,256.32 420.85,258.29C422.11,260.26 422,260.6 422.07,263.05C422.14,265.5 422.21,265.87 421.12,268.08C420.03,270.29 419.93,270.53 417.72,271.89C415.51,273.25 415,273.28 412.28,273.52C409.56,273.76 409.22,273.86 406.84,272.84C404.46,271.82 404.29,271.14 402.76,269.44C401.23,267.74 401.23,267.74 400.72,266.04C400.21,264.34 400.38,264.68 400.72,262.64Z" fill="none" stroke="#1c77c3" stroke-width="0.9"/>
<path d="M403.6,263C403.85,261.5 403.72,260.88 404.6,259.5C405.48,258.12 405.35,258.18 407.1,257.5C408.85,256.82 409.47,256.8 411.6,256.8C413.73,256.8 413.9,256.75 415.6,257.5C417.3,258.25 417.47,258.35 418.4,259.8C419.33,261.25 419.25,261.5 419.3,263.3C419.35,265.1 419.4,265.37 418.6,267C417.8,268.63 417.73,268.8 416.1,269.8C414.47,270.8 414.1,270.82 412.1,271C410.1,271.18 409.85,271.25 408.1,270.5C406.35,269.75 406.23,269.25 405.1,268C403.97,266.75 403.98,266.75 403.6,265.5C403.22,264.25 403.35,264.5 403.6,263Z" fill="none" stroke="#1c77c3" stroke-width="0.9"/>
<path d="M406.48,263.36C406.64,262.4 406.56,262 407.12,261.12C407.68,260.24 407.6,260.27 408.72,259.84C409.84,259.41 410.24,259.39 411.6,259.39C412.96,259.39 413.07,259.36 414.16,259.84C415.25,260.32 415.36,260.38 415.95,261.31C416.54,262.24 416.5,262.4 416.53,263.55C416.56,264.7 416.59,264.88 416.08,265.92C415.57,266.96 415.52,267.07 414.48,267.71C413.44,268.35 413.2,268.37 411.92,268.48C410.64,268.59 410.48,268.64 409.36,268.16C408.24,267.68 408.16,267.36 407.44,266.56C406.72,265.76 406.72,265.76 406.48,264.96C406.24,264.16 406.32,264.32 406.48,263.36Z" fill="none" stroke="#1c77c3" stroke-width="0.9"/>
<path d="M400.6,254.6C400.85,252.9 402.6,252.5 405.6,251.6C408.6,250.7 409.1,250.75 412.6,251C416.1,251.25 417.1,251.35 419.6,252.6C422.1,253.85 422.85,254.5 422.6,256C422.35,257.5 421.35,258 418.6,258.6C415.85,259.2 415.1,258.45 411.6,258.4C408.1,258.35 407.35,259.35 404.6,258.4C401.85,257.45 400.35,256.3 400.6,254.6Z" fill="#1c77c3" fill-opacity="0.85"/>
<path d="M403.6,270.6C404.1,269.1 406.35,269.15 409.6,269C412.85,268.85 413.95,269 416.6,270C419.25,271 420.7,271.6 420.2,273C419.7,274.4 417.75,275.1 414.6,275.6C411.45,276.1 410.35,276.25 407.6,275C404.85,273.75 403.1,272.1 403.6,270.6Z" fill="#1c77c3" fill-opacity="0.6"/>
<path d="M413.32,270.86h0.67v1.12h-0.67zM413.7,273.04h0.76v1.22h-0.76zM403.49,257.75h1.46v0.87h-1.46zM408.25,257.67h1.4v1.34h-1.4zM412.46,255.51h0.84v1.42h-0.84zM424.03,261.91h0.9v1.34h-0.9zM406.45,254.91h1.32v1.01h-1.32zM402.43,270h1.19v1.09h-1.19zM413.23,262.6h0.61v1.02h-0.61zM421.37,269.8h0.68v1.39h-0.68zM412.34,267.98h1.28v1.21h-1.28zM403.11,268.53h1.1v1.45h-1.1zM402.06,263.62h1.02v0.97h-1.02zM410,260.58h1.22v1.44h-1.22zM412.27,255.91h0.92v0.69h-0.92zM419.58,268.43h1.39v1.38h-1.39zM416.18,272.7h1.33v1.03h-1.33zM415.13,260.31h0.9v1.06h-0.9zM410.33,256.71h0.87v1.38h-0.87zM405.05,268.48h0.8v1.03h-0.8zM409.48,257.63h1.2v1.04h-1.2zM424.32,264.8h0.86v1.09h-0.86zM417.31,262.72h0.66v0.78h-0.66zM418.47,272.32h1.07v0.64h-1.07zM410.34,271.79h0.76v0.88h-0.76zM418.76,259.86h0.81v1.14h-0.81zM418.72,269.16h1.18v0.68h-1.18zM404.7,262.16h1.27v1.15h-1.27zM420.14,259.38h0.76v0.77h-0.76zM408.25,254.51h0.66v0.98h-0.66zM409.78,271.36h1.39v1.1h-1.39zM411.19,254.39h0.85v1.16h-0.85zM405.26,269.35h1.08v1.2h-1.08zM417.44,272.78h0.74v0.88h-0.74z" fill="#fff" fill-opacity="1"/>
<ellipse cx="408" cy="262.4" rx="3" ry="2.2" fill="#fff" stroke="#1c77c3" stroke-width="0.6"/>
<path d="M393.2,288Q396.2,272 399.2,288" fill="none" stroke="#1c77c3" stroke-width="0.9"/><path d="M399.2,288Q401.8,276 404.4,288" fill="none" stroke="#1c77c3" stroke-width="0.9"/><path d="M404.4,288Q411.3,272 418.2,288" fill="none" stroke="#1c77c3" stroke-width="0.9"/><path d="M418.2,288Q420.8,276 423.4,288" fill="none" stroke="#1c77c3" stroke-width="0.9"/>
</g>
<g clip-path="url(#cp21)">
<path d="M206.1,345.8C207.7,345.6 210.5,345.26 214.1,344.8C217.7,344.34 220.5,343.48 224.1,343.5C227.7,343.52 229.4,343.84 232.1,344.9C234.8,345.96 235.8,346.72 237.6,348.8C239.4,350.88 240.24,352.2 241.1,355.3C241.96,358.4 241.9,359.84 241.9,364.3C241.9,368.76 241.66,373.34 241.1,377.6C240.54,381.86 239.74,382.4 239.1,385.6C238.46,388.8 238.14,392 237.9,393.6L206.1,393.6Z" fill="#ed1c24" stroke="#ed1c24" stroke-width="0.8" stroke-linejoin="round"/>
<path d="M206.1,393.6C210.97,393.6 233.42,392.85 238.6,393.6C243.78,394.35 240.19,396.8 240.6,398.6C241,400.4 241.2,402.75 241.3,405.6C241.41,408.45 241.36,413.25 241.3,417.6C241.24,421.95 240.96,432.05 240.9,434.6L206.1,434.6Z" fill="#ed1c24" stroke="#ed1c24" stroke-width="0.8" stroke-linejoin="round"/>
<path d="M232.37,350.7h0.72v1.07h-0.72zM238.31,374.11h0.62v0.52h-0.62zM223.58,359.88h0.95v0.5h-0.95zM229.91,378.46h0.55v0.78h-0.55zM215.29,384.97h0.8v1.08h-0.8zM226.77,361.15h1.05v1.04h-1.05zM212.44,362.42h0.6v0.69h-0.6zM224.42,378.8h0.87v0.69h-0.87zM224.44,351.91h1v0.55h-1zM229.64,355.73h0.88v0.64h-0.88zM219.71,355.34h0.93v0.85h-0.93zM228.69,378.53h0.95v0.51h-0.95zM215.11,356.63h0.93v0.7h-0.93zM212.17,371.2h0.95v0.54h-0.95zM214.96,368.21h0.85v0.66h-0.85zM225.19,379.44h1.04v0.72h-1.04zM233.11,355.67h0.66v0.83h-0.66zM238.53,370.15h0.88v0.57h-0.88zM211.92,367.06h0.9v0.67h-0.9zM233.75,359.35h0.54v0.99h-0.54zM229.71,360.66h0.93v1.02h-0.93zM226.23,364.89h1v0.65h-1zM227.34,351.17h0.78v1.04h-0.78zM228.34,347.62h1.08v0.84h-1.08zM221.86,350.49h0.74v0.8h-0.74zM215.68,368.43h0.66v1.01h-0.66zM230.69,353.38h0.91v0.81h-0.91zM211.39,360.75h0.5v0.77h-0.5zM230.23,367.01h0.78v0.55h-0.78zM222.64,389.5h0.52v0.98h-0.52zM227.53,348.8h0.65v1.06h-0.65zM215.66,379.92h1.07v0.83h-1.07zM220.86,362.12h0.5v0.66h-0.5zM234.54,381.62h0.65v1.07h-0.65zM220.05,360.02h0.93v0.69h-0.93zM218.75,367.9h1v0.97h-1zM211.48,359.79h0.7v0.58h-0.7zM216.84,386.3h0.84v0.58h-0.84zM223.74,384.53h0.51v0.53h-0.51zM217.53,371.52h1.03v0.58h-1.03zM223.04,348.76h0.69v0.83h-0.69zM235.65,368.07h0.73v1.09h-0.73zM222.15,391.05h0.69v0.75h-0.69zM217.92,385.7h1.03v0.91h-1.03zM229.7,389.46h0.93v0.8h-0.93zM226.17,362.94h0.86v0.97h-0.86zM225.28,350.63h0.54v0.79h-0.54zM221.63,386.49h0.74v0.77h-0.74zM211.17,364.85h1.03v0.67h-1.03zM222.03,378.56h0.57v1.01h-0.57zM228.07,365.06h0.72v1.04h-0.72zM233.49,352.05h1.1v0.68h-1.1zM230.41,373.54h0.8v0.51h-0.8zM222.85,384.52h0.91v0.59h-0.91zM229.68,378.05h0.55v0.57h-0.55zM234.51,381.18h1.03v0.53h-1.03zM228.03,349.35h0.89v0.68h-0.89zM225.05,363.1h0.53v1.07h-0.53zM225.84,390.27h0.95v0.53h-0.95zM233.76,379.13h0.59v0.9h-0.59zM219.49,359.32h0.79v0.63h-0.79zM231.87,355.94h0.91v0.87h-0.91zM237.07,376.91h0.97v0.81h-0.97zM213.64,360.39h0.95v0.82h-0.95zM221.11,384.98h0.63v0.5h-0.63zM208.3,366.19h0.93v0.63h-0.93zM210.9,368.05h0.85v0.78h-0.85zM209.85,367.84h1.03v0.81h-1.03zM225.91,350.7h0.57v0.66h-0.57zM219.4,381.37h0.79v0.68h-0.79zM236.81,368.69h0.72v0.92h-0.72zM228.79,364.82h0.88v1.08h-0.88z" fill="#fff" fill-opacity="0.85"/>
<path d="M208.11,385.95h1.42v0.99h-1.42zM213.59,386.73h1.07v1.02h-1.07zM207.36,378.15h1.5v1.52h-1.5zM211.29,368.01h1.03v0.71h-1.03zM211.9,384.2h0.86v1.13h-0.86zM213.56,384.86h1.07v0.92h-1.07zM210.09,366.18h0.72v1.45h-0.72zM211.21,359.35h0.96v0.94h-0.96zM210.53,368.94h1.57v1.29h-1.57zM210.12,373.82h0.95v1.08h-0.95zM212.8,374.18h1.23v0.77h-1.23zM214.93,372.36h1.43v1.37h-1.43zM212.04,382.34h0.74v1.2h-0.74zM212.8,378.48h0.86v1.53h-0.86zM211.69,366.32h1.57v0.84h-1.57zM212.86,382.89h1.42v0.79h-1.42zM211.9,363.03h1.42v1h-1.42zM212.47,376.32h1.35v1.16h-1.35zM211.27,367.55h0.95v0.89h-0.95zM213.33,363.69h0.84v1.35h-0.84zM214.08,377.69h0.93v1.39h-0.93zM210.37,361.45h0.88v0.74h-0.88zM208.71,364.26h0.71v1.45h-0.71zM213.26,368.93h1.17v1.29h-1.17zM214.34,368.91h1.16v1.39h-1.16zM210.29,375.14h1.19v1.07h-1.19zM209.66,383.94h0.9v0.98h-0.9zM211.02,359.28h1.11v1.46h-1.11zM213.38,383.43h1.37v1.4h-1.37zM209.7,379.39h1.56v1.25h-1.56zM209.59,366.91h0.8v1.21h-0.8zM207.59,383.81h1.3v1.38h-1.3z" fill="#fff" fill-opacity="0.85"/>
<path d="M223.56,364.01h1.01v1.7h-1.01zM223.84,363.99h1.05v0.97h-1.05zM224.99,362.43h1.43v1.1h-1.43zM223.33,365.55h1.41v1.63h-1.41zM227.54,366.94h0.91v1.4h-0.91zM224.91,365.1h1.24v1.43h-1.24zM226.09,364.58h1.31v1.54h-1.31zM227.42,367.52h1.65v1.17h-1.65z" fill="#fff" fill-opacity="1"/>
<path d="M224.66,420.6h0.63v0.75h-0.63zM218.98,395.87h0.84v1.07h-0.84zM211.47,420.43h0.5v0.75h-0.5zM228.86,414.59h0.99v0.57h-0.99zM219.53,426.71h0.82v0.52h-0.82zM233.22,423.6h0.74v0.56h-0.74zM213.42,415.16h1.1v0.53h-1.1zM224.96,418.3h0.83v1.08h-0.83zM224.03,407.34h0.82v0.71h-0.82zM236.42,411.33h0.86v0.65h-0.86zM212.4,418.94h0.73v0.84h-0.73zM231.86,420.21h1.09v0.74h-1.09zM209.22,412.98h0.99v0.94h-0.99zM213.19,424.48h0.62v0.87h-0.62zM230.09,414.43h0.61v0.71h-0.61zM222.93,410.87h1.03v0.56h-1.03zM237.94,407.92h0.87v1h-0.87zM233.08,408.99h1.01v0.52h-1.01zM225.58,398.59h0.97v0.59h-0.97zM233.12,420.47h0.86v0.91h-0.86zM228.29,426.52h1.08v0.65h-1.08zM229.75,396.74h0.9v0.76h-0.9zM213.57,419.98h0.57v0.54h-0.57zM221.86,421.38h1.04v0.72h-1.04zM231.61,403.55h1.04v1.04h-1.04zM220.52,401.25h0.65v0.84h-0.65zM217.59,429.61h0.53v0.88h-0.53zM217.6,424.04h0.83v1.09h-0.83zM232.65,413.14h1.07v1.07h-1.07zM211.25,411.27h0.62v0.97h-0.62zM209.19,415.11h1.05v0.87h-1.05zM219.09,400.35h0.58v0.78h-0.58zM229.38,416.69h1.09v0.73h-1.09zM230.07,423.01h0.54v0.86h-0.54zM224.11,422.38h0.88v1.06h-0.88zM236.58,414.97h0.85v0.79h-0.85zM221.61,414.55h0.71v0.81h-0.71zM214.94,429.88h0.7v1.01h-0.7zM228.4,397.88h0.8v0.8h-0.8zM226.14,408.18h0.63v0.51h-0.63zM212.34,414.29h1.07v1.06h-1.07zM213.74,421.06h0.56v0.95h-0.56zM216.59,412.67h1.03v0.53h-1.03zM227,425.88h1.1v0.58h-1.1zM221.63,430.41h0.7v1.06h-0.7zM230.85,414.7h0.69v1.01h-0.69zM233.62,422.94h1.03v1.08h-1.03zM224.34,409.59h0.79v0.63h-0.79zM228.78,420.1h0.94v0.85h-0.94zM228.94,421.02h0.54v1.06h-0.54zM223.39,400.55h1.08v1.09h-1.08zM225.27,422.83h0.61v0.88h-0.61zM213.57,405.91h0.96v0.82h-0.96zM217.93,427.87h1.07v0.53h-1.07zM217.15,414.22h0.95v0.76h-0.95zM230.04,400.41h1.08v0.85h-1.08zM210.07,402.99h0.98v0.7h-0.98zM235.33,424.64h0.54v1.05h-0.54zM234.99,407.32h1.07v0.86h-1.07zM222.78,398.94h0.63v0.55h-0.63zM222.63,400.85h0.57v0.84h-0.57zM222.33,423.29h1.03v0.87h-1.03zM222.93,396.43h0.76v0.77h-0.76zM214.39,418.3h0.97v1.03h-0.97z" fill="#fff" fill-opacity="0.85"/>
<path d="M210.85,429.68h0.89v0.71h-0.89zM210.36,405.46h1v1.6h-1zM211.55,409.26h1.38v1.46h-1.38zM215.14,428.65h1.09v0.95h-1.09zM209.49,425.18h1.17v0.96h-1.17zM215.79,421.99h1.35v1.33h-1.35zM208.41,426.01h0.72v0.82h-0.72zM215.8,418.88h1.17v0.9h-1.17zM211.8,417.46h0.73v1.57h-0.73zM213.09,415h1.29v1.16h-1.29zM207.65,414.31h1.28v1.55h-1.28zM210.11,404.55h0.8v1.44h-0.8zM210.07,430.64h1.41v1.57h-1.41zM212.2,408.23h1.17v1.4h-1.17zM215.53,421.52h1.21v1.35h-1.21zM209.97,427.38h1.36v1.04h-1.36zM210.12,404.64h1.03v1.17h-1.03zM207.54,418.98h0.94v0.96h-0.94zM208.95,425.17h0.84v1.58h-0.84zM207.83,417.36h1.07v0.72h-1.07zM209.26,425.07h0.78v1.58h-0.78zM209.21,412.31h0.73v0.92h-0.73zM210,427.92h0.86v1.14h-0.86zM211.61,428.78h1.32v1.17h-1.32zM212.1,405.76h0.78v1.29h-0.78zM207.77,418.93h1.54v1.02h-1.54zM213.51,411.78h1.29v0.7h-1.29zM213.61,408.67h1.11v1.15h-1.11zM210.43,422.77h1.32v1.26h-1.32zM214.55,420.22h1.54v0.95h-1.54zM211.07,428.58h1.04v1.55h-1.04zM213.89,417.01h0.9v0.85h-0.9z" fill="#fff" fill-opacity="0.85"/>
<path d="M207.3,381.6C208.86,379.14 211.74,379.8 215.1,380.1C218.46,380.4 221.6,381.4 224.1,383.1C226.6,384.8 227,386.74 227.6,388.6C228.2,390.46 231.16,391.64 227.1,392.4C223.04,393.16 211.26,394.56 207.3,392.4C203.34,390.24 205.74,384.06 207.3,381.6Z" fill="#fff" fill-opacity="0.45"/>
<path d="M207.3,394.8C212.66,393.14 228.94,394.12 234.1,394.8C239.26,395.48 235.3,397.04 233.1,398.2C230.9,399.36 227.1,399.96 223.1,400.6C219.1,401.24 216.26,400.9 213.1,401.4C209.94,401.9 208.46,404.42 207.3,403.1C206.14,401.78 201.94,396.46 207.3,394.8Z" fill="#fff" fill-opacity="0.42"/>
<path d="M207.1,402.6C207.9,396.8 210.02,401 211.1,403.6C212.18,406.2 212.1,409.8 212.5,415.6C212.9,421.4 214.18,429.2 213.1,432.6C212.02,436 208.3,438.6 207.1,432.6C205.9,426.6 206.3,408.4 207.1,402.6Z" fill="#fff" fill-opacity="0.3"/>
<path d="M206.7,385.6C208.05,385.23 209.25,383.85 212.1,384.1C214.95,384.35 215.6,385.1 218.1,386.6C220.6,388.1 219.1,388.85 222.1,390.1C225.1,391.35 228.1,391.23 230.1,391.6" fill="none" stroke="#fff" stroke-width="0.8"/><path d="M206.7,388.6C208.05,388.35 209.5,387.23 212.1,387.6C214.7,387.98 214.85,388.9 217.1,390.1C219.35,391.3 220.1,391.83 221.1,392.4" fill="none" stroke="#fff" stroke-width="0.8"/><path d="M206.7,397.1C208.55,396.88 210.25,396.23 214.1,396.2C217.95,396.18 218.1,396.27 222.1,397C226.1,397.73 226.6,399.2 230.1,399.1C233.6,399 234.6,397.23 236.1,396.6" fill="none" stroke="#fff" stroke-width="0.8"/><path d="M208.1,399.6C209.85,399.4 212.1,398.55 215.1,398.8C218.1,399.05 218.85,400.15 220.1,400.6" fill="none" stroke="#fff" stroke-width="0.8"/>
<path d="M239.8,355.7C241.8,350.75 244.05,355.3 247.8,356.1C251.55,356.9 251.3,358.15 254.8,358.9C258.3,359.65 259.5,357.85 261.8,359.1C264.1,360.35 263.75,360.95 264,363.9C264.25,366.85 264.6,368.55 262.8,370.9C261,373.25 259.8,372.8 256.8,373.3C253.8,373.8 253.8,372.37 250.8,372.9C247.8,373.43 247.55,374.65 244.8,375.4C242.05,376.15 241.05,380.83 239.8,375.9C238.55,370.97 237.8,360.65 239.8,355.7Z" fill="none" stroke="#ed1c24" stroke-width="0.9"/>
<path d="M239.8,397C243.05,386.85 246.05,396.1 252.8,396C259.55,395.9 261.3,395.7 266.8,396.6C272.3,397.5 271.95,397.35 274.8,399.6C277.65,401.85 277.82,401.85 278.2,405.6C278.58,409.35 278.15,410.35 276.3,414.6C274.45,418.85 272.68,419.1 270.8,422.6C268.92,426.1 269.05,425.1 268.8,428.6C268.55,432.1 277.05,434.6 269.8,436.6C262.55,438.6 247.3,446.5 239.8,436.6C232.3,426.7 236.55,407.15 239.8,397Z" fill="none" stroke="#ed1c24" stroke-width="0.95"/><path d="M241.6,398.26C244.53,389.12 247.22,397.45 253.3,397.36C259.38,397.27 260.95,397.09 265.9,397.9C270.85,398.71 270.53,398.57 273.1,400.6C275.67,402.63 275.82,402.62 276.16,406C276.5,409.38 276.12,410.27 274.45,414.1C272.78,417.93 271.19,418.15 269.5,421.3C267.81,424.45 267.93,423.55 267.7,426.7C267.47,429.85 275.13,432.1 268.6,433.9C262.07,435.7 248.35,442.81 241.6,433.9C234.85,424.99 238.67,407.4 241.6,398.26Z" fill="none" stroke="#ed1c24" stroke-width="0.95"/>
<path d="M245.8,407.6C246.68,403.72 247.3,403.23 250.8,401.1C254.3,398.97 255.3,399.1 259.8,399.1C264.3,399.1 265.67,399.22 268.8,401.1C271.93,402.98 272.17,403.22 272.3,406.6C272.43,409.98 271.68,410.97 269.3,414.6C266.92,418.23 266.68,419.1 262.8,421.1C258.92,423.1 257.68,423.73 253.8,422.6C249.92,421.47 249.3,420.35 247.3,416.6C245.3,412.85 244.92,411.48 245.8,407.6Z" fill="none" stroke="#ed1c24" stroke-width="0.95"/><path d="M248.05,407.71C248.77,404.53 249.28,404.12 252.15,402.38C255.02,400.64 255.84,400.74 259.53,400.74C263.22,400.74 264.35,400.84 266.91,402.38C269.47,403.92 269.68,404.12 269.78,406.89C269.88,409.66 269.27,410.48 267.32,413.45C265.37,416.42 265.17,417.14 261.99,418.78C258.81,420.42 257.79,420.93 254.61,420.01C251.43,419.09 250.92,418.16 249.28,415.09C247.64,412.01 247.33,410.89 248.05,407.71Z" fill="none" stroke="#ed1c24" stroke-width="0.95"/><path d="M250.3,407.82C250.86,405.34 251.26,405.02 253.5,403.66C255.74,402.3 256.38,402.38 259.26,402.38C262.14,402.38 263.02,402.46 265.02,403.66C267.02,404.86 267.18,405.02 267.26,407.18C267.34,409.34 266.86,409.98 265.34,412.3C263.82,414.62 263.66,415.18 261.18,416.46C258.7,417.74 257.9,418.14 255.42,417.42C252.94,416.7 252.54,415.98 251.26,413.58C249.98,411.18 249.74,410.3 250.3,407.82Z" fill="none" stroke="#ed1c24" stroke-width="0.95"/><path d="M252.55,407.92C252.95,406.14 253.24,405.91 254.85,404.93C256.46,403.96 256.92,404.01 258.99,404.01C261.06,404.01 261.69,404.07 263.13,404.93C264.57,405.8 264.68,405.91 264.74,407.46C264.8,409.02 264.45,409.48 263.36,411.14C262.27,412.81 262.15,413.21 260.37,414.13C258.59,415.05 258.01,415.34 256.23,414.82C254.45,414.31 254.16,413.79 253.24,412.06C252.32,410.34 252.15,409.71 252.55,407.92Z" fill="none" stroke="#ed1c24" stroke-width="0.95"/><path d="M254.55,408.02C254.81,406.86 255,406.71 256.05,406.07C257.1,405.43 257.4,405.47 258.75,405.47C260.1,405.47 260.51,405.51 261.45,406.07C262.39,406.63 262.46,406.71 262.5,407.72C262.54,408.73 262.31,409.03 261.6,410.12C260.89,411.21 260.81,411.47 259.65,412.07C258.49,412.67 258.11,412.86 256.95,412.52C255.79,412.18 255.6,411.85 255,410.72C254.4,409.59 254.29,409.18 254.55,408.02Z" fill="none" stroke="#ed1c24" stroke-width="0.95"/><path d="M256.43,408.11C256.56,407.53 256.65,407.45 257.18,407.14C257.7,406.82 257.85,406.84 258.53,406.84C259.2,406.84 259.41,406.85 259.88,407.14C260.34,407.42 260.38,407.45 260.4,407.96C260.42,408.47 260.31,408.62 259.95,409.16C259.59,409.7 259.56,409.83 258.98,410.14C258.39,410.44 258.21,410.53 257.62,410.36C257.04,410.19 256.95,410.02 256.65,409.46C256.35,408.9 256.29,408.69 256.43,408.11Z" fill="none" stroke="#ed1c24" stroke-width="0.95"/>
<ellipse cx="247.4" cy="425.4" rx="3.4" ry="2.2" fill="none" stroke="#ed1c24" stroke-width="0.9"/>
<path d="M243.4,430.2C244.88,429.4 247.72,429.04 250.8,429C253.88,428.96 255.6,429.92 258.8,430C262,430.08 264.4,428.8 266.8,429.4C269.2,430 275.48,432.28 270.8,433C266.12,433.72 248.88,433.56 243.4,433C237.92,432.44 241.92,431 243.4,430.2Z" fill="#ed1c24" fill-opacity="0.85"/>
<path d="M243.8,424.6C245.05,425 246.05,426.1 248.8,426.2C251.55,426.3 252.05,424.9 254.8,425C257.55,425.1 257.8,425.45 259.8,426.6C261.8,427.75 262.05,428.85 262.8,429.6" fill="none" stroke="#ed1c24" stroke-width="0.9"/><path d="M243.8,420.6C244.8,421.1 245.8,422.25 247.8,422.6C249.8,422.95 250.8,422.15 251.8,422" fill="none" stroke="#ed1c24" stroke-width="0.9"/>
</g>
<g clip-path="url(#cp22)">
<path d="M354,343.9C355.6,343.78 358.4,343.5 362,343.3C365.6,343.1 368.4,342.62 372,342.9C375.6,343.18 377.32,343.42 380,344.7C382.68,345.98 383.68,346.98 385.4,349.3C387.12,351.62 387.72,352.7 388.6,356.3C389.48,359.9 389.56,363.44 389.8,367.3C390.04,371.16 389.8,371.54 389.8,375.6C389.8,379.66 389.8,385.2 389.8,387.6L354,387.6Z" fill="#ed1c24" stroke="#ed1c24" stroke-width="0.8" stroke-linejoin="round"/>
<path d="M354,387.6C359.37,387.6 384.43,386.1 389.8,387.6C395.17,389.1 389.86,394 389.8,397.6C389.74,401.2 389.67,407.7 389.4,411.6C389.13,415.5 388.42,420.15 388,423.6C387.58,427.05 386.81,432.95 386.6,434.6L354,434.6Z" fill="#ed1c24" stroke="#ed1c24" stroke-width="0.8" stroke-linejoin="round"/>
<path d="M362.48,369.1h0.9v1.03h-0.9zM372.19,366.86h0.57v0.69h-0.57zM376.57,375.32h0.72v0.94h-0.72zM384.51,361.35h0.75v0.89h-0.75zM377.9,377.08h1.03v1.03h-1.03zM373.89,371.78h1.04v0.92h-1.04zM370.3,360.24h0.87v0.51h-0.87zM368.89,347.55h0.69v0.5h-0.69zM368.4,345.43h0.87v0.72h-0.87zM363.57,381.42h1.08v0.72h-1.08zM372.71,385.23h0.76v0.77h-0.76zM365.24,381.37h1.09v0.78h-1.09zM375.82,355.38h0.75v0.98h-0.75zM382.82,362.26h0.92v1h-0.92zM382.8,355.88h0.82v0.73h-0.82zM380.88,366.09h0.71v0.5h-0.71zM378.31,364.97h1.06v0.51h-1.06zM361.55,379.21h0.9v0.9h-0.9zM365.48,365.9h1v0.96h-1zM358.86,367.55h0.98v0.8h-0.98zM359.68,367.6h0.94v0.94h-0.94zM363.29,380.74h0.73v0.9h-0.73zM359.79,378.76h1.06v0.97h-1.06zM363.47,373.56h0.76v0.86h-0.76zM380.83,368.58h1.06v0.54h-1.06zM378.8,355.83h1.1v0.93h-1.1zM367.47,348.3h0.75v0.57h-0.75zM378.59,350.52h0.93v0.63h-0.93zM359.24,365.5h0.72v0.79h-0.72zM355.67,370.71h0.88v1.09h-0.88zM375.3,360.83h0.96v0.73h-0.96zM360.79,356.77h0.94v0.68h-0.94zM366.01,354.44h0.97v0.8h-0.97zM360.7,349.69h0.67v0.5h-0.67zM378.61,356.55h0.89v1h-0.89zM377.2,357.5h1.09v0.73h-1.09zM368.01,347.27h0.72v0.75h-0.72zM364.14,374.22h0.75v1.01h-0.75zM383.85,372.9h0.97v0.84h-0.97zM364.86,356.85h0.96v1.02h-0.96zM362.19,375.07h0.63v0.65h-0.63zM377.19,352.51h0.77v0.88h-0.77zM370.36,366.58h0.71v0.85h-0.71zM374.41,379.05h0.7v0.66h-0.7zM369.44,353.37h0.95v0.95h-0.95zM368.11,367.98h1.01v0.83h-1.01zM359.12,357.41h0.83v1.04h-0.83zM384.74,366.54h0.87v0.74h-0.87zM381.85,354.96h0.86v0.51h-0.86zM363.13,356.39h0.84v1h-0.84zM379.32,379.09h0.69v0.65h-0.69zM374.76,366.98h0.66v0.82h-0.66zM375.78,362.37h0.67v0.72h-0.67zM364.31,356.21h0.9v0.59h-0.9zM380.99,369.62h0.93v0.58h-0.93zM381.71,370.35h0.54v1.06h-0.54zM367.81,357.93h0.75v0.53h-0.75zM377.58,371.71h1.03v1.05h-1.03zM370.24,349.37h0.85v0.81h-0.85zM364.11,353.66h0.74v1h-0.74zM366.99,377.63h0.91v1.08h-0.91zM364.47,376.44h0.74v0.63h-0.74zM361.85,379.61h0.61v0.79h-0.61zM367.58,380.42h0.96v0.57h-0.96zM363.53,366.19h0.89v0.91h-0.89zM371.3,374.97h0.68v0.7h-0.68zM380.95,353.69h0.97v0.74h-0.97zM363.51,367.85h0.78v1.07h-0.78zM377.91,372.32h0.62v1.01h-0.62zM366.67,378.79h0.53v0.91h-0.53zM356.63,363.87h0.93v0.95h-0.93zM369.4,375.51h0.86v0.53h-0.86zM381.74,358.84h0.8v0.72h-0.8zM379.87,372.46h0.96v0.57h-0.96zM380.09,375.18h0.78v0.97h-0.78zM357.37,375.99h1.02v0.69h-1.02zM358.81,361.94h0.77v0.99h-0.77zM366.23,347.94h0.65v0.8h-0.65zM358.97,361.29h0.51v0.99h-0.51zM364.34,368.03h1.01v0.83h-1.01zM369.22,348.15h0.87v1.05h-0.87zM378.13,369.45h0.6v0.88h-0.6zM370.48,368.78h0.58v0.6h-0.58zM360.2,362.05h0.78v0.51h-0.78zM362.57,363.66h0.55v0.53h-0.55zM375.54,375.81h0.6v0.78h-0.6zM376.64,380.24h1.03v0.69h-1.03zM383.26,374.08h0.55v0.89h-0.55z" fill="#fff" fill-opacity="0.85"/>
<path d="M360.14,365.01h1.59v0.85h-1.59zM359.12,362.08h1.6v1.55h-1.6zM356.7,376.83h1.55v1.08h-1.55zM359.97,375.6h0.9v0.84h-0.9zM362.51,370.55h1.05v1.67h-1.05zM358.81,365.99h0.81v1.07h-0.81zM358.76,384.89h1.12v1.67h-1.12zM359.86,376.08h1.6v0.78h-1.6zM360.91,364.34h0.98v1.53h-0.98zM355.52,378.64h1.26v1.64h-1.26zM362.78,370.3h1.39v1.43h-1.39zM359.57,371.92h1.39v1.46h-1.39zM360.53,376.97h0.77v1.24h-0.77zM363.62,380.37h1.12v1.7h-1.12zM359.67,365.54h0.88v1.13h-0.88zM356.37,366.42h1.59v1.02h-1.59zM364.03,374.9h1.39v1.35h-1.39zM361.48,363.11h1.33v1.52h-1.33zM363.44,381.81h1.37v0.79h-1.37zM361.96,381.93h1.01v1.64h-1.01zM359.37,381.78h1.2v1.64h-1.2zM358.43,384.27h1.42v1.27h-1.42zM364.43,369.66h1.45v1.25h-1.45zM362.26,375h1.35v0.82h-1.35zM358.17,367.84h1.09v1.52h-1.09zM362.33,364.61h1.15v1.24h-1.15zM364.79,372.39h1.31v0.78h-1.31zM360.87,371.95h0.82v1.36h-0.82zM361.43,383.4h1.39v0.87h-1.39zM364.19,366.84h1.36v1.68h-1.36zM361.09,365.52h1.52v1.64h-1.52zM359.52,370.14h1.07v1.4h-1.07zM358.64,377.15h1.16v0.84h-1.16zM358.45,374.06h1.43v0.91h-1.43zM361.51,371.89h1.33v1.34h-1.33zM361.25,382.58h1.25v1.32h-1.25zM361.37,381.15h1.54v1.32h-1.54zM360.11,380.47h1.58v0.75h-1.58zM356.45,374.65h1.13v0.7h-1.13zM363.6,380.36h1.16v0.99h-1.16zM358.91,374.28h0.78v1.53h-0.78zM360.13,368.07h1.02v0.78h-1.02zM358.51,381.43h1.45v1.21h-1.45zM362.88,363.53h1.27v0.74h-1.27zM362.72,380.9h0.83v1.6h-0.83zM361.11,374.41h1.7v1.11h-1.7zM356.37,370.27h0.82v1.04h-0.82zM357.08,381.11h1.48v1.39h-1.48z" fill="#fff" fill-opacity="0.85"/>
<path d="M374.29,424.15h1.05v0.6h-1.05zM363.15,424.64h1.1v0.52h-1.1zM366.32,396.67h0.82v1h-0.82zM379.56,420.24h0.69v0.95h-0.69zM367.86,396.77h0.59v0.96h-0.59zM366.58,394.87h0.95v1.07h-0.95zM370.43,428.86h0.98v0.66h-0.98zM376.89,403.55h1.07v0.85h-1.07zM383.9,407.08h0.97v0.72h-0.97zM358.9,414.97h0.98v0.75h-0.98zM375.62,404.52h0.81v0.59h-0.81zM373.86,421.03h0.53v0.84h-0.53zM363.13,401.11h0.98v0.83h-0.98zM368.22,404.73h0.7v0.51h-0.7zM377.42,427.72h0.58v0.86h-0.58zM361.16,423.15h1.02v1h-1.02zM384.38,405.87h0.74v1.09h-0.74zM370.63,399.04h0.7v0.81h-0.7zM372.66,404.88h1.03v0.9h-1.03zM362.02,402.86h0.73v0.74h-0.73zM367.86,396.3h0.93v1.03h-0.93zM371.76,412.17h1.06v0.62h-1.06zM373.74,397.72h0.63v0.51h-0.63zM359.53,417.99h0.53v0.51h-0.53zM366.73,430.68h0.95v0.65h-0.95zM362.05,418.7h0.93v0.67h-0.93zM363.47,422.93h0.64v0.76h-0.64zM369.85,394.97h0.53v0.71h-0.53zM363.47,406.08h0.73v0.84h-0.73zM365.78,417.68h1.02v0.54h-1.02zM373.84,406.83h0.83v0.83h-0.83zM360,419.97h1.03v0.69h-1.03zM376.23,414.23h1.03v0.86h-1.03zM370.24,396.88h0.69v0.91h-0.69zM356.95,401.89h0.6v0.71h-0.6zM364.85,391.06h0.78v0.97h-0.78zM379.27,421.77h0.7v0.92h-0.7zM368.1,419.69h0.66v0.93h-0.66zM366.64,390.17h0.75v0.54h-0.75zM372.74,400.21h0.93v0.79h-0.93zM367.53,411.93h0.64v0.95h-0.64zM356.36,415.77h0.98v0.82h-0.98zM370.74,410.48h0.74v0.82h-0.74zM383.2,417.42h0.59v0.85h-0.59zM368.78,424.07h0.78v0.67h-0.78zM375.82,426.41h0.88v0.55h-0.88zM374.82,409.39h0.63v0.67h-0.63zM363.08,422.19h1.04v0.56h-1.04zM359.41,402.79h0.65v0.71h-0.65zM356.71,417.63h0.97v0.79h-0.97zM378.14,416.13h0.99v0.76h-0.99zM360.73,421.74h0.52v0.89h-0.52zM368.02,403.81h0.75v1.01h-0.75zM369.16,426.57h0.71v0.83h-0.71zM363.19,418.77h1.05v0.92h-1.05zM378.68,410.5h0.78v0.72h-0.78zM376.09,400.71h0.91v0.61h-0.91zM362.48,407.6h1.05v0.72h-1.05zM380.8,405.76h0.7v0.83h-0.7zM381.33,402.89h0.99v0.84h-0.99zM365.87,405.03h1v0.88h-1zM365.07,400.86h0.96v0.82h-0.96zM363.6,430.4h0.96v0.91h-0.96zM376.7,395.09h0.73v1.07h-0.73zM380.2,400.54h0.76v0.8h-0.76zM383.57,416.47h1v0.86h-1zM356.86,414.79h0.51v0.74h-0.51zM369.95,427.75h0.71v0.86h-0.71zM377.68,402.13h0.57v0.51h-0.57zM375.25,397.66h0.76v0.52h-0.76zM370.29,410.93h1.04v0.53h-1.04zM365.5,424.22h0.84v0.63h-0.84zM362.69,396.65h1.09v0.56h-1.09zM368.63,417.36h0.67v0.63h-0.67zM383.23,414.34h0.67v0.95h-0.67zM375.22,392.53h0.51v0.85h-0.51zM377.08,396.52h0.86v0.76h-0.86zM374.83,396.17h0.71v0.8h-0.71zM363.61,412.3h0.9v1h-0.9zM369.13,408.76h0.74v0.96h-0.74z" fill="#fff" fill-opacity="0.85"/>
<path d="M362.42,423.99h1.38v1.23h-1.38zM359.68,416.65h1.4v0.87h-1.4zM357.09,406.85h1.42v0.81h-1.42zM364.27,412.05h1.57v0.88h-1.57zM359.43,403.72h1.4v1.4h-1.4zM355.91,424.1h1.14v1.17h-1.14zM359.58,407.76h1.6v1.03h-1.6zM361.45,410.15h0.82v1.29h-0.82zM360.19,426.52h0.9v1.42h-0.9zM359.67,399.74h0.83v0.75h-0.83zM358.76,412.05h1.42v1.25h-1.42zM364.12,407.89h1.36v1.53h-1.36zM357.31,414.14h0.76v1.4h-0.76zM357.99,402.24h1.21v1.16h-1.21zM362.68,409.23h0.84v1.65h-0.84zM360.34,397.6h1.69v1.14h-1.69zM361.96,425.07h1.19v1.09h-1.19zM360.56,405.83h1.67v0.91h-1.67zM359.04,430.63h0.93v1.42h-0.93zM359.52,425.98h1.17v0.95h-1.17zM362.15,398.96h1.62v0.86h-1.62zM363.27,416.52h1.44v1.25h-1.44zM364.82,410.23h1.38v0.96h-1.38zM358.96,417.26h1.09v1.45h-1.09zM359.13,421.68h1.24v1.6h-1.24zM358.99,409.87h1.13v0.93h-1.13zM361.23,403.83h1.14v1.58h-1.14zM359.03,426.14h1.68v1.01h-1.68zM356.1,411.03h1.03v1.33h-1.03zM355.99,422.37h1.26v1.43h-1.26zM356.26,407.93h1.09v0.85h-1.09zM358.13,422.36h0.71v1.47h-0.71zM356.58,412.67h1.4v0.77h-1.4zM362.98,425.42h0.74v1.57h-0.74zM355.09,413.7h1.56v1.11h-1.56zM358.17,424.46h1.47v1.16h-1.47zM359.07,397h1.45v1.21h-1.45zM359.83,401.96h1.28v1.12h-1.28zM364.56,407.54h1.27v1.26h-1.27zM363,422.77h1.63v0.94h-1.63z" fill="#fff" fill-opacity="0.85"/>
<path d="M355,375.6C356.2,373.16 358.92,373.2 361,374.2C363.08,375.2 364.8,378.16 365.4,380.6C366,383.04 366.08,385.24 364,386.4C361.92,387.56 356.8,388.56 355,386.4C353.2,384.24 353.8,378.04 355,375.6Z" fill="#fff" fill-opacity="0.4"/>
<path d="M355,388.8C358.4,380.04 369.7,387.84 372,388.8C374.3,389.76 368.62,391.44 366.5,393.6C364.38,395.76 362.58,394.8 361.4,399.6C360.22,404.4 360.4,411 360.6,417.6C360.8,424.2 363.52,429.6 362.4,432.6C361.28,435.6 356.48,441.36 355,432.6C353.52,423.84 351.6,397.56 355,388.8Z" fill="#fff" fill-opacity="0.35"/>
<path d="M356,373.6C356.5,375.1 357.75,376.35 358,379.6C358.25,382.85 357.25,384.85 357,386.6" fill="none" stroke="#fff" stroke-width="0.8"/><path d="M368,375.6C368.5,377.1 369.75,378.85 370,381.6C370.25,384.35 369.25,385.35 369,386.6" fill="none" stroke="#fff" stroke-width="0.8"/><path d="M372,376.6C372.5,377.85 373.25,379.1 374,381.6C374.75,384.1 374.75,385.35 375,386.6" fill="none" stroke="#fff" stroke-width="0.8"/><path d="M363,355.3C363.75,357.8 365.75,360.3 366,365.3C366.25,370.3 364.5,372.8 364,375.3" fill="none" stroke="#fff" stroke-width="0.8"/><path d="M369,432.6C369.75,431.1 370.25,426.6 372,426.6C373.75,426.6 375,431.1 376,432.6" fill="none" stroke="#fff" stroke-width="0.8"/><path d="M357,395.6C357.75,397.6 359.75,399.1 360,403.6C360.25,408.1 358.5,411.1 358,413.6" fill="none" stroke="#fff" stroke-width="0.8"/>
<path d="M388.6,360.5C389.5,357.86 391.7,360.32 393.1,361.7C394.5,363.08 394.1,366.36 395.6,367.4C397.1,368.44 398,367.2 400.6,366.9C403.2,366.6 405.8,365.78 408.6,365.9C411.4,366.02 413.2,366.1 414.6,367.5C416,368.9 415.72,370.62 415.6,372.9C415.48,375.18 414.6,376.58 414,378.9C413.4,381.22 414.28,383.26 412.6,384.5C410.92,385.74 408.2,385.22 405.6,385.1C403,384.98 401.7,384.74 399.6,383.9C397.5,383.06 396.3,382.3 395.1,380.9C393.9,379.5 394.9,378.1 393.6,376.9C392.3,375.7 389.6,378.18 388.6,374.9C387.6,371.62 387.7,363.14 388.6,360.5Z" fill="none" stroke="#ed1c24" stroke-width="0.95"/>
<ellipse cx="404.2" cy="377.3" rx="3.6" ry="3.1" fill="none" stroke="#ed1c24" stroke-width="0.8" transform="rotate(-20 404.2 377.3)"/>
<path d="M387.6,393.6C389.85,382.35 392.35,391.7 396.6,391.6C400.85,391.5 400.6,393.05 404.6,393.2C408.6,393.35 408.6,392 412.6,392.2C416.6,392.4 416.97,392.15 420.6,394C424.23,395.85 424.6,396.2 427.1,399.6C429.6,403 430.1,403.35 430.6,407.6C431.1,411.85 429.98,412.35 429.1,416.6C428.22,420.85 427.1,419.6 427.1,424.6C427.1,429.6 438.98,433.6 429.1,436.6C419.22,439.6 397.98,447.35 387.6,436.6C377.22,425.85 385.35,404.85 387.6,393.6Z" fill="none" stroke="#ed1c24" stroke-width="0.95"/><path d="M389.8,395.4C391.83,385.27 394.07,393.69 397.9,393.6C401.73,393.51 401.5,394.9 405.1,395.04C408.7,395.18 408.7,393.96 412.3,394.14C415.9,394.32 416.24,394.09 419.5,395.76C422.76,397.43 423.1,397.74 425.35,400.8C427.6,403.86 428.05,404.17 428.5,408C428.95,411.83 427.94,412.27 427.15,416.1C426.36,419.93 425.35,418.8 425.35,423.3C425.35,427.8 436.04,431.4 427.15,434.1C418.26,436.8 399.14,443.78 389.8,434.1C380.46,424.42 387.77,405.53 389.8,395.4Z" fill="none" stroke="#ed1c24" stroke-width="0.95"/>
<path d="M393.6,406.6C393.85,402.1 395.1,402.2 398.6,399.6C402.1,397 402.85,396.85 407.6,396.2C412.35,395.55 413.35,395.65 417.6,397C421.85,398.35 422.35,398.45 424.6,401.6C426.85,404.75 426.85,405.6 426.6,409.6C426.35,413.6 426.1,414.2 423.6,417.6C421.1,421 420.85,421.7 416.6,423.2C412.35,424.7 411.35,425 406.6,423.6C401.85,422.2 400.85,421.85 397.6,417.6C394.35,413.35 393.35,411.1 393.6,406.6Z" fill="none" stroke="#ed1c24" stroke-width="0.95"/><path d="M396.72,406.76C396.93,402.98 397.98,403.06 400.92,400.88C403.86,398.7 404.49,398.57 408.48,398.02C412.47,397.48 413.31,397.56 416.88,398.7C420.45,399.83 420.87,399.91 422.76,402.56C424.65,405.21 424.65,405.92 424.44,409.28C424.23,412.64 424.02,413.14 421.92,416C419.82,418.86 419.61,419.44 416.04,420.7C412.47,421.96 411.63,422.22 407.64,421.04C403.65,419.86 402.81,419.57 400.08,416C397.35,412.43 396.51,410.54 396.72,406.76Z" fill="none" stroke="#ed1c24" stroke-width="0.95"/><path d="M399.84,406.92C400.01,403.86 400.86,403.93 403.24,402.16C405.62,400.39 406.13,400.29 409.36,399.85C412.59,399.41 413.27,399.47 416.16,400.39C419.05,401.31 419.39,401.38 420.92,403.52C422.45,405.66 422.45,406.24 422.28,408.96C422.11,411.68 421.94,412.09 420.24,414.4C418.54,416.71 418.37,417.19 415.48,418.21C412.59,419.23 411.91,419.43 408.68,418.48C405.45,417.53 404.77,417.29 402.56,414.4C400.35,411.51 399.67,409.98 399.84,406.92Z" fill="none" stroke="#ed1c24" stroke-width="0.95"/><path d="M402.96,407.08C403.09,404.74 403.74,404.79 405.56,403.44C407.38,402.09 407.77,402.01 410.24,401.67C412.71,401.33 413.23,401.39 415.44,402.09C417.65,402.79 417.91,402.84 419.08,404.48C420.25,406.12 420.25,406.56 420.12,408.64C419.99,410.72 419.86,411.03 418.56,412.8C417.26,414.57 417.13,414.93 414.92,415.71C412.71,416.49 412.19,416.65 409.72,415.92C407.25,415.19 406.73,415.01 405.04,412.8C403.35,410.59 402.83,409.42 402.96,407.08Z" fill="none" stroke="#ed1c24" stroke-width="0.95"/><path d="M405.69,407.22C405.79,405.51 406.26,405.55 407.59,404.56C408.92,403.57 409.2,403.52 411.01,403.27C412.82,403.02 413.19,403.06 414.81,403.57C416.43,404.09 416.61,404.12 417.47,405.32C418.33,406.52 418.33,406.84 418.23,408.36C418.13,409.88 418.04,410.11 417.09,411.4C416.14,412.69 416.05,412.96 414.43,413.53C412.81,414.1 412.44,414.21 410.63,413.68C408.82,413.15 408.45,413.02 407.21,411.4C405.97,409.78 405.59,408.93 405.69,407.22Z" fill="none" stroke="#ed1c24" stroke-width="0.95"/>
<path d="M402.96,407.08C403.09,404.74 403.74,404.79 405.56,403.44C407.38,402.09 407.77,402.01 410.24,401.67C412.71,401.33 413.23,401.39 415.44,402.09C417.65,402.79 417.91,402.84 419.08,404.48C420.25,406.12 420.25,406.56 420.12,408.64C419.99,410.72 419.86,411.03 418.56,412.8C417.26,414.57 417.13,414.93 414.92,415.71C412.71,416.49 412.19,416.65 409.72,415.92C407.25,415.19 406.73,415.01 405.04,412.8C403.35,410.59 402.83,409.42 402.96,407.08Z" fill="#ed1c24" fill-opacity="0.5"/>
<ellipse cx="413" cy="407.2" rx="3.4" ry="3.0" fill="#fff" stroke="#ed1c24" stroke-width="0.7"/>
<path d="M396.6,434.6C397.35,433.45 397.35,431.5 399.6,430C401.85,428.5 402.6,428.55 405.6,428.6C408.6,428.65 409.35,428.7 411.6,430.2C413.85,431.7 413.85,433.5 414.6,434.6" fill="none" stroke="#ed1c24" stroke-width="0.9"/>
<path d="M391.6,417.6C393.1,418.35 394.85,418.85 397.6,420.6C400.35,422.35 400.95,421.35 402.6,424.6C404.25,427.85 403.8,431.35 404.2,433.6" fill="none" stroke="#ed1c24" stroke-width="0.9"/><path d="M391.6,422.2C392.85,423.05 394.85,422.75 396.6,425.6C398.35,428.45 398.1,431.6 398.6,433.6" fill="none" stroke="#ed1c24" stroke-width="0.9"/><path d="M410.6,433.6C411.2,431.85 411.25,428.7 413,426.6C414.75,424.5 415.45,424.2 417.6,425.2C419.75,426.2 420.35,428.5 421.6,430.6C422.85,432.7 422.35,432.85 422.6,433.6" fill="none" stroke="#ed1c24" stroke-width="0.9"/>
</g>
<rect x="59.2" y="17.2" width="117.1" height="116.46" fill="none" stroke="#231f20" stroke-width="1.4"/>
<path d="M96,17.2V133.66" stroke="#231f20" stroke-width="1.3"/>
<path d="M59.2,87.7H177.1" stroke="#231f20" stroke-width="2.4"/>
<path d="M59.2,133.66v3.4M59.2,133.66h-3.4M68.01,133.66v2M59.2,124.9h-2M73.17,133.66v2M59.2,119.77h-2M76.83,133.66v2M59.2,116.13h-2M79.66,133.66v2M59.2,113.31h-2M81.98,133.66v2M59.2,111h-2M83.94,133.66v2M59.2,109.05h-2M85.64,133.66v2M59.2,107.37h-2M87.14,133.66v2M59.2,105.88h-2M88.48,133.66v3.4M59.2,104.55h-3.4M97.29,133.66v2M59.2,95.78h-2M102.44,133.66v2M59.2,90.65h-2M106.1,133.66v2M59.2,87.02h-2M108.94,133.66v2M59.2,84.19h-2M111.26,133.66v2M59.2,81.89h-2M113.22,133.66v2M59.2,79.94h-2M114.91,133.66v2M59.2,78.25h-2M116.41,133.66v2M59.2,76.76h-2M117.75,133.66v3.4M59.2,75.43h-3.4M126.56,133.66v2M59.2,66.67h-2M131.72,133.66v2M59.2,61.54h-2M135.38,133.66v2M59.2,57.9h-2M138.21,133.66v2M59.2,55.08h-2M140.53,133.66v2M59.2,52.77h-2M142.49,133.66v2M59.2,50.82h-2M144.19,133.66v2M59.2,49.14h-2M145.69,133.66v2M59.2,47.65h-2M147.03,133.66v3.4M59.2,46.31h-3.4M155.84,133.66v2M59.2,37.55h-2M160.99,133.66v2M59.2,32.42h-2M164.65,133.66v2M59.2,28.79h-2M167.49,133.66v2M59.2,25.96h-2M169.81,133.66v2M59.2,23.66h-2M171.77,133.66v2M59.2,21.71h-2M173.46,133.66v2M59.2,20.02h-2M174.96,133.66v2M59.2,18.53h-2M176.3,133.66v3.4M59.2,17.2h-3.4" stroke="#231f20" stroke-width="0.8" fill="none"/>
<text transform="translate(53.5,146.86) scale(0.88,1)" font-size="10.8">10<tspan dy="-4.8" font-size="6.8">0</tspan></text>
<text transform="translate(41.1,137.46) scale(0.88,1)" font-size="10.8">10<tspan dy="-4.8" font-size="6.8">0</tspan></text>
<text transform="translate(82.78,146.86) scale(0.88,1)" font-size="10.8">10<tspan dy="-4.8" font-size="6.8">1</tspan></text>
<text transform="translate(41.1,108.34) scale(0.88,1)" font-size="10.8">10<tspan dy="-4.8" font-size="6.8">1</tspan></text>
<text transform="translate(112.05,146.86) scale(0.88,1)" font-size="10.8">10<tspan dy="-4.8" font-size="6.8">2</tspan></text>
<text transform="translate(41.1,79.23) scale(0.88,1)" font-size="10.8">10<tspan dy="-4.8" font-size="6.8">2</tspan></text>
<text transform="translate(141.33,146.86) scale(0.88,1)" font-size="10.8">10<tspan dy="-4.8" font-size="6.8">3</tspan></text>
<text transform="translate(41.1,50.11) scale(0.88,1)" font-size="10.8">10<tspan dy="-4.8" font-size="6.8">3</tspan></text>
<text transform="translate(170.6,146.86) scale(0.88,1)" font-size="10.8">10<tspan dy="-4.8" font-size="6.8">4</tspan></text>
<text transform="translate(41.1,21) scale(0.88,1)" font-size="10.8">10<tspan dy="-4.8" font-size="6.8">4</tspan></text>
<text x="174.5" y="28.1" font-size="11" text-anchor="end" fill="#3a3637">0.2%</text>
<text x="174.5" y="131.66" font-size="11" text-anchor="end" fill="#3a3637">0.2%</text>
<rect x="206.1" y="18.1" width="116.8" height="116.1" fill="none" stroke="#231f20" stroke-width="1.4"/>
<path d="M243.2,18.1V134.2" stroke="#231f20" stroke-width="1.3"/>
<path d="M206.1,95H323.7" stroke="#231f20" stroke-width="2.4"/>
<path d="M206.1,134.2v3.4M206.1,134.2h-3.4M214.89,134.2v2M206.1,125.46h-2M220.03,134.2v2M206.1,120.35h-2M223.68,134.2v2M206.1,116.73h-2M226.51,134.2v2M206.1,113.91h-2M228.82,134.2v2M206.1,111.61h-2M230.78,134.2v2M206.1,109.67h-2M232.47,134.2v2M206.1,107.99h-2M233.96,134.2v2M206.1,106.5h-2M235.3,134.2v3.4M206.1,105.18h-3.4M244.09,134.2v2M206.1,96.44h-2M249.23,134.2v2M206.1,91.33h-2M252.88,134.2v2M206.1,87.7h-2M255.71,134.2v2M206.1,84.89h-2M258.02,134.2v2M206.1,82.59h-2M259.98,134.2v2M206.1,80.65h-2M261.67,134.2v2M206.1,78.96h-2M263.16,134.2v2M206.1,77.48h-2M264.5,134.2v3.4M206.1,76.15h-3.4M273.29,134.2v2M206.1,67.41h-2M278.43,134.2v2M206.1,62.3h-2M282.08,134.2v2M206.1,58.68h-2M284.91,134.2v2M206.1,55.86h-2M287.22,134.2v2M206.1,53.56h-2M289.18,134.2v2M206.1,51.62h-2M290.87,134.2v2M206.1,49.94h-2M292.36,134.2v2M206.1,48.45h-2M293.7,134.2v3.4M206.1,47.12h-3.4M302.49,134.2v2M206.1,38.39h-2M307.63,134.2v2M206.1,33.28h-2M311.28,134.2v2M206.1,29.65h-2M314.11,134.2v2M206.1,26.84h-2M316.42,134.2v2M206.1,24.54h-2M318.38,134.2v2M206.1,22.6h-2M320.07,134.2v2M206.1,20.91h-2M321.56,134.2v2M206.1,19.43h-2M322.9,134.2v3.4M206.1,18.1h-3.4" stroke="#231f20" stroke-width="0.8" fill="none"/>
<text transform="translate(200.4,147.4) scale(0.88,1)" font-size="10.8">10<tspan dy="-4.8" font-size="6.8">0</tspan></text>
<text transform="translate(188,138) scale(0.88,1)" font-size="10.8">10<tspan dy="-4.8" font-size="6.8">0</tspan></text>
<text transform="translate(229.6,147.4) scale(0.88,1)" font-size="10.8">10<tspan dy="-4.8" font-size="6.8">1</tspan></text>
<text transform="translate(188,108.98) scale(0.88,1)" font-size="10.8">10<tspan dy="-4.8" font-size="6.8">1</tspan></text>
<text transform="translate(258.8,147.4) scale(0.88,1)" font-size="10.8">10<tspan dy="-4.8" font-size="6.8">2</tspan></text>
<text transform="translate(188,79.95) scale(0.88,1)" font-size="10.8">10<tspan dy="-4.8" font-size="6.8">2</tspan></text>
<text transform="translate(288,147.4) scale(0.88,1)" font-size="10.8">10<tspan dy="-4.8" font-size="6.8">3</tspan></text>
<text transform="translate(188,50.92) scale(0.88,1)" font-size="10.8">10<tspan dy="-4.8" font-size="6.8">3</tspan></text>
<text transform="translate(317.2,147.4) scale(0.88,1)" font-size="10.8">10<tspan dy="-4.8" font-size="6.8">4</tspan></text>
<text transform="translate(188,21.9) scale(0.88,1)" font-size="10.8">10<tspan dy="-4.8" font-size="6.8">4</tspan></text>
<text x="321.1" y="29" font-size="11" text-anchor="end" fill="#3a3637">14.4%</text>
<text x="321.1" y="132.2" font-size="11" text-anchor="end" fill="#3a3637">12.0%</text>
<rect x="354" y="18.1" width="116.6" height="116.1" fill="none" stroke="#231f20" stroke-width="1.4"/>
<path d="M390.7,18.1V134.2" stroke="#231f20" stroke-width="1.3"/>
<path d="M354,88.5H471.4" stroke="#231f20" stroke-width="2.4"/>
<path d="M354,134.2v3.4M354,134.2h-3.4M362.78,134.2v2M354,125.46h-2M367.91,134.2v2M354,120.35h-2M371.55,134.2v2M354,116.73h-2M374.37,134.2v2M354,113.91h-2M376.68,134.2v2M354,111.61h-2M378.63,134.2v2M354,109.67h-2M380.33,134.2v2M354,107.99h-2M381.82,134.2v2M354,106.5h-2M383.15,134.2v3.4M354,105.18h-3.4M391.93,134.2v2M354,96.44h-2M397.06,134.2v2M354,91.33h-2M400.7,134.2v2M354,87.7h-2M403.52,134.2v2M354,84.89h-2M405.83,134.2v2M354,82.59h-2M407.78,134.2v2M354,80.65h-2M409.48,134.2v2M354,78.96h-2M410.97,134.2v2M354,77.48h-2M412.3,134.2v3.4M354,76.15h-3.4M421.08,134.2v2M354,67.41h-2M426.21,134.2v2M354,62.3h-2M429.85,134.2v2M354,58.68h-2M432.67,134.2v2M354,55.86h-2M434.98,134.2v2M354,53.56h-2M436.93,134.2v2M354,51.62h-2M438.63,134.2v2M354,49.94h-2M440.12,134.2v2M354,48.45h-2M441.45,134.2v3.4M354,47.12h-3.4M450.23,134.2v2M354,38.39h-2M455.36,134.2v2M354,33.28h-2M459,134.2v2M354,29.65h-2M461.82,134.2v2M354,26.84h-2M464.13,134.2v2M354,24.54h-2M466.08,134.2v2M354,22.6h-2M467.78,134.2v2M354,20.91h-2M469.27,134.2v2M354,19.43h-2M470.6,134.2v3.4M354,18.1h-3.4" stroke="#231f20" stroke-width="0.8" fill="none"/>
<text transform="translate(348.3,147.4) scale(0.88,1)" font-size="10.8">10<tspan dy="-4.8" font-size="6.8">0</tspan></text>
<text transform="translate(335.9,138) scale(0.88,1)" font-size="10.8">10<tspan dy="-4.8" font-size="6.8">0</tspan></text>
<text transform="translate(377.45,147.4) scale(0.88,1)" font-size="10.8">10<tspan dy="-4.8" font-size="6.8">1</tspan></text>
<text transform="translate(335.9,108.98) scale(0.88,1)" font-size="10.8">10<tspan dy="-4.8" font-size="6.8">1</tspan></text>
<text transform="translate(406.6,147.4) scale(0.88,1)" font-size="10.8">10<tspan dy="-4.8" font-size="6.8">2</tspan></text>
<text transform="translate(335.9,79.95) scale(0.88,1)" font-size="10.8">10<tspan dy="-4.8" font-size="6.8">2</tspan></text>
<text transform="translate(435.75,147.4) scale(0.88,1)" font-size="10.8">10<tspan dy="-4.8" font-size="6.8">3</tspan></text>
<text transform="translate(335.9,50.92) scale(0.88,1)" font-size="10.8">10<tspan dy="-4.8" font-size="6.8">3</tspan></text>
<text transform="translate(464.9,147.4) scale(0.88,1)" font-size="10.8">10<tspan dy="-4.8" font-size="6.8">4</tspan></text>
<text transform="translate(335.9,21.9) scale(0.88,1)" font-size="10.8">10<tspan dy="-4.8" font-size="6.8">4</tspan></text>
<text x="468.8" y="29" font-size="11" text-anchor="end" fill="#3a3637">11.5%</text>
<text x="468.8" y="132.2" font-size="11" text-anchor="end" fill="#3a3637">18.4%</text>
<rect x="59.2" y="170.4" width="117.1" height="116.8" fill="none" stroke="#231f20" stroke-width="1.4"/>
<path d="M96.3,170.4V287.2" stroke="#231f20" stroke-width="1.3"/>
<path d="M59.2,241H177.1" stroke="#231f20" stroke-width="2.4"/>
<path d="M59.2,287.2v3.4M59.2,287.2h-3.4M68.01,287.2v2M59.2,278.41h-2M73.17,287.2v2M59.2,273.27h-2M76.83,287.2v2M59.2,269.62h-2M79.66,287.2v2M59.2,266.79h-2M81.98,287.2v2M59.2,264.48h-2M83.94,287.2v2M59.2,262.52h-2M85.64,287.2v2M59.2,260.83h-2M87.14,287.2v2M59.2,259.34h-2M88.48,287.2v3.4M59.2,258h-3.4M97.29,287.2v2M59.2,249.21h-2M102.44,287.2v2M59.2,244.07h-2M106.1,287.2v2M59.2,240.42h-2M108.94,287.2v2M59.2,237.59h-2M111.26,287.2v2M59.2,235.28h-2M113.22,287.2v2M59.2,233.32h-2M114.91,287.2v2M59.2,231.63h-2M116.41,287.2v2M59.2,230.14h-2M117.75,287.2v3.4M59.2,228.8h-3.4M126.56,287.2v2M59.2,220.01h-2M131.72,287.2v2M59.2,214.87h-2M135.38,287.2v2M59.2,211.22h-2M138.21,287.2v2M59.2,208.39h-2M140.53,287.2v2M59.2,206.08h-2M142.49,287.2v2M59.2,204.12h-2M144.19,287.2v2M59.2,202.43h-2M145.69,287.2v2M59.2,200.94h-2M147.03,287.2v3.4M59.2,199.6h-3.4M155.84,287.2v2M59.2,190.81h-2M160.99,287.2v2M59.2,185.67h-2M164.65,287.2v2M59.2,182.02h-2M167.49,287.2v2M59.2,179.19h-2M169.81,287.2v2M59.2,176.88h-2M171.77,287.2v2M59.2,174.92h-2M173.46,287.2v2M59.2,173.23h-2M174.96,287.2v2M59.2,171.74h-2M176.3,287.2v3.4M59.2,170.4h-3.4" stroke="#231f20" stroke-width="0.8" fill="none"/>
<text transform="translate(53.5,300.4) scale(0.88,1)" font-size="10.8">10<tspan dy="-4.8" font-size="6.8">0</tspan></text>
<text transform="translate(41.1,291) scale(0.88,1)" font-size="10.8">10<tspan dy="-4.8" font-size="6.8">0</tspan></text>
<text transform="translate(82.78,300.4) scale(0.88,1)" font-size="10.8">10<tspan dy="-4.8" font-size="6.8">1</tspan></text>
<text transform="translate(41.1,261.8) scale(0.88,1)" font-size="10.8">10<tspan dy="-4.8" font-size="6.8">1</tspan></text>
<text transform="translate(112.05,300.4) scale(0.88,1)" font-size="10.8">10<tspan dy="-4.8" font-size="6.8">2</tspan></text>
<text transform="translate(41.1,232.6) scale(0.88,1)" font-size="10.8">10<tspan dy="-4.8" font-size="6.8">2</tspan></text>
<text transform="translate(141.33,300.4) scale(0.88,1)" font-size="10.8">10<tspan dy="-4.8" font-size="6.8">3</tspan></text>
<text transform="translate(41.1,203.4) scale(0.88,1)" font-size="10.8">10<tspan dy="-4.8" font-size="6.8">3</tspan></text>
<text transform="translate(170.6,300.4) scale(0.88,1)" font-size="10.8">10<tspan dy="-4.8" font-size="6.8">4</tspan></text>
<text transform="translate(41.1,174.2) scale(0.88,1)" font-size="10.8">10<tspan dy="-4.8" font-size="6.8">4</tspan></text>
<text x="174.5" y="181.3" font-size="11" text-anchor="end" fill="#3a3637">0.0%</text>
<text x="174.5" y="285.2" font-size="11" text-anchor="end" fill="#3a3637">0.0%</text>
<rect x="206.9" y="170.4" width="117.2" height="116.8" fill="none" stroke="#231f20" stroke-width="1.4"/>
<path d="M244.2,170.4V287.2" stroke="#231f20" stroke-width="1.3"/>
<path d="M206.9,247.6H324.9" stroke="#231f20" stroke-width="2.4"/>
<path d="M206.9,287.2v3.4M206.9,287.2h-3.4M215.72,287.2v2M206.9,278.41h-2M220.88,287.2v2M206.9,273.27h-2M224.54,287.2v2M206.9,269.62h-2M227.38,287.2v2M206.9,266.79h-2M229.7,287.2v2M206.9,264.48h-2M231.66,287.2v2M206.9,262.52h-2M233.36,287.2v2M206.9,260.83h-2M234.86,287.2v2M206.9,259.34h-2M236.2,287.2v3.4M206.9,258h-3.4M245.02,287.2v2M206.9,249.21h-2M250.18,287.2v2M206.9,244.07h-2M253.84,287.2v2M206.9,240.42h-2M256.68,287.2v2M206.9,237.59h-2M259,287.2v2M206.9,235.28h-2M260.96,287.2v2M206.9,233.32h-2M262.66,287.2v2M206.9,231.63h-2M264.16,287.2v2M206.9,230.14h-2M265.5,287.2v3.4M206.9,228.8h-3.4M274.32,287.2v2M206.9,220.01h-2M279.48,287.2v2M206.9,214.87h-2M283.14,287.2v2M206.9,211.22h-2M285.98,287.2v2M206.9,208.39h-2M288.3,287.2v2M206.9,206.08h-2M290.26,287.2v2M206.9,204.12h-2M291.96,287.2v2M206.9,202.43h-2M293.46,287.2v2M206.9,200.94h-2M294.8,287.2v3.4M206.9,199.6h-3.4M303.62,287.2v2M206.9,190.81h-2M308.78,287.2v2M206.9,185.67h-2M312.44,287.2v2M206.9,182.02h-2M315.28,287.2v2M206.9,179.19h-2M317.6,287.2v2M206.9,176.88h-2M319.56,287.2v2M206.9,174.92h-2M321.26,287.2v2M206.9,173.23h-2M322.76,287.2v2M206.9,171.74h-2M324.1,287.2v3.4M206.9,170.4h-3.4" stroke="#231f20" stroke-width="0.8" fill="none"/>
<text transform="translate(201.2,300.4) scale(0.88,1)" font-size="10.8">10<tspan dy="-4.8" font-size="6.8">0</tspan></text>
<text transform="translate(188.8,291) scale(0.88,1)" font-size="10.8">10<tspan dy="-4.8" font-size="6.8">0</tspan></text>
<text transform="translate(230.5,300.4) scale(0.88,1)" font-size="10.8">10<tspan dy="-4.8" font-size="6.8">1</tspan></text>
<text transform="translate(188.8,261.8) scale(0.88,1)" font-size="10.8">10<tspan dy="-4.8" font-size="6.8">1</tspan></text>
<text transform="translate(259.8,300.4) scale(0.88,1)" font-size="10.8">10<tspan dy="-4.8" font-size="6.8">2</tspan></text>
<text transform="translate(188.8,232.6) scale(0.88,1)" font-size="10.8">10<tspan dy="-4.8" font-size="6.8">2</tspan></text>
<text transform="translate(289.1,300.4) scale(0.88,1)" font-size="10.8">10<tspan dy="-4.8" font-size="6.8">3</tspan></text>
<text transform="translate(188.8,203.4) scale(0.88,1)" font-size="10.8">10<tspan dy="-4.8" font-size="6.8">3</tspan></text>
<text transform="translate(318.4,300.4) scale(0.88,1)" font-size="10.8">10<tspan dy="-4.8" font-size="6.8">4</tspan></text>
<text transform="translate(188.8,174.2) scale(0.88,1)" font-size="10.8">10<tspan dy="-4.8" font-size="6.8">4</tspan></text>
<text x="322.3" y="181.3" font-size="11" text-anchor="end" fill="#3a3637">12.7%</text>
<text x="322.3" y="285.2" font-size="11" text-anchor="end" fill="#3a3637">10.1%</text>
<rect x="354" y="170.4" width="116.6" height="116.8" fill="none" stroke="#231f20" stroke-width="1.4"/>
<path d="M391,170.4V287.2" stroke="#231f20" stroke-width="1.3"/>
<path d="M354,241H471.4" stroke="#231f20" stroke-width="2.4"/>
<path d="M354,287.2v3.4M354,287.2h-3.4M362.78,287.2v2M354,278.41h-2M367.91,287.2v2M354,273.27h-2M371.55,287.2v2M354,269.62h-2M374.37,287.2v2M354,266.79h-2M376.68,287.2v2M354,264.48h-2M378.63,287.2v2M354,262.52h-2M380.33,287.2v2M354,260.83h-2M381.82,287.2v2M354,259.34h-2M383.15,287.2v3.4M354,258h-3.4M391.93,287.2v2M354,249.21h-2M397.06,287.2v2M354,244.07h-2M400.7,287.2v2M354,240.42h-2M403.52,287.2v2M354,237.59h-2M405.83,287.2v2M354,235.28h-2M407.78,287.2v2M354,233.32h-2M409.48,287.2v2M354,231.63h-2M410.97,287.2v2M354,230.14h-2M412.3,287.2v3.4M354,228.8h-3.4M421.08,287.2v2M354,220.01h-2M426.21,287.2v2M354,214.87h-2M429.85,287.2v2M354,211.22h-2M432.67,287.2v2M354,208.39h-2M434.98,287.2v2M354,206.08h-2M436.93,287.2v2M354,204.12h-2M438.63,287.2v2M354,202.43h-2M440.12,287.2v2M354,200.94h-2M441.45,287.2v3.4M354,199.6h-3.4M450.23,287.2v2M354,190.81h-2M455.36,287.2v2M354,185.67h-2M459,287.2v2M354,182.02h-2M461.82,287.2v2M354,179.19h-2M464.13,287.2v2M354,176.88h-2M466.08,287.2v2M354,174.92h-2M467.78,287.2v2M354,173.23h-2M469.27,287.2v2M354,171.74h-2M470.6,287.2v3.4M354,170.4h-3.4" stroke="#231f20" stroke-width="0.8" fill="none"/>
<text transform="translate(348.3,300.4) scale(0.88,1)" font-size="10.8">10<tspan dy="-4.8" font-size="6.8">0</tspan></text>
<text transform="translate(335.9,291) scale(0.88,1)" font-size="10.8">10<tspan dy="-4.8" font-size="6.8">0</tspan></text>
<text transform="translate(377.45,300.4) scale(0.88,1)" font-size="10.8">10<tspan dy="-4.8" font-size="6.8">1</tspan></text>
<text transform="translate(335.9,261.8) scale(0.88,1)" font-size="10.8">10<tspan dy="-4.8" font-size="6.8">1</tspan></text>
<text transform="translate(406.6,300.4) scale(0.88,1)" font-size="10.8">10<tspan dy="-4.8" font-size="6.8">2</tspan></text>
<text transform="translate(335.9,232.6) scale(0.88,1)" font-size="10.8">10<tspan dy="-4.8" font-size="6.8">2</tspan></text>
<text transform="translate(435.75,300.4) scale(0.88,1)" font-size="10.8">10<tspan dy="-4.8" font-size="6.8">3</tspan></text>
<text transform="translate(335.9,203.4) scale(0.88,1)" font-size="10.8">10<tspan dy="-4.8" font-size="6.8">3</tspan></text>
<text transform="translate(464.9,300.4) scale(0.88,1)" font-size="10.8">10<tspan dy="-4.8" font-size="6.8">4</tspan></text>
<text transform="translate(335.9,174.2) scale(0.88,1)" font-size="10.8">10<tspan dy="-4.8" font-size="6.8">4</tspan></text>
<text x="468.8" y="181.3" font-size="11" text-anchor="end" fill="#3a3637">10.8%</text>
<text x="468.8" y="285.2" font-size="11" text-anchor="end" fill="#3a3637">21.8%</text>
<rect x="59.2" y="316.9" width="117.1" height="116.7" fill="none" stroke="#231f20" stroke-width="1.4"/>
<path d="M96.3,316.9V433.6" stroke="#231f20" stroke-width="1.3"/>
<path d="M59.2,387.7H177.1" stroke="#231f20" stroke-width="2.4"/>
<path d="M59.2,433.6v3.4M59.2,433.6h-3.4M68.01,433.6v2M59.2,424.82h-2M73.17,433.6v2M59.2,419.68h-2M76.83,433.6v2M59.2,416.03h-2M79.66,433.6v2M59.2,413.21h-2M81.98,433.6v2M59.2,410.9h-2M83.94,433.6v2M59.2,408.94h-2M85.64,433.6v2M59.2,407.25h-2M87.14,433.6v2M59.2,405.76h-2M88.48,433.6v3.4M59.2,404.43h-3.4M97.29,433.6v2M59.2,395.64h-2M102.44,433.6v2M59.2,390.5h-2M106.1,433.6v2M59.2,386.86h-2M108.94,433.6v2M59.2,384.03h-2M111.26,433.6v2M59.2,381.72h-2M113.22,433.6v2M59.2,379.77h-2M114.91,433.6v2M59.2,378.08h-2M116.41,433.6v2M59.2,376.58h-2M117.75,433.6v3.4M59.2,375.25h-3.4M126.56,433.6v2M59.2,366.47h-2M131.72,433.6v2M59.2,361.33h-2M135.38,433.6v2M59.2,357.68h-2M138.21,433.6v2M59.2,354.86h-2M140.53,433.6v2M59.2,352.55h-2M142.49,433.6v2M59.2,350.59h-2M144.19,433.6v2M59.2,348.9h-2M145.69,433.6v2M59.2,347.41h-2M147.03,433.6v3.4M59.2,346.07h-3.4M155.84,433.6v2M59.2,337.29h-2M160.99,433.6v2M59.2,332.15h-2M164.65,433.6v2M59.2,328.51h-2M167.49,433.6v2M59.2,325.68h-2M169.81,433.6v2M59.2,323.37h-2M171.77,433.6v2M59.2,321.42h-2M173.46,433.6v2M59.2,319.73h-2M174.96,433.6v2M59.2,318.23h-2M176.3,433.6v3.4M59.2,316.9h-3.4" stroke="#231f20" stroke-width="0.8" fill="none"/>
<text transform="translate(53.5,446.8) scale(0.88,1)" font-size="10.8">10<tspan dy="-4.8" font-size="6.8">0</tspan></text>
<text transform="translate(41.1,437.4) scale(0.88,1)" font-size="10.8">10<tspan dy="-4.8" font-size="6.8">0</tspan></text>
<text transform="translate(82.78,446.8) scale(0.88,1)" font-size="10.8">10<tspan dy="-4.8" font-size="6.8">1</tspan></text>
<text transform="translate(41.1,408.23) scale(0.88,1)" font-size="10.8">10<tspan dy="-4.8" font-size="6.8">1</tspan></text>
<text transform="translate(112.05,446.8) scale(0.88,1)" font-size="10.8">10<tspan dy="-4.8" font-size="6.8">2</tspan></text>
<text transform="translate(41.1,379.05) scale(0.88,1)" font-size="10.8">10<tspan dy="-4.8" font-size="6.8">2</tspan></text>
<text transform="translate(141.33,446.8) scale(0.88,1)" font-size="10.8">10<tspan dy="-4.8" font-size="6.8">3</tspan></text>
<text transform="translate(41.1,349.88) scale(0.88,1)" font-size="10.8">10<tspan dy="-4.8" font-size="6.8">3</tspan></text>
<text transform="translate(170.6,446.8) scale(0.88,1)" font-size="10.8">10<tspan dy="-4.8" font-size="6.8">4</tspan></text>
<text transform="translate(41.1,320.7) scale(0.88,1)" font-size="10.8">10<tspan dy="-4.8" font-size="6.8">4</tspan></text>
<text x="174.5" y="327.8" font-size="11" text-anchor="end" fill="#3a3637">0.4%</text>
<text x="174.5" y="431.6" font-size="11" text-anchor="end" fill="#3a3637">3.2%</text>
<rect x="206.1" y="316.9" width="116.8" height="116.7" fill="none" stroke="#231f20" stroke-width="1.4"/>
<path d="M242.8,316.9V433.6" stroke="#231f20" stroke-width="1.3"/>
<path d="M206.1,393.6H323.7" stroke="#231f20" stroke-width="2.4"/>
<path d="M206.1,433.6v3.4M206.1,433.6h-3.4M214.89,433.6v2M206.1,424.82h-2M220.03,433.6v2M206.1,419.68h-2M223.68,433.6v2M206.1,416.03h-2M226.51,433.6v2M206.1,413.21h-2M228.82,433.6v2M206.1,410.9h-2M230.78,433.6v2M206.1,408.94h-2M232.47,433.6v2M206.1,407.25h-2M233.96,433.6v2M206.1,405.76h-2M235.3,433.6v3.4M206.1,404.43h-3.4M244.09,433.6v2M206.1,395.64h-2M249.23,433.6v2M206.1,390.5h-2M252.88,433.6v2M206.1,386.86h-2M255.71,433.6v2M206.1,384.03h-2M258.02,433.6v2M206.1,381.72h-2M259.98,433.6v2M206.1,379.77h-2M261.67,433.6v2M206.1,378.08h-2M263.16,433.6v2M206.1,376.58h-2M264.5,433.6v3.4M206.1,375.25h-3.4M273.29,433.6v2M206.1,366.47h-2M278.43,433.6v2M206.1,361.33h-2M282.08,433.6v2M206.1,357.68h-2M284.91,433.6v2M206.1,354.86h-2M287.22,433.6v2M206.1,352.55h-2M289.18,433.6v2M206.1,350.59h-2M290.87,433.6v2M206.1,348.9h-2M292.36,433.6v2M206.1,347.41h-2M293.7,433.6v3.4M206.1,346.07h-3.4M302.49,433.6v2M206.1,337.29h-2M307.63,433.6v2M206.1,332.15h-2M311.28,433.6v2M206.1,328.51h-2M314.11,433.6v2M206.1,325.68h-2M316.42,433.6v2M206.1,323.37h-2M318.38,433.6v2M206.1,321.42h-2M320.07,433.6v2M206.1,319.73h-2M321.56,433.6v2M206.1,318.23h-2M322.9,433.6v3.4M206.1,316.9h-3.4" stroke="#231f20" stroke-width="0.8" fill="none"/>
<text transform="translate(200.4,446.8) scale(0.88,1)" font-size="10.8">10<tspan dy="-4.8" font-size="6.8">0</tspan></text>
<text transform="translate(188,437.4) scale(0.88,1)" font-size="10.8">10<tspan dy="-4.8" font-size="6.8">0</tspan></text>
<text transform="translate(229.6,446.8) scale(0.88,1)" font-size="10.8">10<tspan dy="-4.8" font-size="6.8">1</tspan></text>
<text transform="translate(188,408.23) scale(0.88,1)" font-size="10.8">10<tspan dy="-4.8" font-size="6.8">1</tspan></text>
<text transform="translate(258.8,446.8) scale(0.88,1)" font-size="10.8">10<tspan dy="-4.8" font-size="6.8">2</tspan></text>
<text transform="translate(188,379.05) scale(0.88,1)" font-size="10.8">10<tspan dy="-4.8" font-size="6.8">2</tspan></text>
<text transform="translate(288,446.8) scale(0.88,1)" font-size="10.8">10<tspan dy="-4.8" font-size="6.8">3</tspan></text>
<text transform="translate(188,349.88) scale(0.88,1)" font-size="10.8">10<tspan dy="-4.8" font-size="6.8">3</tspan></text>
<text transform="translate(317.2,446.8) scale(0.88,1)" font-size="10.8">10<tspan dy="-4.8" font-size="6.8">4</tspan></text>
<text transform="translate(188,320.7) scale(0.88,1)" font-size="10.8">10<tspan dy="-4.8" font-size="6.8">4</tspan></text>
<text x="321.1" y="327.8" font-size="11" text-anchor="end" fill="#3a3637">2.7%</text>
<text x="321.1" y="431.6" font-size="11" text-anchor="end" fill="#3a3637">14.9%</text>
<rect x="354" y="316.9" width="116.6" height="116.7" fill="none" stroke="#231f20" stroke-width="1.4"/>
<path d="M390.6,316.9V433.6" stroke="#231f20" stroke-width="1.3"/>
<path d="M354,387.6H471.4" stroke="#231f20" stroke-width="2.4"/>
<path d="M354,433.6v3.4M354,433.6h-3.4M362.78,433.6v2M354,424.82h-2M367.91,433.6v2M354,419.68h-2M371.55,433.6v2M354,416.03h-2M374.37,433.6v2M354,413.21h-2M376.68,433.6v2M354,410.9h-2M378.63,433.6v2M354,408.94h-2M380.33,433.6v2M354,407.25h-2M381.82,433.6v2M354,405.76h-2M383.15,433.6v3.4M354,404.43h-3.4M391.93,433.6v2M354,395.64h-2M397.06,433.6v2M354,390.5h-2M400.7,433.6v2M354,386.86h-2M403.52,433.6v2M354,384.03h-2M405.83,433.6v2M354,381.72h-2M407.78,433.6v2M354,379.77h-2M409.48,433.6v2M354,378.08h-2M410.97,433.6v2M354,376.58h-2M412.3,433.6v3.4M354,375.25h-3.4M421.08,433.6v2M354,366.47h-2M426.21,433.6v2M354,361.33h-2M429.85,433.6v2M354,357.68h-2M432.67,433.6v2M354,354.86h-2M434.98,433.6v2M354,352.55h-2M436.93,433.6v2M354,350.59h-2M438.63,433.6v2M354,348.9h-2M440.12,433.6v2M354,347.41h-2M441.45,433.6v3.4M354,346.07h-3.4M450.23,433.6v2M354,337.29h-2M455.36,433.6v2M354,332.15h-2M459,433.6v2M354,328.51h-2M461.82,433.6v2M354,325.68h-2M464.13,433.6v2M354,323.37h-2M466.08,433.6v2M354,321.42h-2M467.78,433.6v2M354,319.73h-2M469.27,433.6v2M354,318.23h-2M470.6,433.6v3.4M354,316.9h-3.4" stroke="#231f20" stroke-width="0.8" fill="none"/>
<text transform="translate(348.3,446.8) scale(0.88,1)" font-size="10.8">10<tspan dy="-4.8" font-size="6.8">0</tspan></text>
<text transform="translate(335.9,437.4) scale(0.88,1)" font-size="10.8">10<tspan dy="-4.8" font-size="6.8">0</tspan></text>
<text transform="translate(377.45,446.8) scale(0.88,1)" font-size="10.8">10<tspan dy="-4.8" font-size="6.8">1</tspan></text>
<text transform="translate(335.9,408.23) scale(0.88,1)" font-size="10.8">10<tspan dy="-4.8" font-size="6.8">1</tspan></text>
<text transform="translate(406.6,446.8) scale(0.88,1)" font-size="10.8">10<tspan dy="-4.8" font-size="6.8">2</tspan></text>
<text transform="translate(335.9,379.05) scale(0.88,1)" font-size="10.8">10<tspan dy="-4.8" font-size="6.8">2</tspan></text>
<text transform="translate(435.75,446.8) scale(0.88,1)" font-size="10.8">10<tspan dy="-4.8" font-size="6.8">3</tspan></text>
<text transform="translate(335.9,349.88) scale(0.88,1)" font-size="10.8">10<tspan dy="-4.8" font-size="6.8">3</tspan></text>
<text transform="translate(464.9,446.8) scale(0.88,1)" font-size="10.8">10<tspan dy="-4.8" font-size="6.8">4</tspan></text>
<text transform="translate(335.9,320.7) scale(0.88,1)" font-size="10.8">10<tspan dy="-4.8" font-size="6.8">4</tspan></text>
<text x="468.8" y="327.8" font-size="11" text-anchor="end" fill="#3a3637">3.0%</text>
<text x="468.8" y="431.6" font-size="11" text-anchor="end" fill="#3a3637">19.0%</text>
<text x="117.9" y="10.3" font-size="13" text-anchor="middle">S2</text>
<text x="265.7" y="10.3" font-size="13" text-anchor="middle">S2–CD48–ULBP1–HLA-E</text>
<text x="413.4" y="10.3" font-size="13" text-anchor="middle">S2–HLA-E + IgG</text>
<text x="496.6" y="10.3" font-size="13" text-anchor="middle">Peptide</text>
<text x="116.8" y="163.9" font-size="13" text-anchor="middle">S2–HLA-E</text>
<text x="265.7" y="163.9" font-size="13" text-anchor="middle">S2–CD48–ULBP1–HLA-E</text>
<text x="413.4" y="163.9" font-size="13" text-anchor="middle">S2–HLA-E + IgG</text>
<text x="489.6" y="80.4" font-size="13">no</text>
<text x="473.6" y="241.3" font-size="13" fill="#1b75bc">sp B*27</text>
<text x="473.2" y="379.2" font-size="13" fill="#ed1c24">sp C*03</text>
<text x="0.6" y="26.6" font-size="24.5" font-weight="bold">A</text>
<path d="M30.7,432V264M30.7,187.5V33" stroke="#231f20" stroke-width="1.6" fill="none"/>
<path d="M30.6,17.6L36.6,34.6H24.6Z" fill="#231f20"/>
<text transform="translate(37.9,261.4) rotate(-90)" font-size="20.6" textLength="67.4" lengthAdjust="spacingAndGlyphs">NKG2A</text>
<path d="M62.5,461H225M306,461H456" stroke="#231f20" stroke-width="1.6" fill="none"/>
<path d="M472.6,461.1L454.8,454.7V467.5Z" fill="#231f20"/>
<text x="227.6" y="467.6" font-size="20">CD107a</text>
<text x="278.4" y="490.8" font-size="19">S2</text>
</g>
<text x="-0.4" y="500.6" font-size="24.5" font-weight="bold">B</text>
<g>
<path d="M74.6,491.8V751.3" stroke="#231f20" stroke-width="1.5" fill="none"/>
<path d="M74.6,750.6H67.9M74.6,707.58H67.9M74.6,664.57H67.9M74.6,621.55H67.9M74.6,578.53H67.9M74.6,535.52H67.9M74.6,492.5H67.9" stroke="#231f20" stroke-width="1.4" fill="none"/>
<text transform="translate(66.9,756.8) scale(0.95,1)" font-size="17" text-anchor="end">0</text>
<text transform="translate(66.9,713.78) scale(0.95,1)" font-size="17" text-anchor="end">10</text>
<text transform="translate(66.9,670.77) scale(0.95,1)" font-size="17" text-anchor="end">20</text>
<text transform="translate(66.9,627.75) scale(0.95,1)" font-size="17" text-anchor="end">30</text>
<text transform="translate(66.9,584.73) scale(0.95,1)" font-size="17" text-anchor="end">40</text>
<text transform="translate(66.9,541.72) scale(0.95,1)" font-size="17" text-anchor="end">50</text>
<text transform="translate(66.9,498.7) scale(0.95,1)" font-size="17" text-anchor="end">60</text>
<path d="M74.3,750.6H98M117,750.6H495.5" stroke="#231f20" stroke-width="1.5" fill="none"/>
<path d="M96.3,756L109.8,744.2M104.6,756L118.4,744.2" stroke="#231f20" stroke-width="1.9" fill="none"/>
<text x="74.8" y="771.2" font-size="17" text-anchor="middle">0</text>
<text transform="translate(165.3,772.8) scale(0.93,1)" font-size="17">10<tspan dy="-6.8" font-size="10.4">−7</tspan></text>
<text transform="translate(233.3,772.8) scale(0.93,1)" font-size="17">10<tspan dy="-6.8" font-size="10.4">−6</tspan></text>
<text transform="translate(301.3,772.8) scale(0.93,1)" font-size="17">10<tspan dy="-6.8" font-size="10.4">−5</tspan></text>
<text transform="translate(369.3,772.8) scale(0.93,1)" font-size="17">10<tspan dy="-6.8" font-size="10.4">−4</tspan></text>
<text transform="translate(437.4,772.8) scale(0.93,1)" font-size="17">10<tspan dy="-6.8" font-size="10.4">−3</tspan></text>
<path d="M176.2,750.6v6.6M244.2,750.6v6.6M312.2,750.6v6.6M380.2,750.6v6.6M448.3,750.6v6.6" stroke="#231f20" stroke-width="1.4" fill="none"/>
<path d="M72,787.2H257.5M305,787.2H478" stroke="#231f20" stroke-width="1.6" fill="none"/>
<path d="M495.5,787.2L477,780.8V793.6Z" fill="#231f20"/>
<text x="259.4" y="794.1" font-size="20">[IgG]</text>
<text transform="translate(37.4,623.05) rotate(-90)" font-size="19.6" text-anchor="middle">ΔCD107a<tspan dy="-6.2" font-size="12">+</tspan><tspan dy="6.2"> (%)</tspan></text>
<path d="M74.4,749.31C89.63,749.31 119.6,749.31 142.1,749.31C164.6,749.31 159.24,749.31 174.4,749.31C189.56,749.31 194.16,749.41 209.5,749.31C224.84,749.21 227.19,751.4 242.6,748.88C258.01,746.36 262.61,746.74 278,738.13C293.39,729.51 295.7,729.86 311,710.59C326.3,691.33 330.79,684.85 346,652.52C361.21,620.19 363.19,596.34 378.6,566.92C394.01,537.5 399.25,531.53 414.5,521.75C429.75,511.98 431.12,519.21 446.4,523.47C461.68,527.73 474.3,536.81 482.4,540.68" fill="none" stroke="#231f20" stroke-width="1.8"/>
<path d="M74.4,749.31C89.63,749.31 119.6,749.31 142.1,749.31C164.6,749.31 159.24,749.31 174.4,749.31C189.56,749.31 194.16,749.41 209.5,749.31C224.84,749.21 227.19,749.75 242.6,748.88C258.01,748.01 262.61,750.28 278,745.44C293.39,740.6 295.7,740.92 311,727.37C326.3,713.82 330.79,709.7 346,685.21C361.21,660.73 363.19,647.38 378.6,618.54C394.01,589.7 399.25,570.58 414.5,557.02C429.75,543.47 431.12,552.31 446.4,558.32C461.68,564.32 474.3,577.98 482.4,583.7" fill="none" stroke="#231f20" stroke-width="1.8"/>
<path d="M66.8,749.31L74.4,740.91L82,749.31L74.4,757.71Z" fill="#d4d5d6" stroke="#231f20" stroke-width="1.7" stroke-linejoin="miter"/>
<path d="M134.5,749.31L142.1,740.91L149.7,749.31L142.1,757.71Z" fill="#d4d5d6" stroke="#231f20" stroke-width="1.7" stroke-linejoin="miter"/>
<path d="M166.8,749.31L174.4,740.91L182,749.31L174.4,757.71Z" fill="#d4d5d6" stroke="#231f20" stroke-width="1.7" stroke-linejoin="miter"/>
<path d="M201.9,749.31L209.5,740.91L217.1,749.31L209.5,757.71Z" fill="#d4d5d6" stroke="#231f20" stroke-width="1.7" stroke-linejoin="miter"/>
<path d="M235,748.88L242.6,740.48L250.2,748.88L242.6,757.28Z" fill="#d4d5d6" stroke="#231f20" stroke-width="1.7" stroke-linejoin="miter"/>
<path d="M270.4,738.13L278,729.73L285.6,738.13L278,746.53Z" fill="#d4d5d6" stroke="#231f20" stroke-width="1.7" stroke-linejoin="miter"/>
<path d="M303.4,710.59L311,702.19L318.6,710.59L311,718.99Z" fill="#d4d5d6" stroke="#231f20" stroke-width="1.7" stroke-linejoin="miter"/>
<path d="M338.4,652.52L346,644.12L353.6,652.52L346,660.92Z" fill="#d4d5d6" stroke="#231f20" stroke-width="1.7" stroke-linejoin="miter"/>
<path d="M371,566.92L378.6,558.52L386.2,566.92L378.6,575.32Z" fill="#d4d5d6" stroke="#231f20" stroke-width="1.7" stroke-linejoin="miter"/>
<path d="M406.9,521.75L414.5,513.35L422.1,521.75L414.5,530.15Z" fill="#d4d5d6" stroke="#231f20" stroke-width="1.7" stroke-linejoin="miter"/>
<path d="M438.8,523.47L446.4,515.07L454,523.47L446.4,531.87Z" fill="#d4d5d6" stroke="#231f20" stroke-width="1.7" stroke-linejoin="miter"/>
<path d="M474.8,540.68L482.4,532.28L490,540.68L482.4,549.08Z" fill="#d4d5d6" stroke="#231f20" stroke-width="1.7" stroke-linejoin="miter"/>
<rect x="66.6" y="740.51" width="15.6" height="17.6" fill="#d4d5d6" stroke="#231f20" stroke-width="1.7"/>
<rect x="134.3" y="740.51" width="15.6" height="17.6" fill="#d4d5d6" stroke="#231f20" stroke-width="1.7"/>
<rect x="166.6" y="740.51" width="15.6" height="17.6" fill="#d4d5d6" stroke="#231f20" stroke-width="1.7"/>
<rect x="201.7" y="740.51" width="15.6" height="17.6" fill="#d4d5d6" stroke="#231f20" stroke-width="1.7"/>
<rect x="234.8" y="740.08" width="15.6" height="17.6" fill="#d4d5d6" stroke="#231f20" stroke-width="1.7"/>
<rect x="270.2" y="736.64" width="15.6" height="17.6" fill="#d4d5d6" stroke="#231f20" stroke-width="1.7"/>
<rect x="303.2" y="718.57" width="15.6" height="17.6" fill="#d4d5d6" stroke="#231f20" stroke-width="1.7"/>
<rect x="338.2" y="676.41" width="15.6" height="17.6" fill="#d4d5d6" stroke="#231f20" stroke-width="1.7"/>
<rect x="370.8" y="609.74" width="15.6" height="17.6" fill="#d4d5d6" stroke="#231f20" stroke-width="1.7"/>
<rect x="406.7" y="548.23" width="15.6" height="17.6" fill="#d4d5d6" stroke="#231f20" stroke-width="1.7"/>
<rect x="438.6" y="549.52" width="15.6" height="17.6" fill="#d4d5d6" stroke="#231f20" stroke-width="1.7"/>
<rect x="474.6" y="574.9" width="15.6" height="17.6" fill="#d4d5d6" stroke="#231f20" stroke-width="1.7"/>
<path d="M79.6,505.6H127.8" stroke="#231f20" stroke-width="1.2"/>
<rect x="95.95" y="498.2" width="14.9" height="14.8" fill="#d4d5d6" stroke="#231f20" stroke-width="1.5"/>
<text x="131.8" y="510.2" font-size="13">NKG2A<tspan dy="-6" font-size="8">+</tspan></text>
<path d="M79.6,525.4H127.8" stroke="#231f20" stroke-width="1.2"/>
<path d="M96.3,525.4L103.2,519L110.1,525.4L103.2,531.8Z" fill="#d4d5d6" stroke="#231f20" stroke-width="1.5" stroke-linejoin="miter"/>
<text x="131.8" y="530" font-size="13">NKG2A<tspan dy="-6" font-size="8">−</tspan></text>
</g>
<text x="-0.4" y="844.4" font-size="24.5" font-weight="bold">C</text>
<g>
<path d="M74.6,838.6V1098" stroke="#231f20" stroke-width="1.5" fill="none"/>
<path d="M74.6,1097.3H67.9M74.6,1054.3H67.9M74.6,1011.3H67.9M74.6,968.3H67.9M74.6,925.3H67.9M74.6,882.3H67.9M74.6,839.3H67.9" stroke="#231f20" stroke-width="1.4" fill="none"/>
<text transform="translate(66.9,1103.5) scale(0.95,1)" font-size="17" text-anchor="end">0</text>
<text transform="translate(66.9,1060.5) scale(0.95,1)" font-size="17" text-anchor="end">10</text>
<text transform="translate(66.9,1017.5) scale(0.95,1)" font-size="17" text-anchor="end">20</text>
<text transform="translate(66.9,974.5) scale(0.95,1)" font-size="17" text-anchor="end">30</text>
<text transform="translate(66.9,931.5) scale(0.95,1)" font-size="17" text-anchor="end">40</text>
<text transform="translate(66.9,888.5) scale(0.95,1)" font-size="17" text-anchor="end">50</text>
<text transform="translate(66.9,845.5) scale(0.95,1)" font-size="17" text-anchor="end">60</text>
<path d="M74.3,1097.3H98M117,1097.3H495.5" stroke="#231f20" stroke-width="1.5" fill="none"/>
<path d="M96.3,1102.7L109.8,1090.9M104.6,1102.7L118.4,1090.9" stroke="#231f20" stroke-width="1.9" fill="none"/>
<text x="74.8" y="1117.9" font-size="17" text-anchor="middle">0</text>
<text transform="translate(165.3,1119.5) scale(0.93,1)" font-size="17">10<tspan dy="-6.8" font-size="10.4">−7</tspan></text>
<text transform="translate(233.3,1119.5) scale(0.93,1)" font-size="17">10<tspan dy="-6.8" font-size="10.4">−6</tspan></text>
<text transform="translate(301.3,1119.5) scale(0.93,1)" font-size="17">10<tspan dy="-6.8" font-size="10.4">−5</tspan></text>
<text transform="translate(369.3,1119.5) scale(0.93,1)" font-size="17">10<tspan dy="-6.8" font-size="10.4">−4</tspan></text>
<text transform="translate(437.4,1119.5) scale(0.93,1)" font-size="17">10<tspan dy="-6.8" font-size="10.4">−3</tspan></text>
<path d="M176.2,1097.3v6.6M244.2,1097.3v6.6M312.2,1097.3v6.6M380.2,1097.3v6.6M448.3,1097.3v6.6" stroke="#231f20" stroke-width="1.4" fill="none"/>
<path d="M72,1133.9H257.5M305,1133.9H478" stroke="#231f20" stroke-width="1.6" fill="none"/>
<path d="M495.5,1133.9L477,1127.5V1140.3Z" fill="#231f20"/>
<text x="259.4" y="1140.8" font-size="20">[IgG]</text>
<text transform="translate(37.4,969.8) rotate(-90)" font-size="19.6" text-anchor="middle">ΔCD107a<tspan dy="-6.2" font-size="12">+</tspan><tspan dy="6.2"> (%)</tspan></text>
<path d="M82.7,1095.15C97.46,1095.15 126.45,1095.15 148.3,1095.15C170.15,1095.15 164.84,1095.15 179.8,1095.15C194.76,1095.15 199.84,1095.25 214.8,1095.15C229.76,1095.05 231.29,1095.2 246.3,1094.72C261.31,1094.24 266.61,1096.77 281.5,1093C296.39,1089.23 297.47,1089.08 312.5,1077.95C327.53,1066.82 333.27,1065.32 348.3,1043.55C363.33,1021.78 364.43,1005.39 379.3,981.2C394.17,957.01 399.35,948.82 414.4,936.05C429.45,923.28 431.17,924.92 446.2,924.44C461.23,923.96 473.32,931.77 481.2,933.9" fill="none" stroke="#231f20" stroke-width="1.8"/>
<path d="M82.7,1093.86C97.46,1093.86 126.45,1093.86 148.3,1093.86C170.15,1093.86 164.84,1093.86 179.8,1093.86C194.76,1093.86 199.84,1093.96 214.8,1093.86C229.76,1093.76 231.29,1094.4 246.3,1093.43C261.31,1092.46 266.61,1094.3 281.5,1089.56C296.39,1084.82 297.47,1086.29 312.5,1072.36C327.53,1058.43 333.27,1056.37 348.3,1027.64C363.33,998.91 364.43,972.03 379.3,944.65C394.17,917.27 399.35,921.04 414.4,905.95C429.45,890.86 431.17,878.05 446.2,877.57C461.23,877.09 473.32,897.9 481.2,903.8" fill="none" stroke="#231f20" stroke-width="1.8"/>
<path d="M82.7,1094.72C97.46,1094.72 126.45,1094.72 148.3,1094.72C170.15,1094.72 164.84,1094.72 179.8,1094.72C194.76,1094.72 199.84,1094.82 214.8,1094.72C229.76,1094.62 231.29,1095.64 246.3,1094.29C261.31,1092.94 266.61,1096.25 281.5,1088.7C296.39,1081.15 297.47,1077.68 312.5,1060.75C327.53,1043.82 333.27,1041.51 348.3,1013.45C363.33,985.39 364.43,960.72 379.3,936.05C394.17,911.38 399.35,912.99 414.4,903.8C429.45,894.61 431.17,891.81 446.2,895.2C461.23,898.59 473.32,913.53 481.2,918.85" fill="none" stroke="#231f20" stroke-width="1.8"/>
<path d="M82.7,1093C97.46,1093 126.45,1093 148.3,1093C170.15,1093 164.84,1093 179.8,1093C194.76,1093 199.84,1093.19 214.8,1093C229.76,1092.81 231.29,1094.27 246.3,1092.14C261.31,1090.01 266.61,1093.99 281.5,1083.54C296.39,1073.09 297.47,1070.18 312.5,1045.7C327.53,1021.22 333.27,1009.58 348.3,974.75C363.33,939.92 364.43,916.44 379.3,890.9C394.17,865.36 399.35,867.42 414.4,861.23C429.45,855.04 431.17,857.67 446.2,863.38C461.23,869.09 473.32,881.38 481.2,886.6" fill="none" stroke="#231f20" stroke-width="1.8"/>
<path d="M82.7,1095.58C97.46,1095.58 126.45,1095.58 148.3,1095.58C170.15,1095.58 164.84,1095.58 179.8,1095.58C194.76,1095.58 199.84,1095.58 214.8,1095.58C229.76,1095.58 231.29,1096.16 246.3,1095.58C261.31,1095 266.61,1094.74 281.5,1093C296.39,1091.26 297.47,1091.71 312.5,1087.84C327.53,1083.97 333.27,1084.12 348.3,1075.8C363.33,1067.48 364.43,1065.66 379.3,1050.86C394.17,1036.06 399.35,1019.2 414.4,1010.01C429.45,1000.82 431.17,1007.3 446.2,1010.01C461.23,1012.72 473.32,1019.34 481.2,1022.05" fill="none" stroke="#231f20" stroke-width="1.8"/>
<path d="M82.7,1086.12C97.46,1086.22 126.45,1086.55 148.3,1086.55C170.15,1086.55 164.84,1086.8 179.8,1086.12C194.76,1085.44 199.84,1083.93 214.8,1083.54C229.76,1083.15 231.29,1086.72 246.3,1084.4C261.31,1082.08 266.61,1083.57 281.5,1073.22C296.39,1062.87 297.47,1058.51 312.5,1038.39C327.53,1018.27 333.27,1009.23 348.3,983.78C363.33,958.33 364.43,949.58 379.3,925.3C394.17,901.02 399.35,883.59 414.4,875.85C429.45,868.11 431.17,885.09 446.2,890.9C461.23,896.71 473.32,899.23 481.2,901.65" fill="none" stroke="#231f20" stroke-width="1.8"/>
<rect x="74.85" y="1087.3" width="15.7" height="15.7" fill="#d4d5d6" stroke="#231f20" stroke-width="1.6"/>
<rect x="140.45" y="1087.3" width="15.7" height="15.7" fill="#d4d5d6" stroke="#231f20" stroke-width="1.6"/>
<rect x="171.95" y="1087.3" width="15.7" height="15.7" fill="#d4d5d6" stroke="#231f20" stroke-width="1.6"/>
<rect x="206.95" y="1087.3" width="15.7" height="15.7" fill="#d4d5d6" stroke="#231f20" stroke-width="1.6"/>
<rect x="238.45" y="1086.87" width="15.7" height="15.7" fill="#d4d5d6" stroke="#231f20" stroke-width="1.6"/>
<rect x="273.65" y="1085.15" width="15.7" height="15.7" fill="#d4d5d6" stroke="#231f20" stroke-width="1.6"/>
<rect x="304.65" y="1070.1" width="15.7" height="15.7" fill="#d4d5d6" stroke="#231f20" stroke-width="1.6"/>
<rect x="340.45" y="1035.7" width="15.7" height="15.7" fill="#d4d5d6" stroke="#231f20" stroke-width="1.6"/>
<rect x="371.45" y="973.35" width="15.7" height="15.7" fill="#d4d5d6" stroke="#231f20" stroke-width="1.6"/>
<rect x="406.55" y="928.2" width="15.7" height="15.7" fill="#d4d5d6" stroke="#231f20" stroke-width="1.6"/>
<rect x="438.35" y="916.59" width="15.7" height="15.7" fill="#d4d5d6" stroke="#231f20" stroke-width="1.6"/>
<rect x="473.35" y="926.05" width="15.7" height="15.7" fill="#d4d5d6" stroke="#231f20" stroke-width="1.6"/>
<path d="M75.2,1093.86L82.7,1086.76L90.2,1093.86L82.7,1100.96Z" fill="#d4d5d6" stroke="#231f20" stroke-width="1.6" stroke-linejoin="miter"/>
<path d="M140.8,1093.86L148.3,1086.76L155.8,1093.86L148.3,1100.96Z" fill="#d4d5d6" stroke="#231f20" stroke-width="1.6" stroke-linejoin="miter"/>
<path d="M172.3,1093.86L179.8,1086.76L187.3,1093.86L179.8,1100.96Z" fill="#d4d5d6" stroke="#231f20" stroke-width="1.6" stroke-linejoin="miter"/>
<path d="M207.3,1093.86L214.8,1086.76L222.3,1093.86L214.8,1100.96Z" fill="#d4d5d6" stroke="#231f20" stroke-width="1.6" stroke-linejoin="miter"/>
<path d="M238.8,1093.43L246.3,1086.33L253.8,1093.43L246.3,1100.53Z" fill="#d4d5d6" stroke="#231f20" stroke-width="1.6" stroke-linejoin="miter"/>
<path d="M274,1089.56L281.5,1082.46L289,1089.56L281.5,1096.66Z" fill="#d4d5d6" stroke="#231f20" stroke-width="1.6" stroke-linejoin="miter"/>
<path d="M305,1072.36L312.5,1065.26L320,1072.36L312.5,1079.46Z" fill="#d4d5d6" stroke="#231f20" stroke-width="1.6" stroke-linejoin="miter"/>
<path d="M340.8,1027.64L348.3,1020.54L355.8,1027.64L348.3,1034.74Z" fill="#d4d5d6" stroke="#231f20" stroke-width="1.6" stroke-linejoin="miter"/>
<path d="M371.8,944.65L379.3,937.55L386.8,944.65L379.3,951.75Z" fill="#d4d5d6" stroke="#231f20" stroke-width="1.6" stroke-linejoin="miter"/>
<path d="M406.9,905.95L414.4,898.85L421.9,905.95L414.4,913.05Z" fill="#d4d5d6" stroke="#231f20" stroke-width="1.6" stroke-linejoin="miter"/>
<path d="M438.7,877.57L446.2,870.47L453.7,877.57L446.2,884.67Z" fill="#d4d5d6" stroke="#231f20" stroke-width="1.6" stroke-linejoin="miter"/>
<path d="M473.7,903.8L481.2,896.7L488.7,903.8L481.2,910.9Z" fill="#d4d5d6" stroke="#231f20" stroke-width="1.6" stroke-linejoin="miter"/>
<rect x="74.85" y="1086.87" width="15.7" height="15.7" fill="#1b75bc" stroke="#231f20" stroke-width="1.6"/>
<rect x="140.45" y="1086.87" width="15.7" height="15.7" fill="#1b75bc" stroke="#231f20" stroke-width="1.6"/>
<rect x="171.95" y="1086.87" width="15.7" height="15.7" fill="#1b75bc" stroke="#231f20" stroke-width="1.6"/>
<rect x="206.95" y="1086.87" width="15.7" height="15.7" fill="#1b75bc" stroke="#231f20" stroke-width="1.6"/>
<rect x="238.45" y="1086.44" width="15.7" height="15.7" fill="#1b75bc" stroke="#231f20" stroke-width="1.6"/>
<rect x="273.65" y="1080.85" width="15.7" height="15.7" fill="#1b75bc" stroke="#231f20" stroke-width="1.6"/>
<rect x="304.65" y="1052.9" width="15.7" height="15.7" fill="#1b75bc" stroke="#231f20" stroke-width="1.6"/>
<rect x="340.45" y="1005.6" width="15.7" height="15.7" fill="#1b75bc" stroke="#231f20" stroke-width="1.6"/>
<rect x="371.45" y="928.2" width="15.7" height="15.7" fill="#1b75bc" stroke="#231f20" stroke-width="1.6"/>
<rect x="406.55" y="895.95" width="15.7" height="15.7" fill="#1b75bc" stroke="#231f20" stroke-width="1.6"/>
<rect x="438.35" y="887.35" width="15.7" height="15.7" fill="#1b75bc" stroke="#231f20" stroke-width="1.6"/>
<rect x="473.35" y="911" width="15.7" height="15.7" fill="#1b75bc" stroke="#231f20" stroke-width="1.6"/>
<path d="M75.2,1093L82.7,1085.9L90.2,1093L82.7,1100.1Z" fill="#1b75bc" stroke="#231f20" stroke-width="1.6" stroke-linejoin="miter"/>
<path d="M140.8,1093L148.3,1085.9L155.8,1093L148.3,1100.1Z" fill="#1b75bc" stroke="#231f20" stroke-width="1.6" stroke-linejoin="miter"/>
<path d="M172.3,1093L179.8,1085.9L187.3,1093L179.8,1100.1Z" fill="#1b75bc" stroke="#231f20" stroke-width="1.6" stroke-linejoin="miter"/>
<path d="M207.3,1093L214.8,1085.9L222.3,1093L214.8,1100.1Z" fill="#1b75bc" stroke="#231f20" stroke-width="1.6" stroke-linejoin="miter"/>
<path d="M238.8,1092.14L246.3,1085.04L253.8,1092.14L246.3,1099.24Z" fill="#1b75bc" stroke="#231f20" stroke-width="1.6" stroke-linejoin="miter"/>
<path d="M274,1083.54L281.5,1076.44L289,1083.54L281.5,1090.64Z" fill="#1b75bc" stroke="#231f20" stroke-width="1.6" stroke-linejoin="miter"/>
<path d="M305,1045.7L312.5,1038.6L320,1045.7L312.5,1052.8Z" fill="#1b75bc" stroke="#231f20" stroke-width="1.6" stroke-linejoin="miter"/>
<path d="M340.8,974.75L348.3,967.65L355.8,974.75L348.3,981.85Z" fill="#1b75bc" stroke="#231f20" stroke-width="1.6" stroke-linejoin="miter"/>
<path d="M371.8,890.9L379.3,883.8L386.8,890.9L379.3,898Z" fill="#1b75bc" stroke="#231f20" stroke-width="1.6" stroke-linejoin="miter"/>
<path d="M406.9,861.23L414.4,854.13L421.9,861.23L414.4,868.33Z" fill="#1b75bc" stroke="#231f20" stroke-width="1.6" stroke-linejoin="miter"/>
<path d="M438.7,863.38L446.2,856.28L453.7,863.38L446.2,870.48Z" fill="#1b75bc" stroke="#231f20" stroke-width="1.6" stroke-linejoin="miter"/>
<path d="M473.7,886.6L481.2,879.5L488.7,886.6L481.2,893.7Z" fill="#1b75bc" stroke="#231f20" stroke-width="1.6" stroke-linejoin="miter"/>
<rect x="74.85" y="1087.73" width="15.7" height="15.7" fill="#ed1c24" stroke="#231f20" stroke-width="1.6"/>
<rect x="140.45" y="1087.73" width="15.7" height="15.7" fill="#ed1c24" stroke="#231f20" stroke-width="1.6"/>
<rect x="171.95" y="1087.73" width="15.7" height="15.7" fill="#ed1c24" stroke="#231f20" stroke-width="1.6"/>
<rect x="206.95" y="1087.73" width="15.7" height="15.7" fill="#ed1c24" stroke="#231f20" stroke-width="1.6"/>
<rect x="238.45" y="1087.73" width="15.7" height="15.7" fill="#ed1c24" stroke="#231f20" stroke-width="1.6"/>
<rect x="273.65" y="1085.15" width="15.7" height="15.7" fill="#ed1c24" stroke="#231f20" stroke-width="1.6"/>
<rect x="304.65" y="1079.99" width="15.7" height="15.7" fill="#ed1c24" stroke="#231f20" stroke-width="1.6"/>
<rect x="340.45" y="1067.95" width="15.7" height="15.7" fill="#ed1c24" stroke="#231f20" stroke-width="1.6"/>
<rect x="371.45" y="1043.01" width="15.7" height="15.7" fill="#ed1c24" stroke="#231f20" stroke-width="1.6"/>
<rect x="406.55" y="1002.16" width="15.7" height="15.7" fill="#ed1c24" stroke="#231f20" stroke-width="1.6"/>
<rect x="438.35" y="1002.16" width="15.7" height="15.7" fill="#ed1c24" stroke="#231f20" stroke-width="1.6"/>
<rect x="473.35" y="1014.2" width="15.7" height="15.7" fill="#ed1c24" stroke="#231f20" stroke-width="1.6"/>
<path d="M75.2,1086.12L82.7,1079.02L90.2,1086.12L82.7,1093.22Z" fill="#ed1c24" stroke="#231f20" stroke-width="1.6" stroke-linejoin="miter"/>
<path d="M140.8,1086.55L148.3,1079.45L155.8,1086.55L148.3,1093.65Z" fill="#ed1c24" stroke="#231f20" stroke-width="1.6" stroke-linejoin="miter"/>
<path d="M172.3,1086.12L179.8,1079.02L187.3,1086.12L179.8,1093.22Z" fill="#ed1c24" stroke="#231f20" stroke-width="1.6" stroke-linejoin="miter"/>
<path d="M207.3,1083.54L214.8,1076.44L222.3,1083.54L214.8,1090.64Z" fill="#ed1c24" stroke="#231f20" stroke-width="1.6" stroke-linejoin="miter"/>
<path d="M238.8,1084.4L246.3,1077.3L253.8,1084.4L246.3,1091.5Z" fill="#ed1c24" stroke="#231f20" stroke-width="1.6" stroke-linejoin="miter"/>
<path d="M274,1073.22L281.5,1066.12L289,1073.22L281.5,1080.32Z" fill="#ed1c24" stroke="#231f20" stroke-width="1.6" stroke-linejoin="miter"/>
<path d="M305,1038.39L312.5,1031.29L320,1038.39L312.5,1045.49Z" fill="#ed1c24" stroke="#231f20" stroke-width="1.6" stroke-linejoin="miter"/>
<path d="M340.8,983.78L348.3,976.68L355.8,983.78L348.3,990.88Z" fill="#ed1c24" stroke="#231f20" stroke-width="1.6" stroke-linejoin="miter"/>
<path d="M371.8,925.3L379.3,918.2L386.8,925.3L379.3,932.4Z" fill="#ed1c24" stroke="#231f20" stroke-width="1.6" stroke-linejoin="miter"/>
<path d="M406.9,875.85L414.4,868.75L421.9,875.85L414.4,882.95Z" fill="#ed1c24" stroke="#231f20" stroke-width="1.6" stroke-linejoin="miter"/>
<path d="M438.7,890.9L446.2,883.8L453.7,890.9L446.2,898Z" fill="#ed1c24" stroke="#231f20" stroke-width="1.6" stroke-linejoin="miter"/>
<path d="M473.7,901.65L481.2,894.55L488.7,901.65L481.2,908.75Z" fill="#ed1c24" stroke="#231f20" stroke-width="1.6" stroke-linejoin="miter"/>
<path d="M79.6,849.5H127.8" stroke="#231f20" stroke-width="1.2"/>
<rect x="95.95" y="842.1" width="14.9" height="14.8" fill="#d4d5d6" stroke="#231f20" stroke-width="1.5"/>
<text x="131.8" y="854.1" font-size="13">NKG2A<tspan dy="-6" font-size="8">+</tspan><tspan dy="6">: no peptide</tspan></text>
<path d="M79.6,868.8H127.8" stroke="#231f20" stroke-width="1.2"/>
<path d="M96.3,868.8L103.2,862.4L110.1,868.8L103.2,875.2Z" fill="#d4d5d6" stroke="#231f20" stroke-width="1.5" stroke-linejoin="miter"/>
<text x="131.8" y="873.4" font-size="13">NKG2A<tspan dy="-6" font-size="8">−</tspan><tspan dy="6">: no peptide</tspan></text>
<path d="M79.6,889.3H127.8" stroke="#231f20" stroke-width="1.2"/>
<rect x="95.95" y="881.9" width="14.9" height="14.8" fill="#1b75bc" stroke="#231f20" stroke-width="1.5"/>
<text x="131.8" y="893.9" font-size="13">NKG2A<tspan dy="-6" font-size="8">+</tspan><tspan dy="6">: sp B*27</tspan></text>
<path d="M79.6,909.5H127.8" stroke="#231f20" stroke-width="1.2"/>
<path d="M96.3,909.5L103.2,903.1L110.1,909.5L103.2,915.9Z" fill="#1b75bc" stroke="#231f20" stroke-width="1.5" stroke-linejoin="miter"/>
<text x="131.8" y="914.1" font-size="13">NKG2A<tspan dy="-6" font-size="8">−</tspan><tspan dy="6">: sp B*27</tspan></text>
<path d="M79.6,930H127.8" stroke="#231f20" stroke-width="1.2"/>
<rect x="95.95" y="922.6" width="14.9" height="14.8" fill="#ed1c24" stroke="#231f20" stroke-width="1.5"/>
<text x="131.8" y="934.6" font-size="13">NKG2A<tspan dy="-6" font-size="8">+</tspan><tspan dy="6">: sp C*03</tspan></text>
<path d="M79.6,950.5H127.8" stroke="#231f20" stroke-width="1.2"/>
<path d="M96.3,950.5L103.2,944.1L110.1,950.5L103.2,956.9Z" fill="#ed1c24" stroke="#231f20" stroke-width="1.5" stroke-linejoin="miter"/>
<text x="131.8" y="955.1" font-size="13">NKG2A<tspan dy="-6" font-size="8">−</tspan><tspan dy="6">: sp C*03</tspan></text>
<text x="243.4" y="835" font-size="19.6">S2–HLA-E</text>
</g>
</g>
</svg>
</body></html>
